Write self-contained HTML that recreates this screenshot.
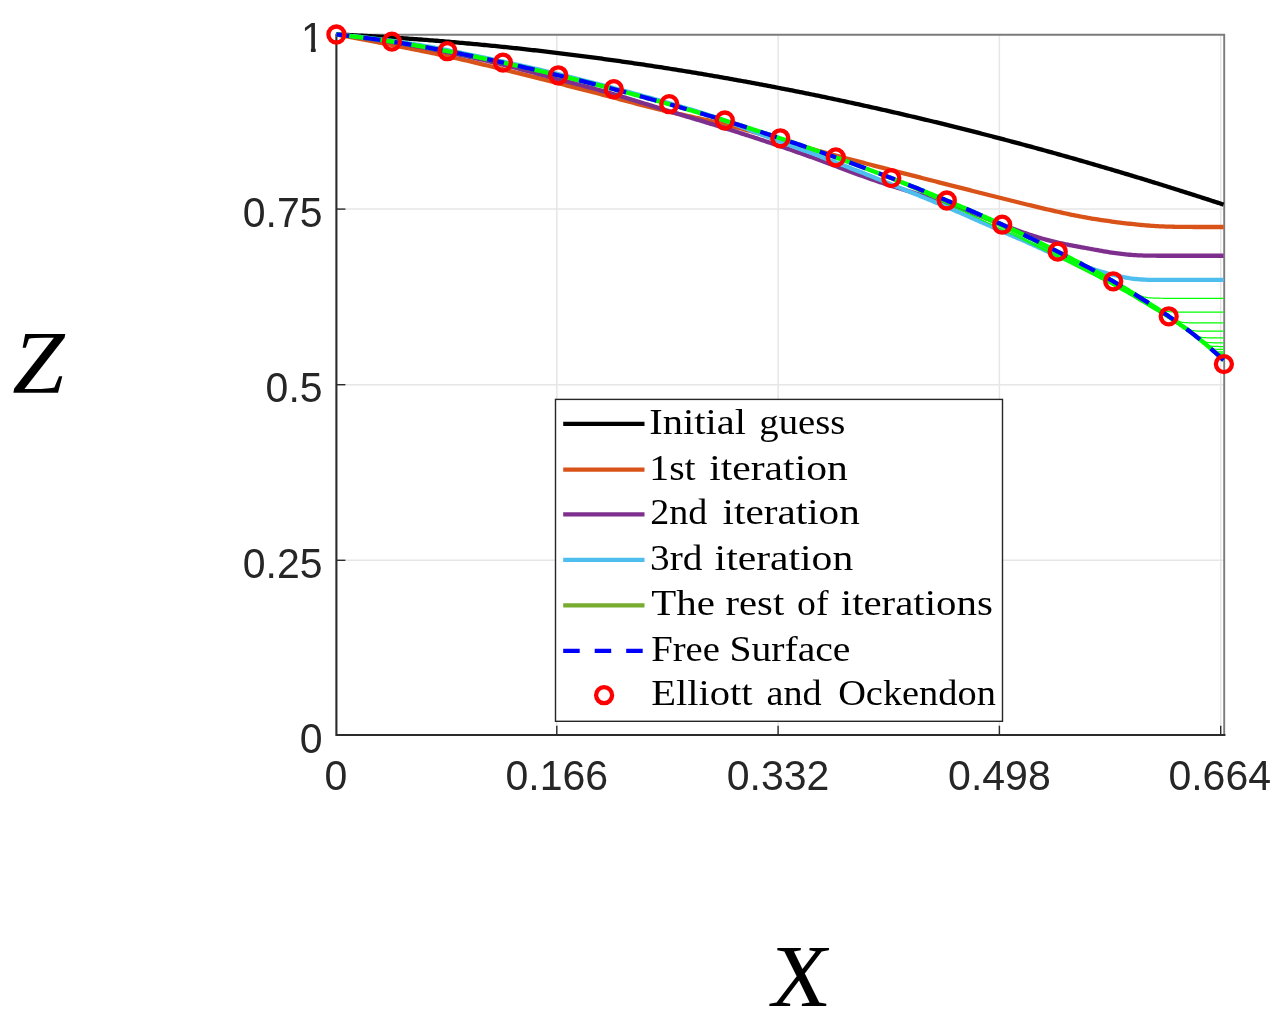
<!DOCTYPE html>
<html lang="en"><head><meta charset="utf-8"><title>Free surface iterations</title>
<style>html,body{margin:0;padding:0;background:#fff;overflow:hidden}svg{display:block}.t{font-family:"Liberation Sans",sans-serif;font-size:41px;fill:#262626}.l{font-family:"Liberation Serif",serif;font-size:36.2px;fill:#000}.a{font-family:"Liberation Serif",serif;font-style:italic;fill:#000}</style></head><body>
<svg width="1288" height="1028" viewBox="0 0 1288 1028">
<rect width="1288" height="1028" fill="#fff"/>
<g stroke="#e6e6e6" stroke-width="1.5" fill="none">
<line x1="556.8" y1="34.7" x2="556.8" y2="735.0"/>
<line x1="778.1" y1="34.7" x2="778.1" y2="735.0"/>
<line x1="999.4" y1="34.7" x2="999.4" y2="735.0"/>
<line x1="1220.7" y1="34.7" x2="1220.7" y2="735.0"/>
<line x1="336.4" y1="560.3" x2="1224.2" y2="560.3"/>
<line x1="336.4" y1="384.7" x2="1224.2" y2="384.7"/>
<line x1="336.4" y1="209.1" x2="1224.2" y2="209.1"/>
</g>
<path d="M336.4,34.7 H1224.2 V735.0" stroke="#7b7b7b" stroke-width="1.9" fill="none"/>
<g stroke="#2b2b2b" fill="none"><path d="M336.4,33.7 V735.0 H1225.4" stroke-width="2.1"/>
<g stroke-width="1.4">
<line x1="556.8" y1="735.0" x2="556.8" y2="725.7"/>
<line x1="778.1" y1="735.0" x2="778.1" y2="725.7"/>
<line x1="999.4" y1="735.0" x2="999.4" y2="725.7"/>
<line x1="1220.7" y1="735.0" x2="1220.7" y2="725.7"/>
<line x1="336.4" y1="560.3" x2="345.4" y2="560.3"/>
<line x1="336.4" y1="384.7" x2="345.4" y2="384.7"/>
<line x1="336.4" y1="209.1" x2="345.4" y2="209.1"/>
</g></g>
<g fill="none" stroke-linejoin="round">
<path d="M336.4,34.44 L338.4,34.53 L340.4,34.62 L342.4,34.72 L344.4,34.81 L346.4,34.91 L348.4,35.01 L350.4,35.11 L352.4,35.21 L354.4,35.32 L356.4,35.42 L358.4,35.53 L360.4,35.63 L362.4,35.74 L364.4,35.85 L366.4,35.97 L368.4,36.08 L370.4,36.19 L372.4,36.31 L374.4,36.43 L376.4,36.54 L378.4,36.66 L380.4,36.79 L382.4,36.91 L384.4,37.03 L386.4,37.16 L388.4,37.29 L390.4,37.41 L392.3,37.54 L394.3,37.67 L396.3,37.81 L398.3,37.94 L400.3,38.08 L402.3,38.21 L404.3,38.35 L406.3,38.49 L408.3,38.63 L410.3,38.77 L412.3,38.92 L414.3,39.06 L416.3,39.21 L418.3,39.35 L420.3,39.50 L422.3,39.65 L424.3,39.81 L426.3,39.96 L428.3,40.11 L430.3,40.27 L432.3,40.43 L434.3,40.58 L436.3,40.74 L438.3,40.91 L440.3,41.07 L442.3,41.23 L444.3,41.40 L446.3,41.56 L448.3,41.73 L450.3,41.90 L452.3,42.07 L454.3,42.25 L456.3,42.42 L458.3,42.59 L460.3,42.77 L462.3,42.95 L464.3,43.13 L466.3,43.31 L468.3,43.49 L470.3,43.67 L472.3,43.86 L474.3,44.04 L476.3,44.23 L478.3,44.42 L480.3,44.61 L482.3,44.80 L484.3,44.99 L486.3,45.19 L488.3,45.38 L490.3,45.58 L492.3,45.78 L494.3,45.97 L496.3,46.18 L498.3,46.38 L500.3,46.58 L502.3,46.79 L504.2,46.99 L506.2,47.20 L508.2,47.41 L510.2,47.62 L512.2,47.83 L514.2,48.04 L516.2,48.26 L518.2,48.47 L520.2,48.69 L522.2,48.91 L524.2,49.13 L526.2,49.35 L528.2,49.57 L530.2,49.79 L532.2,50.02 L534.2,50.24 L536.2,50.47 L538.2,50.70 L540.2,50.93 L542.2,51.16 L544.2,51.40 L546.2,51.63 L548.2,51.87 L550.2,52.10 L552.2,52.34 L554.2,52.58 L556.2,52.82 L558.2,53.06 L560.2,53.31 L562.2,53.55 L564.2,53.80 L566.2,54.05 L568.2,54.30 L570.2,54.55 L572.2,54.80 L574.2,55.05 L576.2,55.31 L578.2,55.56 L580.2,55.82 L582.2,56.08 L584.2,56.34 L586.2,56.60 L588.2,56.86 L590.2,57.12 L592.2,57.39 L594.2,57.65 L596.2,57.92 L598.2,58.19 L600.2,58.46 L602.2,58.73 L604.2,59.01 L606.2,59.28 L608.2,59.56 L610.2,59.83 L612.2,60.11 L614.1,60.39 L616.1,60.67 L618.1,60.95 L620.1,61.24 L622.1,61.52 L624.1,61.81 L626.1,62.09 L628.1,62.38 L630.1,62.67 L632.1,62.96 L634.1,63.26 L636.1,63.55 L638.1,63.85 L640.1,64.14 L642.1,64.44 L644.1,64.74 L646.1,65.04 L648.1,65.34 L650.1,65.65 L652.1,65.95 L654.1,66.26 L656.1,66.56 L658.1,66.87 L660.1,67.18 L662.1,67.49 L664.1,67.80 L666.1,68.12 L668.1,68.43 L670.1,68.75 L672.1,69.07 L674.1,69.39 L676.1,69.71 L678.1,70.03 L680.1,70.35 L682.1,70.67 L684.1,71.00 L686.1,71.33 L688.1,71.65 L690.1,71.98 L692.1,72.31 L694.1,72.65 L696.1,72.98 L698.1,73.31 L700.1,73.65 L702.1,73.99 L704.1,74.32 L706.1,74.66 L708.1,75.00 L710.1,75.35 L712.1,75.69 L714.1,76.04 L716.1,76.38 L718.1,76.73 L720.1,77.08 L722.1,77.43 L724.1,77.78 L726.0,78.13 L728.0,78.48 L730.0,78.84 L732.0,79.20 L734.0,79.55 L736.0,79.91 L738.0,80.27 L740.0,80.63 L742.0,81.00 L744.0,81.36 L746.0,81.73 L748.0,82.09 L750.0,82.46 L752.0,82.83 L754.0,83.20 L756.0,83.57 L758.0,83.95 L760.0,84.32 L762.0,84.70 L764.0,85.07 L766.0,85.45 L768.0,85.83 L770.0,86.21 L772.0,86.59 L774.0,86.98 L776.0,87.36 L778.0,87.75 L780.0,88.13 L782.0,88.52 L784.0,88.91 L786.0,89.30 L788.0,89.70 L790.0,90.09 L792.0,90.48 L794.0,90.88 L796.0,91.28 L798.0,91.68 L800.0,92.08 L802.0,92.48 L804.0,92.88 L806.0,93.28 L808.0,93.69 L810.0,94.09 L812.0,94.50 L814.0,94.91 L816.0,95.32 L818.0,95.73 L820.0,96.14 L822.0,96.56 L824.0,96.97 L826.0,97.39 L828.0,97.81 L830.0,98.23 L832.0,98.65 L834.0,99.07 L835.9,99.49 L837.9,99.91 L839.9,100.34 L841.9,100.77 L843.9,101.19 L845.9,101.62 L847.9,102.05 L849.9,102.48 L851.9,102.92 L853.9,103.35 L855.9,103.79 L857.9,104.22 L859.9,104.66 L861.9,105.10 L863.9,105.54 L865.9,105.98 L867.9,106.42 L869.9,106.87 L871.9,107.31 L873.9,107.76 L875.9,108.21 L877.9,108.66 L879.9,109.11 L881.9,109.56 L883.9,110.01 L885.9,110.46 L887.9,110.92 L889.9,111.38 L891.9,111.83 L893.9,112.29 L895.9,112.75 L897.9,113.21 L899.9,113.68 L901.9,114.14 L903.9,114.60 L905.9,115.07 L907.9,115.54 L909.9,116.01 L911.9,116.48 L913.9,116.95 L915.9,117.42 L917.9,117.90 L919.9,118.37 L921.9,118.85 L923.9,119.32 L925.9,119.80 L927.9,120.28 L929.9,120.76 L931.9,121.25 L933.9,121.73 L935.9,122.21 L937.9,122.70 L939.9,123.19 L941.9,123.68 L943.9,124.17 L945.9,124.66 L947.8,125.15 L949.8,125.64 L951.8,126.14 L953.8,126.63 L955.8,127.13 L957.8,127.63 L959.8,128.13 L961.8,128.63 L963.8,129.13 L965.8,129.64 L967.8,130.14 L969.8,130.65 L971.8,131.15 L973.8,131.66 L975.8,132.17 L977.8,132.68 L979.8,133.19 L981.8,133.71 L983.8,134.22 L985.8,134.74 L987.8,135.25 L989.8,135.77 L991.8,136.29 L993.8,136.81 L995.8,137.33 L997.8,137.86 L999.8,138.38 L1001.8,138.90 L1003.8,139.43 L1005.8,139.96 L1007.8,140.49 L1009.8,141.02 L1011.8,141.55 L1013.8,142.08 L1015.8,142.62 L1017.8,143.15 L1019.8,143.69 L1021.8,144.22 L1023.8,144.76 L1025.8,145.30 L1027.8,145.84 L1029.8,146.39 L1031.8,146.93 L1033.8,147.47 L1035.8,148.02 L1037.8,148.57 L1039.8,149.11 L1041.8,149.66 L1043.8,150.21 L1045.8,150.77 L1047.8,151.32 L1049.8,151.87 L1051.8,152.43 L1053.8,152.99 L1055.8,153.54 L1057.7,154.10 L1059.7,154.66 L1061.7,155.22 L1063.7,155.79 L1065.7,156.35 L1067.7,156.92 L1069.7,157.48 L1071.7,158.05 L1073.7,158.62 L1075.7,159.19 L1077.7,159.76 L1079.7,160.33 L1081.7,160.90 L1083.7,161.48 L1085.7,162.05 L1087.7,162.63 L1089.7,163.21 L1091.7,163.79 L1093.7,164.37 L1095.7,164.95 L1097.7,165.53 L1099.7,166.12 L1101.7,166.70 L1103.7,167.29 L1105.7,167.88 L1107.7,168.47 L1109.7,169.06 L1111.7,169.65 L1113.7,170.24 L1115.7,170.83 L1117.7,171.43 L1119.7,172.03 L1121.7,172.62 L1123.7,173.22 L1125.7,173.82 L1127.7,174.42 L1129.7,175.02 L1131.7,175.63 L1133.7,176.23 L1135.7,176.84 L1137.7,177.44 L1139.7,178.05 L1141.7,178.66 L1143.7,179.27 L1145.7,179.88 L1147.7,180.49 L1149.7,181.11 L1151.7,181.72 L1153.7,182.34 L1155.7,182.95 L1157.7,183.57 L1159.7,184.19 L1161.7,184.81 L1163.7,185.43 L1165.7,186.06 L1167.7,186.68 L1169.6,187.31 L1171.6,187.93 L1173.6,188.56 L1175.6,189.19 L1177.6,189.82 L1179.6,190.45 L1181.6,191.08 L1183.6,191.72 L1185.6,192.35 L1187.6,192.99 L1189.6,193.62 L1191.6,194.26 L1193.6,194.90 L1195.6,195.54 L1197.6,196.18 L1199.6,196.83 L1201.6,197.47 L1203.6,198.12 L1205.6,198.76 L1207.6,199.41 L1209.6,200.06 L1211.6,200.71 L1213.6,201.36 L1215.6,202.01 L1217.6,202.66 L1219.6,203.32 L1221.6,203.97 L1223.6,204.63" stroke="#000" stroke-width="4.3"/>
<path d="M336.4,34.51 L338.4,34.88 L340.4,35.24 L342.4,35.61 L344.4,35.98 L346.4,36.35 L348.4,36.72 L350.4,37.10 L352.4,37.47 L354.4,37.84 L356.4,38.22 L358.4,38.59 L360.4,38.97 L362.4,39.35 L364.4,39.72 L366.4,40.10 L368.4,40.48 L370.4,40.86 L372.4,41.24 L374.4,41.63 L376.4,42.01 L378.4,42.39 L380.4,42.78 L382.4,43.16 L384.4,43.55 L386.4,43.93 L388.4,44.32 L390.4,44.71 L392.3,45.10 L394.3,45.49 L396.3,45.88 L398.3,46.27 L400.3,46.66 L402.3,47.05 L404.3,47.44 L406.3,47.83 L408.3,48.23 L410.3,48.62 L412.3,49.02 L414.3,49.41 L416.3,49.81 L418.3,50.21 L420.3,50.61 L422.3,51.02 L424.3,51.42 L426.3,51.83 L428.3,52.24 L430.3,52.65 L432.3,53.06 L434.3,53.48 L436.3,53.89 L438.3,54.31 L440.3,54.74 L442.3,55.16 L444.3,55.59 L446.3,56.03 L448.3,56.46 L450.3,56.90 L452.3,57.34 L454.3,57.79 L456.3,58.24 L458.3,58.69 L460.3,59.14 L462.3,59.60 L464.3,60.06 L466.3,60.53 L468.3,60.99 L470.3,61.46 L472.3,61.93 L474.3,62.40 L476.3,62.88 L478.3,63.35 L480.3,63.83 L482.3,64.31 L484.3,64.79 L486.3,65.27 L488.3,65.76 L490.3,66.24 L492.3,66.73 L494.3,67.21 L496.3,67.70 L498.3,68.19 L500.3,68.68 L502.3,69.17 L504.2,69.66 L506.2,70.15 L508.2,70.64 L510.2,71.14 L512.2,71.63 L514.2,72.13 L516.2,72.63 L518.2,73.13 L520.2,73.63 L522.2,74.13 L524.2,74.63 L526.2,75.13 L528.2,75.64 L530.2,76.14 L532.2,76.65 L534.2,77.15 L536.2,77.66 L538.2,78.17 L540.2,78.68 L542.2,79.18 L544.2,79.69 L546.2,80.20 L548.2,80.71 L550.2,81.22 L552.2,81.73 L554.2,82.24 L556.2,82.75 L558.2,83.26 L560.2,83.77 L562.2,84.28 L564.2,84.79 L566.2,85.30 L568.2,85.81 L570.2,86.32 L572.2,86.83 L574.2,87.34 L576.2,87.86 L578.2,88.37 L580.2,88.88 L582.2,89.39 L584.2,89.91 L586.2,90.42 L588.2,90.93 L590.2,91.45 L592.2,91.97 L594.2,92.48 L596.2,93.00 L598.2,93.52 L600.2,94.04 L602.2,94.56 L604.2,95.09 L606.2,95.61 L608.2,96.14 L610.2,96.66 L612.2,97.19 L614.1,97.72 L616.1,98.25 L618.1,98.79 L620.1,99.32 L622.1,99.85 L624.1,100.39 L626.1,100.92 L628.1,101.45 L630.1,101.98 L632.1,102.51 L634.1,103.04 L636.1,103.57 L638.1,104.09 L640.1,104.61 L642.1,105.12 L644.1,105.63 L646.1,106.14 L648.1,106.65 L650.1,107.15 L652.1,107.65 L654.1,108.14 L656.1,108.63 L658.1,109.12 L660.1,109.60 L662.1,110.08 L664.1,110.56 L666.1,111.03 L668.1,111.50 L670.1,111.96 L672.1,112.43 L674.1,112.89 L676.1,113.34 L678.1,113.79 L680.1,114.25 L682.1,114.69 L684.1,115.14 L686.1,115.58 L688.1,116.03 L690.1,116.47 L692.1,116.91 L694.1,117.34 L696.1,117.78 L698.1,118.22 L700.1,118.66 L702.1,119.10 L704.1,119.53 L706.1,119.97 L708.1,120.42 L710.1,120.86 L712.1,121.31 L714.1,121.76 L716.1,122.22 L718.1,122.68 L720.1,123.14 L722.1,123.62 L724.1,124.10 L726.0,124.59 L728.0,125.09 L730.0,125.59 L732.0,126.10 L734.0,126.62 L736.0,127.15 L738.0,127.68 L740.0,128.22 L742.0,128.77 L744.0,129.31 L746.0,129.87 L748.0,130.42 L750.0,130.98 L752.0,131.54 L754.0,132.10 L756.0,132.66 L758.0,133.23 L760.0,133.80 L762.0,134.37 L764.0,134.94 L766.0,135.51 L768.0,136.08 L770.0,136.66 L772.0,137.24 L774.0,137.82 L776.0,138.40 L778.0,138.99 L780.0,139.58 L782.0,140.17 L784.0,140.76 L786.0,141.36 L788.0,141.96 L790.0,142.56 L792.0,143.16 L794.0,143.76 L796.0,144.36 L798.0,144.96 L800.0,145.56 L802.0,146.16 L804.0,146.75 L806.0,147.34 L808.0,147.93 L810.0,148.50 L812.0,149.08 L814.0,149.65 L816.0,150.21 L818.0,150.77 L820.0,151.32 L822.0,151.87 L824.0,152.42 L826.0,152.95 L828.0,153.49 L830.0,154.02 L832.0,154.56 L834.0,155.08 L835.9,155.61 L837.9,156.14 L839.9,156.66 L841.9,157.19 L843.9,157.71 L845.9,158.24 L847.9,158.76 L849.9,159.29 L851.9,159.81 L853.9,160.33 L855.9,160.86 L857.9,161.38 L859.9,161.90 L861.9,162.42 L863.9,162.95 L865.9,163.47 L867.9,163.99 L869.9,164.51 L871.9,165.03 L873.9,165.55 L875.9,166.07 L877.9,166.59 L879.9,167.11 L881.9,167.63 L883.9,168.15 L885.9,168.67 L887.9,169.19 L889.9,169.71 L891.9,170.23 L893.9,170.74 L895.9,171.26 L897.9,171.78 L899.9,172.29 L901.9,172.81 L903.9,173.33 L905.9,173.84 L907.9,174.36 L909.9,174.87 L911.9,175.39 L913.9,175.90 L915.9,176.42 L917.9,176.93 L919.9,177.44 L921.9,177.96 L923.9,178.47 L925.9,178.98 L927.9,179.49 L929.9,180.00 L931.9,180.52 L933.9,181.03 L935.9,181.54 L937.9,182.05 L939.9,182.56 L941.9,183.07 L943.9,183.58 L945.9,184.09 L947.8,184.60 L949.8,185.11 L951.8,185.62 L953.8,186.13 L955.8,186.64 L957.8,187.15 L959.8,187.66 L961.8,188.17 L963.8,188.68 L965.8,189.19 L967.8,189.69 L969.8,190.20 L971.8,190.71 L973.8,191.22 L975.8,191.72 L977.8,192.23 L979.8,192.73 L981.8,193.24 L983.8,193.74 L985.8,194.24 L987.8,194.74 L989.8,195.25 L991.8,195.75 L993.8,196.25 L995.8,196.75 L997.8,197.25 L999.8,197.75 L1001.8,198.25 L1003.8,198.75 L1005.8,199.25 L1007.8,199.75 L1009.8,200.25 L1011.8,200.75 L1013.8,201.25 L1015.8,201.75 L1017.8,202.24 L1019.8,202.74 L1021.8,203.24 L1023.8,203.73 L1025.8,204.22 L1027.8,204.72 L1029.8,205.21 L1031.8,205.70 L1033.8,206.18 L1035.8,206.66 L1037.8,207.15 L1039.8,207.62 L1041.8,208.10 L1043.8,208.57 L1045.8,209.04 L1047.8,209.50 L1049.8,209.96 L1051.8,210.42 L1053.8,210.87 L1055.8,211.33 L1057.7,211.77 L1059.7,212.21 L1061.7,212.65 L1063.7,213.09 L1065.7,213.52 L1067.7,213.94 L1069.7,214.36 L1071.7,214.77 L1073.7,215.18 L1075.7,215.58 L1077.7,215.98 L1079.7,216.37 L1081.7,216.74 L1083.7,217.12 L1085.7,217.48 L1087.7,217.83 L1089.7,218.18 L1091.7,218.52 L1093.7,218.85 L1095.7,219.17 L1097.7,219.49 L1099.7,219.79 L1101.7,220.09 L1103.7,220.39 L1105.7,220.67 L1107.7,220.96 L1109.7,221.23 L1111.7,221.51 L1113.7,221.77 L1115.7,222.04 L1117.7,222.29 L1119.7,222.55 L1121.7,222.80 L1123.7,223.04 L1125.7,223.28 L1127.7,223.52 L1129.7,223.75 L1131.7,223.97 L1133.7,224.19 L1135.7,224.40 L1137.7,224.60 L1139.7,224.80 L1141.7,224.99 L1143.7,225.17 L1145.7,225.34 L1147.7,225.50 L1149.7,225.65 L1151.7,225.80 L1153.7,225.93 L1155.7,226.06 L1157.7,226.17 L1159.7,226.28 L1161.7,226.37 L1163.7,226.46 L1165.7,226.54 L1167.7,226.61 L1169.6,226.67 L1171.6,226.72 L1173.6,226.77 L1175.6,226.81 L1177.6,226.84 L1179.6,226.87 L1181.6,226.89 L1183.6,226.92 L1185.6,226.93 L1187.6,226.95 L1189.6,226.96 L1191.6,226.97 L1193.6,226.98 L1195.6,226.98 L1197.6,226.99 L1199.6,226.99 L1201.6,226.99 L1203.6,227.00 L1205.6,227.00 L1207.6,227.00 L1209.6,227.00 L1211.6,227.00 L1213.6,227.00 L1215.6,227.00 L1217.6,227.00 L1219.6,227.00 L1221.6,227.00 L1223.6,227.00" stroke="#d95319" stroke-width="4.3"/>
<path d="M336.4,34.52 L338.4,34.76 L340.4,35.00 L342.4,35.24 L344.4,35.48 L346.4,35.73 L348.4,35.98 L350.4,36.23 L352.4,36.48 L354.4,36.74 L356.4,37.00 L358.4,37.27 L360.4,37.53 L362.4,37.81 L364.4,38.08 L366.4,38.36 L368.4,38.63 L370.4,38.92 L372.4,39.20 L374.4,39.49 L376.4,39.78 L378.4,40.08 L380.4,40.37 L382.4,40.67 L384.4,40.97 L386.4,41.28 L388.4,41.59 L390.4,41.90 L392.3,42.22 L394.3,42.53 L396.3,42.86 L398.3,43.18 L400.3,43.51 L402.3,43.85 L404.3,44.18 L406.3,44.52 L408.3,44.87 L410.3,45.22 L412.3,45.57 L414.3,45.92 L416.3,46.28 L418.3,46.64 L420.3,47.01 L422.3,47.38 L424.3,47.75 L426.3,48.12 L428.3,48.50 L430.3,48.88 L432.3,49.26 L434.3,49.65 L436.3,50.04 L438.3,50.43 L440.3,50.82 L442.3,51.22 L444.3,51.62 L446.3,52.02 L448.3,52.42 L450.3,52.83 L452.3,53.24 L454.3,53.65 L456.3,54.07 L458.3,54.49 L460.3,54.91 L462.3,55.34 L464.3,55.77 L466.3,56.20 L468.3,56.63 L470.3,57.07 L472.3,57.51 L474.3,57.96 L476.3,58.41 L478.3,58.86 L480.3,59.31 L482.3,59.77 L484.3,60.23 L486.3,60.69 L488.3,61.16 L490.3,61.62 L492.3,62.10 L494.3,62.57 L496.3,63.05 L498.3,63.53 L500.3,64.01 L502.3,64.50 L504.2,64.99 L506.2,65.48 L508.2,65.98 L510.2,66.49 L512.2,66.99 L514.2,67.50 L516.2,68.02 L518.2,68.54 L520.2,69.06 L522.2,69.58 L524.2,70.11 L526.2,70.64 L528.2,71.17 L530.2,71.71 L532.2,72.24 L534.2,72.78 L536.2,73.32 L538.2,73.86 L540.2,74.40 L542.2,74.94 L544.2,75.48 L546.2,76.02 L548.2,76.56 L550.2,77.10 L552.2,77.63 L554.2,78.17 L556.2,78.70 L558.2,79.23 L560.2,79.77 L562.2,80.29 L564.2,80.82 L566.2,81.35 L568.2,81.87 L570.2,82.40 L572.2,82.92 L574.2,83.44 L576.2,83.97 L578.2,84.49 L580.2,85.01 L582.2,85.54 L584.2,86.06 L586.2,86.59 L588.2,87.11 L590.2,87.64 L592.2,88.18 L594.2,88.71 L596.2,89.25 L598.2,89.79 L600.2,90.33 L602.2,90.88 L604.2,91.43 L606.2,91.99 L608.2,92.55 L610.2,93.12 L612.2,93.70 L614.1,94.27 L616.1,94.86 L618.1,95.45 L620.1,96.04 L622.1,96.64 L624.1,97.25 L626.1,97.86 L628.1,98.47 L630.1,99.09 L632.1,99.70 L634.1,100.32 L636.1,100.94 L638.1,101.56 L640.1,102.18 L642.1,102.80 L644.1,103.43 L646.1,104.05 L648.1,104.67 L650.1,105.29 L652.1,105.91 L654.1,106.53 L656.1,107.15 L658.1,107.77 L660.1,108.39 L662.1,109.01 L664.1,109.62 L666.1,110.24 L668.1,110.85 L670.1,111.47 L672.1,112.08 L674.1,112.69 L676.1,113.30 L678.1,113.90 L680.1,114.51 L682.1,115.11 L684.1,115.72 L686.1,116.32 L688.1,116.92 L690.1,117.53 L692.1,118.13 L694.1,118.73 L696.1,119.33 L698.1,119.93 L700.1,120.54 L702.1,121.14 L704.1,121.75 L706.1,122.35 L708.1,122.96 L710.1,123.57 L712.1,124.18 L714.1,124.79 L716.1,125.41 L718.1,126.03 L720.1,126.64 L722.1,127.27 L724.1,127.89 L726.0,128.51 L728.0,129.14 L730.0,129.77 L732.0,130.40 L734.0,131.04 L736.0,131.67 L738.0,132.31 L740.0,132.95 L742.0,133.59 L744.0,134.23 L746.0,134.88 L748.0,135.52 L750.0,136.17 L752.0,136.82 L754.0,137.47 L756.0,138.12 L758.0,138.78 L760.0,139.44 L762.0,140.09 L764.0,140.76 L766.0,141.42 L768.0,142.09 L770.0,142.75 L772.0,143.42 L774.0,144.10 L776.0,144.77 L778.0,145.45 L780.0,146.13 L782.0,146.81 L784.0,147.50 L786.0,148.18 L788.0,148.87 L790.0,149.57 L792.0,150.26 L794.0,150.96 L796.0,151.66 L798.0,152.36 L800.0,153.06 L802.0,153.77 L804.0,154.48 L806.0,155.19 L808.0,155.90 L810.0,156.61 L812.0,157.33 L814.0,158.05 L816.0,158.77 L818.0,159.50 L820.0,160.22 L822.0,160.95 L824.0,161.68 L826.0,162.41 L828.0,163.15 L830.0,163.88 L832.0,164.62 L834.0,165.37 L835.9,166.12 L837.9,166.87 L839.9,167.62 L841.9,168.37 L843.9,169.13 L845.9,169.88 L847.9,170.64 L849.9,171.39 L851.9,172.15 L853.9,172.90 L855.9,173.64 L857.9,174.38 L859.9,175.11 L861.9,175.84 L863.9,176.56 L865.9,177.27 L867.9,177.98 L869.9,178.68 L871.9,179.38 L873.9,180.07 L875.9,180.75 L877.9,181.43 L879.9,182.10 L881.9,182.77 L883.9,183.43 L885.9,184.09 L887.9,184.74 L889.9,185.38 L891.9,186.02 L893.9,186.66 L895.9,187.29 L897.9,187.91 L899.9,188.53 L901.9,189.15 L903.9,189.77 L905.9,190.38 L907.9,190.99 L909.9,191.61 L911.9,192.22 L913.9,192.83 L915.9,193.45 L917.9,194.07 L919.9,194.69 L921.9,195.31 L923.9,195.93 L925.9,196.56 L927.9,197.19 L929.9,197.82 L931.9,198.46 L933.9,199.10 L935.9,199.75 L937.9,200.41 L939.9,201.07 L941.9,201.74 L943.9,202.41 L945.9,203.09 L947.8,203.78 L949.8,204.48 L951.8,205.19 L953.8,205.90 L955.8,206.62 L957.8,207.35 L959.8,208.09 L961.8,208.83 L963.8,209.58 L965.8,210.33 L967.8,211.09 L969.8,211.85 L971.8,212.62 L973.8,213.40 L975.8,214.18 L977.8,214.96 L979.8,215.75 L981.8,216.54 L983.8,217.34 L985.8,218.14 L987.8,218.94 L989.8,219.74 L991.8,220.55 L993.8,221.36 L995.8,222.16 L997.8,222.96 L999.8,223.76 L1001.8,224.55 L1003.8,225.33 L1005.8,226.10 L1007.8,226.87 L1009.8,227.63 L1011.8,228.37 L1013.8,229.11 L1015.8,229.84 L1017.8,230.56 L1019.8,231.28 L1021.8,231.98 L1023.8,232.68 L1025.8,233.36 L1027.8,234.04 L1029.8,234.71 L1031.8,235.36 L1033.8,236.01 L1035.8,236.64 L1037.8,237.26 L1039.8,237.86 L1041.8,238.45 L1043.8,239.03 L1045.8,239.59 L1047.8,240.13 L1049.8,240.66 L1051.8,241.16 L1053.8,241.65 L1055.8,242.13 L1057.7,242.58 L1059.7,243.02 L1061.7,243.45 L1063.7,243.86 L1065.7,244.26 L1067.7,244.65 L1069.7,245.04 L1071.7,245.41 L1073.7,245.79 L1075.7,246.16 L1077.7,246.53 L1079.7,246.90 L1081.7,247.27 L1083.7,247.64 L1085.7,248.01 L1087.7,248.38 L1089.7,248.75 L1091.7,249.12 L1093.7,249.49 L1095.7,249.86 L1097.7,250.22 L1099.7,250.58 L1101.7,250.93 L1103.7,251.27 L1105.7,251.61 L1107.7,251.94 L1109.7,252.26 L1111.7,252.57 L1113.7,252.87 L1115.7,253.16 L1117.7,253.43 L1119.7,253.69 L1121.7,253.94 L1123.7,254.17 L1125.7,254.38 L1127.7,254.58 L1129.7,254.76 L1131.7,254.92 L1133.7,255.06 L1135.7,255.18 L1137.7,255.29 L1139.7,255.38 L1141.7,255.46 L1143.7,255.53 L1145.7,255.58 L1147.7,255.62 L1149.7,255.66 L1151.7,255.68 L1153.7,255.70 L1155.7,255.72 L1157.7,255.73 L1159.7,255.74 L1161.7,255.74 L1163.7,255.74 L1165.7,255.75 L1167.7,255.75 L1169.6,255.75 L1171.6,255.75 L1173.6,255.75 L1175.6,255.75 L1177.6,255.75 L1179.6,255.75 L1181.6,255.75 L1183.6,255.75 L1185.6,255.75 L1187.6,255.75 L1189.6,255.75 L1191.6,255.75 L1193.6,255.75 L1195.6,255.75 L1197.6,255.75 L1199.6,255.75 L1201.6,255.75 L1203.6,255.75 L1205.6,255.75 L1207.6,255.75 L1209.6,255.75 L1211.6,255.75 L1213.6,255.75 L1215.6,255.75 L1217.6,255.75 L1219.6,255.75 L1221.6,255.75 L1223.6,255.75" stroke="#7e2f8e" stroke-width="4.3"/>
<path d="M336.4,34.51 L338.4,34.69 L340.4,34.88 L342.4,35.06 L344.4,35.25 L346.4,35.45 L348.4,35.65 L350.4,35.85 L352.4,36.05 L354.4,36.26 L356.4,36.47 L358.4,36.69 L360.4,36.91 L362.4,37.13 L364.4,37.35 L366.4,37.58 L368.4,37.82 L370.4,38.05 L372.4,38.29 L374.4,38.54 L376.4,38.78 L378.4,39.03 L380.4,39.29 L382.4,39.54 L384.4,39.80 L386.4,40.07 L388.4,40.34 L390.4,40.61 L392.3,40.88 L394.3,41.16 L396.3,41.45 L398.3,41.74 L400.3,42.03 L402.3,42.33 L404.3,42.64 L406.3,42.94 L408.3,43.26 L410.3,43.58 L412.3,43.90 L414.3,44.22 L416.3,44.56 L418.3,44.89 L420.3,45.23 L422.3,45.57 L424.3,45.92 L426.3,46.27 L428.3,46.63 L430.3,46.98 L432.3,47.35 L434.3,47.71 L436.3,48.08 L438.3,48.45 L440.3,48.83 L442.3,49.20 L444.3,49.59 L446.3,49.97 L448.3,50.36 L450.3,50.74 L452.3,51.14 L454.3,51.53 L456.3,51.93 L458.3,52.33 L460.3,52.73 L462.3,53.13 L464.3,53.53 L466.3,53.94 L468.3,54.35 L470.3,54.76 L472.3,55.17 L474.3,55.58 L476.3,56.00 L478.3,56.41 L480.3,56.83 L482.3,57.25 L484.3,57.67 L486.3,58.09 L488.3,58.51 L490.3,58.93 L492.3,59.35 L494.3,59.78 L496.3,60.20 L498.3,60.62 L500.3,61.05 L502.3,61.47 L504.2,61.90 L506.2,62.33 L508.2,62.76 L510.2,63.19 L512.2,63.62 L514.2,64.06 L516.2,64.49 L518.2,64.93 L520.2,65.37 L522.2,65.82 L524.2,66.26 L526.2,66.71 L528.2,67.16 L530.2,67.61 L532.2,68.06 L534.2,68.52 L536.2,68.97 L538.2,69.43 L540.2,69.89 L542.2,70.36 L544.2,70.82 L546.2,71.29 L548.2,71.76 L550.2,72.23 L552.2,72.70 L554.2,73.17 L556.2,73.65 L558.2,74.12 L560.2,74.60 L562.2,75.08 L564.2,75.57 L566.2,76.05 L568.2,76.54 L570.2,77.03 L572.2,77.52 L574.2,78.01 L576.2,78.50 L578.2,79.00 L580.2,79.49 L582.2,79.99 L584.2,80.49 L586.2,81.00 L588.2,81.50 L590.2,82.00 L592.2,82.51 L594.2,83.02 L596.2,83.53 L598.2,84.04 L600.2,84.56 L602.2,85.07 L604.2,85.59 L606.2,86.11 L608.2,86.63 L610.2,87.15 L612.2,87.67 L614.1,88.20 L616.1,88.72 L618.1,89.25 L620.1,89.78 L622.1,90.31 L624.1,90.84 L626.1,91.38 L628.1,91.91 L630.1,92.45 L632.1,92.99 L634.1,93.52 L636.1,94.07 L638.1,94.61 L640.1,95.15 L642.1,95.70 L644.1,96.24 L646.1,96.79 L648.1,97.34 L650.1,97.89 L652.1,98.44 L654.1,99.00 L656.1,99.55 L658.1,100.11 L660.1,100.67 L662.1,101.23 L664.1,101.79 L666.1,102.35 L668.1,102.91 L670.1,103.48 L672.1,104.05 L674.1,104.62 L676.1,105.19 L678.1,105.77 L680.1,106.35 L682.1,106.94 L684.1,107.53 L686.1,108.12 L688.1,108.71 L690.1,109.31 L692.1,109.92 L694.1,110.53 L696.1,111.14 L698.1,111.76 L700.1,112.38 L702.1,113.01 L704.1,113.64 L706.1,114.28 L708.1,114.92 L710.1,115.57 L712.1,116.22 L714.1,116.88 L716.1,117.55 L718.1,118.22 L720.1,118.90 L722.1,119.59 L724.1,120.28 L726.0,120.99 L728.0,121.71 L730.0,122.44 L732.0,123.18 L734.0,123.93 L736.0,124.69 L738.0,125.46 L740.0,126.23 L742.0,127.01 L744.0,127.79 L746.0,128.57 L748.0,129.35 L750.0,130.13 L752.0,130.91 L754.0,131.68 L756.0,132.45 L758.0,133.22 L760.0,133.99 L762.0,134.75 L764.0,135.52 L766.0,136.28 L768.0,137.04 L770.0,137.81 L772.0,138.56 L774.0,139.32 L776.0,140.07 L778.0,140.82 L780.0,141.57 L782.0,142.31 L784.0,143.05 L786.0,143.78 L788.0,144.52 L790.0,145.25 L792.0,145.97 L794.0,146.70 L796.0,147.43 L798.0,148.16 L800.0,148.89 L802.0,149.63 L804.0,150.36 L806.0,151.10 L808.0,151.85 L810.0,152.59 L812.0,153.34 L814.0,154.09 L816.0,154.85 L818.0,155.60 L820.0,156.36 L822.0,157.12 L824.0,157.88 L826.0,158.64 L828.0,159.40 L830.0,160.17 L832.0,160.93 L834.0,161.70 L835.9,162.47 L837.9,163.23 L839.9,164.00 L841.9,164.78 L843.9,165.55 L845.9,166.32 L847.9,167.10 L849.9,167.87 L851.9,168.65 L853.9,169.43 L855.9,170.22 L857.9,171.00 L859.9,171.79 L861.9,172.58 L863.9,173.37 L865.9,174.17 L867.9,174.97 L869.9,175.77 L871.9,176.57 L873.9,177.37 L875.9,178.18 L877.9,178.99 L879.9,179.80 L881.9,180.60 L883.9,181.41 L885.9,182.22 L887.9,183.03 L889.9,183.84 L891.9,184.65 L893.9,185.46 L895.9,186.26 L897.9,187.07 L899.9,187.88 L901.9,188.68 L903.9,189.49 L905.9,190.29 L907.9,191.09 L909.9,191.90 L911.9,192.70 L913.9,193.51 L915.9,194.32 L917.9,195.12 L919.9,195.93 L921.9,196.74 L923.9,197.55 L925.9,198.37 L927.9,199.18 L929.9,200.00 L931.9,200.82 L933.9,201.64 L935.9,202.46 L937.9,203.29 L939.9,204.12 L941.9,204.96 L943.9,205.79 L945.9,206.64 L947.8,207.48 L949.8,208.33 L951.8,209.19 L953.8,210.05 L955.8,210.91 L957.8,211.78 L959.8,212.65 L961.8,213.52 L963.8,214.40 L965.8,215.27 L967.8,216.15 L969.8,217.03 L971.8,217.91 L973.8,218.79 L975.8,219.68 L977.8,220.56 L979.8,221.45 L981.8,222.34 L983.8,223.23 L985.8,224.11 L987.8,225.00 L989.8,225.89 L991.8,226.78 L993.8,227.66 L995.8,228.55 L997.8,229.43 L999.8,230.31 L1001.8,231.19 L1003.8,232.07 L1005.8,232.94 L1007.8,233.81 L1009.8,234.68 L1011.8,235.55 L1013.8,236.42 L1015.8,237.29 L1017.8,238.16 L1019.8,239.03 L1021.8,239.90 L1023.8,240.77 L1025.8,241.65 L1027.8,242.54 L1029.8,243.43 L1031.8,244.33 L1033.8,245.23 L1035.8,246.14 L1037.8,247.06 L1039.8,247.97 L1041.8,248.89 L1043.8,249.81 L1045.8,250.72 L1047.8,251.62 L1049.8,252.51 L1051.8,253.38 L1053.8,254.24 L1055.8,255.08 L1057.7,255.90 L1059.7,256.71 L1061.7,257.49 L1063.7,258.27 L1065.7,259.03 L1067.7,259.78 L1069.7,260.53 L1071.7,261.28 L1073.7,262.03 L1075.7,262.78 L1077.7,263.54 L1079.7,264.29 L1081.7,265.05 L1083.7,265.79 L1085.7,266.52 L1087.7,267.24 L1089.7,267.94 L1091.7,268.62 L1093.7,269.28 L1095.7,269.93 L1097.7,270.56 L1099.7,271.18 L1101.7,271.78 L1103.7,272.36 L1105.7,272.92 L1107.7,273.47 L1109.7,274.00 L1111.7,274.51 L1113.7,275.01 L1115.7,275.49 L1117.7,275.95 L1119.7,276.40 L1121.7,276.82 L1123.7,277.22 L1125.7,277.59 L1127.7,277.94 L1129.7,278.25 L1131.7,278.53 L1133.7,278.78 L1135.7,279.00 L1137.7,279.20 L1139.7,279.37 L1141.7,279.51 L1143.7,279.63 L1145.7,279.72 L1147.7,279.79 L1149.7,279.83 L1151.7,279.86 L1153.7,279.88 L1155.7,279.89 L1157.7,279.90 L1159.7,279.90 L1161.7,279.90 L1163.7,279.90 L1165.7,279.90 L1167.7,279.90 L1169.6,279.90 L1171.6,279.90 L1173.6,279.90 L1175.6,279.90 L1177.6,279.90 L1179.6,279.90 L1181.6,279.90 L1183.6,279.90 L1185.6,279.90 L1187.6,279.90 L1189.6,279.90 L1191.6,279.90 L1193.6,279.90 L1195.6,279.90 L1197.6,279.90 L1199.6,279.90 L1201.6,279.90 L1203.6,279.90 L1205.6,279.90 L1207.6,279.90 L1209.6,279.90 L1211.6,279.90 L1213.6,279.90 L1215.6,279.90 L1217.6,279.90 L1219.6,279.90 L1221.6,279.90 L1223.6,279.90" stroke="#4dbeee" stroke-width="4.3"/>
<g stroke="#00ff00" stroke-width="1.25">
<path d="M336.4,34.50 L338.4,34.71 L340.4,34.93 L342.4,35.15 L344.4,35.37 L346.4,35.60 L348.4,35.83 L350.4,36.06 L352.4,36.30 L354.4,36.54 L356.4,36.78 L358.4,37.03 L360.4,37.28 L362.4,37.53 L364.4,37.79 L366.4,38.05 L368.4,38.31 L370.4,38.58 L372.4,38.84 L374.4,39.12 L376.4,39.39 L378.4,39.67 L380.4,39.94 L382.4,40.22 L384.4,40.51 L386.4,40.79 L388.4,41.08 L390.4,41.37 L392.3,41.67 L394.3,41.97 L396.3,42.27 L398.3,42.58 L400.3,42.89 L402.3,43.21 L404.3,43.53 L406.3,43.85 L408.3,44.18 L410.3,44.52 L412.3,44.86 L414.3,45.20 L416.3,45.54 L418.3,45.89 L420.3,46.24 L422.3,46.59 L424.3,46.95 L426.3,47.31 L428.3,47.67 L430.3,48.03 L432.3,48.40 L434.3,48.77 L436.3,49.13 L438.3,49.51 L440.3,49.88 L442.3,50.25 L444.3,50.62 L446.3,51.00 L448.3,51.37 L450.3,51.75 L452.3,52.13 L454.3,52.52 L456.3,52.91 L458.3,53.30 L460.3,53.69 L462.3,54.09 L464.3,54.49 L466.3,54.89 L468.3,55.30 L470.3,55.71 L472.3,56.11 L474.3,56.53 L476.3,56.94 L478.3,57.36 L480.3,57.77 L482.3,58.19 L484.3,58.62 L486.3,59.04 L488.3,59.46 L490.3,59.89 L492.3,60.32 L494.3,60.74 L496.3,61.17 L498.3,61.60 L500.3,62.04 L502.3,62.47 L504.2,62.90 L506.2,63.34 L508.2,63.77 L510.2,64.21 L512.2,64.65 L514.2,65.10 L516.2,65.54 L518.2,65.99 L520.2,66.44 L522.2,66.89 L524.2,67.34 L526.2,67.79 L528.2,68.25 L530.2,68.71 L532.2,69.16 L534.2,69.62 L536.2,70.09 L538.2,70.55 L540.2,71.02 L542.2,71.48 L544.2,71.95 L546.2,72.42 L548.2,72.89 L550.2,73.36 L552.2,73.84 L554.2,74.31 L556.2,74.79 L558.2,75.26 L560.2,75.74 L562.2,76.22 L564.2,76.71 L566.2,77.19 L568.2,77.68 L570.2,78.16 L572.2,78.65 L574.2,79.14 L576.2,79.64 L578.2,80.13 L580.2,80.63 L582.2,81.12 L584.2,81.62 L586.2,82.12 L588.2,82.63 L590.2,83.13 L592.2,83.63 L594.2,84.14 L596.2,84.65 L598.2,85.16 L600.2,85.67 L602.2,86.18 L604.2,86.69 L606.2,87.21 L608.2,87.73 L610.2,88.24 L612.2,88.76 L614.1,89.28 L616.1,89.80 L618.1,90.33 L620.1,90.85 L622.1,91.38 L624.1,91.91 L626.1,92.43 L628.1,92.97 L630.1,93.50 L632.1,94.03 L634.1,94.57 L636.1,95.11 L638.1,95.64 L640.1,96.18 L642.1,96.73 L644.1,97.27 L646.1,97.81 L648.1,98.36 L650.1,98.91 L652.1,99.46 L654.1,100.01 L656.1,100.56 L658.1,101.12 L660.1,101.67 L662.1,102.23 L664.1,102.79 L666.1,103.35 L668.1,103.91 L670.1,104.47 L672.1,105.03 L674.1,105.60 L676.1,106.17 L678.1,106.74 L680.1,107.31 L682.1,107.88 L684.1,108.45 L686.1,109.02 L688.1,109.60 L690.1,110.18 L692.1,110.76 L694.1,111.34 L696.1,111.92 L698.1,112.51 L700.1,113.09 L702.1,113.68 L704.1,114.27 L706.1,114.86 L708.1,115.46 L710.1,116.05 L712.1,116.65 L714.1,117.25 L716.1,117.85 L718.1,118.46 L720.1,119.07 L722.1,119.67 L724.1,120.29 L726.0,120.90 L728.0,121.51 L730.0,122.13 L732.0,122.75 L734.0,123.38 L736.0,124.00 L738.0,124.63 L740.0,125.26 L742.0,125.90 L744.0,126.53 L746.0,127.17 L748.0,127.81 L750.0,128.45 L752.0,129.10 L754.0,129.74 L756.0,130.39 L758.0,131.04 L760.0,131.69 L762.0,132.35 L764.0,133.00 L766.0,133.66 L768.0,134.32 L770.0,134.98 L772.0,135.65 L774.0,136.31 L776.0,136.98 L778.0,137.64 L780.0,138.31 L782.0,138.98 L784.0,139.66 L786.0,140.33 L788.0,141.01 L790.0,141.69 L792.0,142.37 L794.0,143.05 L796.0,143.73 L798.0,144.42 L800.0,145.11 L802.0,145.80 L804.0,146.50 L806.0,147.19 L808.0,147.89 L810.0,148.59 L812.0,149.29 L814.0,150.00 L816.0,150.71 L818.0,151.42 L820.0,152.13 L822.0,152.85 L824.0,153.57 L826.0,154.29 L828.0,155.02 L830.0,155.74 L832.0,156.47 L834.0,157.21 L835.9,157.94 L837.9,158.68 L839.9,159.43 L841.9,160.17 L843.9,160.92 L845.9,161.67 L847.9,162.43 L849.9,163.19 L851.9,163.95 L853.9,164.71 L855.9,165.48 L857.9,166.25 L859.9,167.02 L861.9,167.80 L863.9,168.58 L865.9,169.36 L867.9,170.15 L869.9,170.94 L871.9,171.73 L873.9,172.53 L875.9,173.32 L877.9,174.13 L879.9,174.93 L881.9,175.74 L883.9,176.55 L885.9,177.37 L887.9,178.18 L889.9,179.01 L891.9,179.83 L893.9,180.66 L895.9,181.49 L897.9,182.32 L899.9,183.16 L901.9,184.00 L903.9,184.85 L905.9,185.69 L907.9,186.54 L909.9,187.40 L911.9,188.26 L913.9,189.12 L915.9,189.98 L917.9,190.85 L919.9,191.72 L921.9,192.59 L923.9,193.47 L925.9,194.34 L927.9,195.23 L929.9,196.11 L931.9,197.00 L933.9,197.89 L935.9,198.78 L937.9,199.67 L939.9,200.57 L941.9,201.47 L943.9,202.38 L945.9,203.28 L947.8,204.19 L949.8,205.10 L951.8,206.01 L953.8,206.92 L955.8,207.84 L957.8,208.75 L959.8,209.67 L961.8,210.59 L963.8,211.51 L965.8,212.44 L967.8,213.36 L969.8,214.29 L971.8,215.22 L973.8,216.15 L975.8,217.09 L977.8,218.02 L979.8,218.96 L981.8,219.90 L983.8,220.84 L985.8,221.79 L987.8,222.73 L989.8,223.68 L991.8,224.64 L993.8,225.59 L995.8,226.55 L997.8,227.50 L999.8,228.47 L1001.8,229.43 L1003.8,230.39 L1005.8,231.36 L1007.8,232.33 L1009.8,233.30 L1011.8,234.28 L1013.8,235.25 L1015.8,236.23 L1017.8,237.21 L1019.8,238.19 L1021.8,239.17 L1023.8,240.16 L1025.8,241.14 L1027.8,242.13 L1029.8,243.12 L1031.8,244.11 L1033.8,245.10 L1035.8,246.09 L1037.8,247.08 L1039.8,248.08 L1041.8,249.07 L1043.8,250.07 L1045.8,251.06 L1047.8,252.06 L1049.8,253.06 L1051.8,254.06 L1053.8,255.06 L1055.8,256.06 L1057.7,257.07 L1059.7,258.07 L1061.7,259.07 L1063.7,260.07 L1065.7,261.07 L1067.7,262.07 L1069.7,263.08 L1071.7,264.08 L1073.7,265.08 L1075.7,266.09 L1077.7,267.09 L1079.7,268.10 L1081.7,269.11 L1083.7,270.12 L1085.7,271.14 L1087.7,272.16 L1089.7,273.18 L1091.7,274.21 L1093.7,275.24 L1095.7,276.27 L1097.7,277.31 L1099.7,278.36 L1101.7,279.41 L1103.7,280.39 L1105.7,281.15 L1107.7,281.92 L1109.7,282.71 L1111.7,283.51 L1113.7,284.33 L1115.7,285.15 L1117.7,285.99 L1119.7,286.85 L1121.7,287.71 L1123.7,288.58 L1125.7,289.45 L1127.7,290.32 L1129.7,291.18 L1131.7,292.04 L1133.7,292.91 L1135.7,293.88 L1137.7,294.77 L1139.7,295.55 L1141.7,296.21 L1143.7,296.76 L1145.7,297.19 L1147.7,297.52 L1149.7,297.76 L1151.7,297.93 L1153.7,298.05 L1155.7,298.13 L1157.7,298.19 L1159.7,298.22 L1161.7,298.25 L1163.7,298.27 L1165.7,298.28 L1167.7,298.29 L1169.6,298.29 L1171.6,298.29 L1173.6,298.30 L1175.6,298.30 L1177.6,298.30 L1179.6,298.30 L1181.6,298.30 L1183.6,298.30 L1185.6,298.30 L1187.6,298.30 L1189.6,298.30 L1191.6,298.30 L1193.6,298.30 L1195.6,298.30 L1197.6,298.30 L1199.6,298.30 L1201.6,298.30 L1203.6,298.30 L1205.6,298.30 L1207.6,298.30 L1209.6,298.30 L1211.6,298.30 L1213.6,298.30 L1215.6,298.30 L1217.6,298.30 L1219.6,298.30 L1221.6,298.30 L1223.6,298.30"/>
<path d="M336.4,34.50 L338.4,34.71 L340.4,34.93 L342.4,35.15 L344.4,35.37 L346.4,35.60 L348.4,35.83 L350.4,36.06 L352.4,36.30 L354.4,36.54 L356.4,36.78 L358.4,37.03 L360.4,37.28 L362.4,37.53 L364.4,37.79 L366.4,38.05 L368.4,38.31 L370.4,38.58 L372.4,38.84 L374.4,39.12 L376.4,39.39 L378.4,39.67 L380.4,39.94 L382.4,40.22 L384.4,40.51 L386.4,40.79 L388.4,41.08 L390.4,41.37 L392.3,41.67 L394.3,41.97 L396.3,42.27 L398.3,42.58 L400.3,42.89 L402.3,43.21 L404.3,43.53 L406.3,43.85 L408.3,44.18 L410.3,44.52 L412.3,44.86 L414.3,45.20 L416.3,45.54 L418.3,45.89 L420.3,46.24 L422.3,46.59 L424.3,46.95 L426.3,47.31 L428.3,47.67 L430.3,48.03 L432.3,48.40 L434.3,48.77 L436.3,49.13 L438.3,49.51 L440.3,49.88 L442.3,50.25 L444.3,50.62 L446.3,51.00 L448.3,51.37 L450.3,51.75 L452.3,52.13 L454.3,52.52 L456.3,52.91 L458.3,53.30 L460.3,53.69 L462.3,54.09 L464.3,54.49 L466.3,54.89 L468.3,55.30 L470.3,55.71 L472.3,56.11 L474.3,56.53 L476.3,56.94 L478.3,57.36 L480.3,57.77 L482.3,58.19 L484.3,58.62 L486.3,59.04 L488.3,59.46 L490.3,59.89 L492.3,60.32 L494.3,60.74 L496.3,61.17 L498.3,61.60 L500.3,62.04 L502.3,62.47 L504.2,62.90 L506.2,63.34 L508.2,63.77 L510.2,64.21 L512.2,64.65 L514.2,65.10 L516.2,65.54 L518.2,65.99 L520.2,66.44 L522.2,66.89 L524.2,67.34 L526.2,67.79 L528.2,68.25 L530.2,68.71 L532.2,69.16 L534.2,69.62 L536.2,70.09 L538.2,70.55 L540.2,71.02 L542.2,71.48 L544.2,71.95 L546.2,72.42 L548.2,72.89 L550.2,73.36 L552.2,73.84 L554.2,74.31 L556.2,74.79 L558.2,75.26 L560.2,75.74 L562.2,76.22 L564.2,76.71 L566.2,77.19 L568.2,77.68 L570.2,78.16 L572.2,78.65 L574.2,79.14 L576.2,79.64 L578.2,80.13 L580.2,80.63 L582.2,81.12 L584.2,81.62 L586.2,82.12 L588.2,82.62 L590.2,83.13 L592.2,83.63 L594.2,84.14 L596.2,84.65 L598.2,85.16 L600.2,85.67 L602.2,86.18 L604.2,86.69 L606.2,87.21 L608.2,87.73 L610.2,88.24 L612.2,88.76 L614.1,89.28 L616.1,89.80 L618.1,90.33 L620.1,90.85 L622.1,91.38 L624.1,91.90 L626.1,92.43 L628.1,92.97 L630.1,93.50 L632.1,94.03 L634.1,94.57 L636.1,95.10 L638.1,95.64 L640.1,96.18 L642.1,96.73 L644.1,97.27 L646.1,97.81 L648.1,98.36 L650.1,98.91 L652.1,99.46 L654.1,100.01 L656.1,100.56 L658.1,101.11 L660.1,101.67 L662.1,102.23 L664.1,102.78 L666.1,103.34 L668.1,103.91 L670.1,104.47 L672.1,105.03 L674.1,105.60 L676.1,106.16 L678.1,106.73 L680.1,107.30 L682.1,107.87 L684.1,108.45 L686.1,109.02 L688.1,109.60 L690.1,110.17 L692.1,110.75 L694.1,111.33 L696.1,111.91 L698.1,112.50 L700.1,113.08 L702.1,113.67 L704.1,114.26 L706.1,114.85 L708.1,115.45 L710.1,116.04 L712.1,116.64 L714.1,117.24 L716.1,117.84 L718.1,118.44 L720.1,119.05 L722.1,119.66 L724.1,120.27 L726.0,120.88 L728.0,121.49 L730.0,122.11 L732.0,122.73 L734.0,123.35 L736.0,123.98 L738.0,124.60 L740.0,125.23 L742.0,125.86 L744.0,126.50 L746.0,127.13 L748.0,127.77 L750.0,128.41 L752.0,129.05 L754.0,129.69 L756.0,130.34 L758.0,130.99 L760.0,131.63 L762.0,132.28 L764.0,132.94 L766.0,133.59 L768.0,134.24 L770.0,134.90 L772.0,135.56 L774.0,136.22 L776.0,136.88 L778.0,137.54 L780.0,138.20 L782.0,138.87 L784.0,139.53 L786.0,140.20 L788.0,140.87 L790.0,141.54 L792.0,142.22 L794.0,142.89 L796.0,143.57 L798.0,144.24 L800.0,144.92 L802.0,145.60 L804.0,146.29 L806.0,146.97 L808.0,147.66 L810.0,148.35 L812.0,149.04 L814.0,149.73 L816.0,150.43 L818.0,151.12 L820.0,151.82 L822.0,152.53 L824.0,153.23 L826.0,153.94 L828.0,154.64 L830.0,155.35 L832.0,156.07 L834.0,156.78 L835.9,157.50 L837.9,158.22 L839.9,158.94 L841.9,159.67 L843.9,160.39 L845.9,161.12 L847.9,161.86 L849.9,162.59 L851.9,163.33 L853.9,164.07 L855.9,164.81 L857.9,165.56 L859.9,166.30 L861.9,167.05 L863.9,167.80 L865.9,168.56 L867.9,169.32 L869.9,170.08 L871.9,170.84 L873.9,171.61 L875.9,172.38 L877.9,173.15 L879.9,173.92 L881.9,174.70 L883.9,175.48 L885.9,176.26 L887.9,177.04 L889.9,177.83 L891.9,178.62 L893.9,179.41 L895.9,180.21 L897.9,181.01 L899.9,181.82 L901.9,182.62 L903.9,183.43 L905.9,184.24 L907.9,185.06 L909.9,185.88 L911.9,186.70 L913.9,187.53 L915.9,188.36 L917.9,189.19 L919.9,190.03 L921.9,190.87 L923.9,191.71 L925.9,192.56 L927.9,193.41 L929.9,194.26 L931.9,195.12 L933.9,195.98 L935.9,196.85 L937.9,197.71 L939.9,198.59 L941.9,199.46 L943.9,200.34 L945.9,201.22 L947.8,202.11 L949.8,203.00 L951.8,203.89 L953.8,204.78 L955.8,205.68 L957.8,206.58 L959.8,207.48 L961.8,208.39 L963.8,209.30 L965.8,210.22 L967.8,211.13 L969.8,212.06 L971.8,212.98 L973.8,213.91 L975.8,214.84 L977.8,215.78 L979.8,216.72 L981.8,217.66 L983.8,218.61 L985.8,219.57 L987.8,220.52 L989.8,221.48 L991.8,222.45 L993.8,223.42 L995.8,224.39 L997.8,225.37 L999.8,226.35 L1001.8,227.33 L1003.8,228.32 L1005.8,229.32 L1007.8,230.31 L1009.8,231.31 L1011.8,232.32 L1013.8,233.32 L1015.8,234.33 L1017.8,235.35 L1019.8,236.36 L1021.8,237.38 L1023.8,238.41 L1025.8,239.43 L1027.8,240.46 L1029.8,241.49 L1031.8,242.52 L1033.8,243.55 L1035.8,244.59 L1037.8,245.63 L1039.8,246.67 L1041.8,247.71 L1043.8,248.75 L1045.8,249.79 L1047.8,250.84 L1049.8,251.88 L1051.8,252.93 L1053.8,253.98 L1055.8,255.03 L1057.7,256.08 L1059.7,257.13 L1061.7,258.18 L1063.7,259.22 L1065.7,260.27 L1067.7,261.32 L1069.7,262.36 L1071.7,263.41 L1073.7,264.46 L1075.7,265.50 L1077.7,266.55 L1079.7,267.60 L1081.7,268.65 L1083.7,269.71 L1085.7,270.76 L1087.7,271.82 L1089.7,272.88 L1091.7,273.94 L1093.7,275.00 L1095.7,276.07 L1097.7,277.14 L1099.7,278.22 L1101.7,279.30 L1103.7,280.38 L1105.7,281.47 L1107.7,282.57 L1109.7,283.67 L1111.7,284.77 L1113.7,285.89 L1115.7,287.01 L1117.7,288.13 L1119.7,289.26 L1121.7,290.40 L1123.7,291.54 L1125.7,292.54 L1127.7,293.43 L1129.7,294.34 L1131.7,295.26 L1133.7,296.19 L1135.7,297.14 L1137.7,298.09 L1139.7,299.07 L1141.7,300.05 L1143.7,301.04 L1145.7,302.04 L1147.7,303.05 L1149.7,304.05 L1151.7,305.05 L1153.7,306.03 L1155.7,307.07 L1157.7,308.11 L1159.7,309.06 L1161.7,309.87 L1163.7,310.53 L1165.7,311.05 L1167.7,311.42 L1169.6,311.69 L1171.6,311.87 L1173.6,311.99 L1175.6,312.07 L1177.6,312.12 L1179.6,312.15 L1181.6,312.17 L1183.6,312.18 L1185.6,312.19 L1187.6,312.19 L1189.6,312.20 L1191.6,312.20 L1193.6,312.20 L1195.6,312.20 L1197.6,312.20 L1199.6,312.20 L1201.6,312.20 L1203.6,312.20 L1205.6,312.20 L1207.6,312.20 L1209.6,312.20 L1211.6,312.20 L1213.6,312.20 L1215.6,312.20 L1217.6,312.20 L1219.6,312.20 L1221.6,312.20 L1223.6,312.20"/>
<path d="M336.4,34.50 L338.4,34.71 L340.4,34.93 L342.4,35.15 L344.4,35.37 L346.4,35.60 L348.4,35.83 L350.4,36.06 L352.4,36.30 L354.4,36.54 L356.4,36.78 L358.4,37.03 L360.4,37.28 L362.4,37.53 L364.4,37.79 L366.4,38.05 L368.4,38.31 L370.4,38.58 L372.4,38.84 L374.4,39.12 L376.4,39.39 L378.4,39.67 L380.4,39.94 L382.4,40.22 L384.4,40.51 L386.4,40.79 L388.4,41.08 L390.4,41.37 L392.3,41.67 L394.3,41.97 L396.3,42.27 L398.3,42.58 L400.3,42.89 L402.3,43.21 L404.3,43.53 L406.3,43.85 L408.3,44.18 L410.3,44.52 L412.3,44.86 L414.3,45.20 L416.3,45.54 L418.3,45.89 L420.3,46.24 L422.3,46.59 L424.3,46.95 L426.3,47.31 L428.3,47.67 L430.3,48.03 L432.3,48.40 L434.3,48.77 L436.3,49.13 L438.3,49.51 L440.3,49.88 L442.3,50.25 L444.3,50.62 L446.3,51.00 L448.3,51.37 L450.3,51.75 L452.3,52.13 L454.3,52.52 L456.3,52.91 L458.3,53.30 L460.3,53.69 L462.3,54.09 L464.3,54.49 L466.3,54.89 L468.3,55.30 L470.3,55.71 L472.3,56.11 L474.3,56.53 L476.3,56.94 L478.3,57.36 L480.3,57.77 L482.3,58.19 L484.3,58.62 L486.3,59.04 L488.3,59.46 L490.3,59.89 L492.3,60.32 L494.3,60.74 L496.3,61.17 L498.3,61.60 L500.3,62.04 L502.3,62.47 L504.2,62.90 L506.2,63.34 L508.2,63.77 L510.2,64.21 L512.2,64.65 L514.2,65.10 L516.2,65.54 L518.2,65.99 L520.2,66.44 L522.2,66.89 L524.2,67.34 L526.2,67.79 L528.2,68.25 L530.2,68.71 L532.2,69.16 L534.2,69.62 L536.2,70.09 L538.2,70.55 L540.2,71.02 L542.2,71.48 L544.2,71.95 L546.2,72.42 L548.2,72.89 L550.2,73.36 L552.2,73.84 L554.2,74.31 L556.2,74.79 L558.2,75.26 L560.2,75.74 L562.2,76.22 L564.2,76.71 L566.2,77.19 L568.2,77.68 L570.2,78.16 L572.2,78.65 L574.2,79.14 L576.2,79.64 L578.2,80.13 L580.2,80.63 L582.2,81.12 L584.2,81.62 L586.2,82.12 L588.2,82.62 L590.2,83.13 L592.2,83.63 L594.2,84.14 L596.2,84.65 L598.2,85.16 L600.2,85.67 L602.2,86.18 L604.2,86.69 L606.2,87.21 L608.2,87.73 L610.2,88.24 L612.2,88.76 L614.1,89.28 L616.1,89.80 L618.1,90.33 L620.1,90.85 L622.1,91.38 L624.1,91.90 L626.1,92.43 L628.1,92.97 L630.1,93.50 L632.1,94.03 L634.1,94.57 L636.1,95.10 L638.1,95.64 L640.1,96.18 L642.1,96.73 L644.1,97.27 L646.1,97.81 L648.1,98.36 L650.1,98.91 L652.1,99.46 L654.1,100.01 L656.1,100.56 L658.1,101.11 L660.1,101.67 L662.1,102.23 L664.1,102.78 L666.1,103.34 L668.1,103.91 L670.1,104.47 L672.1,105.03 L674.1,105.60 L676.1,106.16 L678.1,106.73 L680.1,107.30 L682.1,107.87 L684.1,108.45 L686.1,109.02 L688.1,109.60 L690.1,110.17 L692.1,110.75 L694.1,111.33 L696.1,111.91 L698.1,112.50 L700.1,113.08 L702.1,113.67 L704.1,114.26 L706.1,114.85 L708.1,115.45 L710.1,116.04 L712.1,116.64 L714.1,117.24 L716.1,117.84 L718.1,118.44 L720.1,119.05 L722.1,119.66 L724.1,120.27 L726.0,120.88 L728.0,121.49 L730.0,122.11 L732.0,122.73 L734.0,123.35 L736.0,123.98 L738.0,124.60 L740.0,125.23 L742.0,125.86 L744.0,126.50 L746.0,127.13 L748.0,127.77 L750.0,128.41 L752.0,129.05 L754.0,129.69 L756.0,130.34 L758.0,130.98 L760.0,131.63 L762.0,132.28 L764.0,132.93 L766.0,133.59 L768.0,134.24 L770.0,134.90 L772.0,135.56 L774.0,136.22 L776.0,136.88 L778.0,137.54 L780.0,138.20 L782.0,138.86 L784.0,139.53 L786.0,140.20 L788.0,140.87 L790.0,141.54 L792.0,142.21 L794.0,142.88 L796.0,143.56 L798.0,144.23 L800.0,144.91 L802.0,145.59 L804.0,146.28 L806.0,146.96 L808.0,147.65 L810.0,148.33 L812.0,149.02 L814.0,149.72 L816.0,150.41 L818.0,151.10 L820.0,151.80 L822.0,152.50 L824.0,153.20 L826.0,153.91 L828.0,154.61 L830.0,155.32 L832.0,156.03 L834.0,156.74 L835.9,157.46 L837.9,158.18 L839.9,158.90 L841.9,159.62 L843.9,160.34 L845.9,161.07 L847.9,161.79 L849.9,162.52 L851.9,163.26 L853.9,163.99 L855.9,164.73 L857.9,165.47 L859.9,166.21 L861.9,166.95 L863.9,167.70 L865.9,168.44 L867.9,169.19 L869.9,169.95 L871.9,170.70 L873.9,171.46 L875.9,172.22 L877.9,172.98 L879.9,173.74 L881.9,174.50 L883.9,175.27 L885.9,176.04 L887.9,176.81 L889.9,177.59 L891.9,178.37 L893.9,179.14 L895.9,179.93 L897.9,180.71 L899.9,181.50 L901.9,182.29 L903.9,183.08 L905.9,183.87 L907.9,184.67 L909.9,185.47 L911.9,186.27 L913.9,187.08 L915.9,187.88 L917.9,188.69 L919.9,189.51 L921.9,190.32 L923.9,191.14 L925.9,191.96 L927.9,192.79 L929.9,193.61 L931.9,194.44 L933.9,195.28 L935.9,196.11 L937.9,196.95 L939.9,197.79 L941.9,198.64 L943.9,199.49 L945.9,200.34 L947.8,201.19 L949.8,202.05 L951.8,202.91 L953.8,203.77 L955.8,204.63 L957.8,205.50 L959.8,206.37 L961.8,207.25 L963.8,208.12 L965.8,209.01 L967.8,209.89 L969.8,210.78 L971.8,211.67 L973.8,212.57 L975.8,213.47 L977.8,214.38 L979.8,215.29 L981.8,216.20 L983.8,217.12 L985.8,218.05 L987.8,218.98 L989.8,219.91 L991.8,220.85 L993.8,221.80 L995.8,222.75 L997.8,223.71 L999.8,224.67 L1001.8,225.63 L1003.8,226.61 L1005.8,227.58 L1007.8,228.57 L1009.8,229.56 L1011.8,230.55 L1013.8,231.55 L1015.8,232.55 L1017.8,233.56 L1019.8,234.58 L1021.8,235.59 L1023.8,236.62 L1025.8,237.65 L1027.8,238.68 L1029.8,239.71 L1031.8,240.76 L1033.8,241.80 L1035.8,242.85 L1037.8,243.90 L1039.8,244.96 L1041.8,246.02 L1043.8,247.08 L1045.8,248.15 L1047.8,249.22 L1049.8,250.29 L1051.8,251.36 L1053.8,252.44 L1055.8,253.52 L1057.7,254.60 L1059.7,255.69 L1061.7,256.77 L1063.7,257.86 L1065.7,258.94 L1067.7,260.03 L1069.7,261.11 L1071.7,262.20 L1073.7,263.29 L1075.7,264.38 L1077.7,265.47 L1079.7,266.56 L1081.7,267.65 L1083.7,268.75 L1085.7,269.85 L1087.7,270.95 L1089.7,272.05 L1091.7,273.15 L1093.7,274.26 L1095.7,275.37 L1097.7,276.49 L1099.7,277.60 L1101.7,278.72 L1103.7,279.85 L1105.7,280.98 L1107.7,282.11 L1109.7,283.25 L1111.7,284.39 L1113.7,285.54 L1115.7,286.69 L1117.7,287.85 L1119.7,289.01 L1121.7,290.17 L1123.7,291.34 L1125.7,292.52 L1127.7,293.70 L1129.7,294.89 L1131.7,296.07 L1133.7,297.27 L1135.7,298.47 L1137.7,299.67 L1139.7,300.88 L1141.7,301.91 L1143.7,302.90 L1145.7,303.90 L1147.7,304.91 L1149.7,305.94 L1151.7,306.98 L1153.7,308.03 L1155.7,309.09 L1157.7,310.16 L1159.7,311.25 L1161.7,312.35 L1163.7,313.45 L1165.7,314.55 L1167.7,315.65 L1169.6,316.73 L1171.6,317.90 L1173.6,319.03 L1175.6,320.04 L1177.6,320.90 L1179.6,321.57 L1181.6,322.06 L1183.6,322.39 L1185.6,322.60 L1187.6,322.73 L1189.6,322.80 L1191.6,322.85 L1193.6,322.87 L1195.6,322.88 L1197.6,322.89 L1199.6,322.90 L1201.6,322.90 L1203.6,322.90 L1205.6,322.90 L1207.6,322.90 L1209.6,322.90 L1211.6,322.90 L1213.6,322.90 L1215.6,322.90 L1217.6,322.90 L1219.6,322.90 L1221.6,322.90 L1223.6,322.90"/>
<path d="M336.4,34.50 L338.4,34.71 L340.4,34.93 L342.4,35.15 L344.4,35.37 L346.4,35.60 L348.4,35.83 L350.4,36.06 L352.4,36.30 L354.4,36.54 L356.4,36.78 L358.4,37.03 L360.4,37.28 L362.4,37.53 L364.4,37.79 L366.4,38.05 L368.4,38.31 L370.4,38.58 L372.4,38.84 L374.4,39.12 L376.4,39.39 L378.4,39.67 L380.4,39.94 L382.4,40.22 L384.4,40.51 L386.4,40.79 L388.4,41.08 L390.4,41.37 L392.3,41.67 L394.3,41.97 L396.3,42.27 L398.3,42.58 L400.3,42.89 L402.3,43.21 L404.3,43.53 L406.3,43.85 L408.3,44.18 L410.3,44.52 L412.3,44.86 L414.3,45.20 L416.3,45.54 L418.3,45.89 L420.3,46.24 L422.3,46.59 L424.3,46.95 L426.3,47.31 L428.3,47.67 L430.3,48.03 L432.3,48.40 L434.3,48.77 L436.3,49.13 L438.3,49.51 L440.3,49.88 L442.3,50.25 L444.3,50.62 L446.3,51.00 L448.3,51.37 L450.3,51.75 L452.3,52.13 L454.3,52.52 L456.3,52.91 L458.3,53.30 L460.3,53.69 L462.3,54.09 L464.3,54.49 L466.3,54.89 L468.3,55.30 L470.3,55.71 L472.3,56.11 L474.3,56.53 L476.3,56.94 L478.3,57.36 L480.3,57.77 L482.3,58.19 L484.3,58.62 L486.3,59.04 L488.3,59.46 L490.3,59.89 L492.3,60.32 L494.3,60.74 L496.3,61.17 L498.3,61.60 L500.3,62.04 L502.3,62.47 L504.2,62.90 L506.2,63.34 L508.2,63.77 L510.2,64.21 L512.2,64.65 L514.2,65.10 L516.2,65.54 L518.2,65.99 L520.2,66.44 L522.2,66.89 L524.2,67.34 L526.2,67.79 L528.2,68.25 L530.2,68.71 L532.2,69.16 L534.2,69.62 L536.2,70.09 L538.2,70.55 L540.2,71.02 L542.2,71.48 L544.2,71.95 L546.2,72.42 L548.2,72.89 L550.2,73.36 L552.2,73.84 L554.2,74.31 L556.2,74.79 L558.2,75.26 L560.2,75.74 L562.2,76.22 L564.2,76.71 L566.2,77.19 L568.2,77.68 L570.2,78.16 L572.2,78.65 L574.2,79.14 L576.2,79.64 L578.2,80.13 L580.2,80.63 L582.2,81.12 L584.2,81.62 L586.2,82.12 L588.2,82.62 L590.2,83.13 L592.2,83.63 L594.2,84.14 L596.2,84.65 L598.2,85.16 L600.2,85.67 L602.2,86.18 L604.2,86.69 L606.2,87.21 L608.2,87.73 L610.2,88.24 L612.2,88.76 L614.1,89.28 L616.1,89.80 L618.1,90.33 L620.1,90.85 L622.1,91.38 L624.1,91.90 L626.1,92.43 L628.1,92.97 L630.1,93.50 L632.1,94.03 L634.1,94.57 L636.1,95.10 L638.1,95.64 L640.1,96.18 L642.1,96.73 L644.1,97.27 L646.1,97.81 L648.1,98.36 L650.1,98.91 L652.1,99.46 L654.1,100.01 L656.1,100.56 L658.1,101.11 L660.1,101.67 L662.1,102.23 L664.1,102.78 L666.1,103.34 L668.1,103.91 L670.1,104.47 L672.1,105.03 L674.1,105.60 L676.1,106.16 L678.1,106.73 L680.1,107.30 L682.1,107.87 L684.1,108.45 L686.1,109.02 L688.1,109.60 L690.1,110.17 L692.1,110.75 L694.1,111.33 L696.1,111.91 L698.1,112.50 L700.1,113.08 L702.1,113.67 L704.1,114.26 L706.1,114.85 L708.1,115.45 L710.1,116.04 L712.1,116.64 L714.1,117.24 L716.1,117.84 L718.1,118.44 L720.1,119.05 L722.1,119.66 L724.1,120.27 L726.0,120.88 L728.0,121.49 L730.0,122.11 L732.0,122.73 L734.0,123.35 L736.0,123.98 L738.0,124.60 L740.0,125.23 L742.0,125.86 L744.0,126.50 L746.0,127.13 L748.0,127.77 L750.0,128.41 L752.0,129.05 L754.0,129.69 L756.0,130.34 L758.0,130.98 L760.0,131.63 L762.0,132.28 L764.0,132.93 L766.0,133.59 L768.0,134.24 L770.0,134.90 L772.0,135.56 L774.0,136.22 L776.0,136.88 L778.0,137.54 L780.0,138.20 L782.0,138.86 L784.0,139.53 L786.0,140.20 L788.0,140.87 L790.0,141.54 L792.0,142.21 L794.0,142.88 L796.0,143.56 L798.0,144.23 L800.0,144.91 L802.0,145.59 L804.0,146.28 L806.0,146.96 L808.0,147.65 L810.0,148.33 L812.0,149.02 L814.0,149.72 L816.0,150.41 L818.0,151.10 L820.0,151.80 L822.0,152.50 L824.0,153.20 L826.0,153.91 L828.0,154.61 L830.0,155.32 L832.0,156.03 L834.0,156.74 L835.9,157.46 L837.9,158.17 L839.9,158.89 L841.9,159.61 L843.9,160.34 L845.9,161.06 L847.9,161.79 L849.9,162.52 L851.9,163.25 L853.9,163.99 L855.9,164.72 L857.9,165.46 L859.9,166.20 L861.9,166.95 L863.9,167.69 L865.9,168.44 L867.9,169.19 L869.9,169.94 L871.9,170.69 L873.9,171.45 L875.9,172.21 L877.9,172.97 L879.9,173.73 L881.9,174.49 L883.9,175.26 L885.9,176.03 L887.9,176.80 L889.9,177.57 L891.9,178.34 L893.9,179.12 L895.9,179.90 L897.9,180.68 L899.9,181.46 L901.9,182.25 L903.9,183.04 L905.9,183.83 L907.9,184.62 L909.9,185.42 L911.9,186.22 L913.9,187.02 L915.9,187.82 L917.9,188.62 L919.9,189.43 L921.9,190.24 L923.9,191.05 L925.9,191.87 L927.9,192.68 L929.9,193.50 L931.9,194.32 L933.9,195.15 L935.9,195.97 L937.9,196.80 L939.9,197.63 L941.9,198.47 L943.9,199.30 L945.9,200.14 L947.8,200.98 L949.8,201.82 L951.8,202.67 L953.8,203.51 L955.8,204.36 L957.8,205.21 L959.8,206.07 L961.8,206.92 L963.8,207.78 L965.8,208.64 L967.8,209.51 L969.8,210.37 L971.8,211.24 L973.8,212.12 L975.8,213.00 L977.8,213.88 L979.8,214.76 L981.8,215.65 L983.8,216.54 L985.8,217.44 L987.8,218.34 L989.8,219.25 L991.8,220.16 L993.8,221.08 L995.8,222.00 L997.8,222.92 L999.8,223.85 L1001.8,224.79 L1003.8,225.73 L1005.8,226.68 L1007.8,227.63 L1009.8,228.59 L1011.8,229.55 L1013.8,230.52 L1015.8,231.50 L1017.8,232.48 L1019.8,233.46 L1021.8,234.45 L1023.8,235.45 L1025.8,236.45 L1027.8,237.46 L1029.8,238.47 L1031.8,239.49 L1033.8,240.51 L1035.8,241.54 L1037.8,242.57 L1039.8,243.61 L1041.8,244.66 L1043.8,245.71 L1045.8,246.76 L1047.8,247.82 L1049.8,248.88 L1051.8,249.95 L1053.8,251.03 L1055.8,252.10 L1057.7,253.19 L1059.7,254.27 L1061.7,255.36 L1063.7,256.45 L1065.7,257.54 L1067.7,258.64 L1069.7,259.74 L1071.7,260.84 L1073.7,261.95 L1075.7,263.05 L1077.7,264.17 L1079.7,265.28 L1081.7,266.40 L1083.7,267.52 L1085.7,268.65 L1087.7,269.78 L1089.7,270.91 L1091.7,272.05 L1093.7,273.19 L1095.7,274.34 L1097.7,275.49 L1099.7,276.64 L1101.7,277.80 L1103.7,278.96 L1105.7,280.13 L1107.7,281.30 L1109.7,282.47 L1111.7,283.65 L1113.7,284.84 L1115.7,286.03 L1117.7,287.23 L1119.7,288.43 L1121.7,289.63 L1123.7,290.84 L1125.7,292.05 L1127.7,293.26 L1129.7,294.48 L1131.7,295.70 L1133.7,296.93 L1135.7,298.16 L1137.7,299.39 L1139.7,300.62 L1141.7,301.86 L1143.7,303.10 L1145.7,304.35 L1147.7,305.60 L1149.7,306.85 L1151.7,308.08 L1153.7,309.13 L1155.7,310.20 L1157.7,311.27 L1159.7,312.36 L1161.7,313.45 L1163.7,314.56 L1165.7,315.68 L1167.7,316.81 L1169.6,317.96 L1171.6,319.12 L1173.6,320.31 L1175.6,321.52 L1177.6,322.74 L1179.6,323.97 L1181.6,325.20 L1183.6,326.52 L1185.6,327.73 L1187.6,328.79 L1189.6,329.65 L1191.6,330.27 L1193.6,330.68 L1195.6,330.92 L1197.6,331.05 L1199.6,331.13 L1201.6,331.16 L1203.6,331.18 L1205.6,331.19 L1207.6,331.20 L1209.6,331.20 L1211.6,331.20 L1213.6,331.20 L1215.6,331.20 L1217.6,331.20 L1219.6,331.20 L1221.6,331.20 L1223.6,331.20"/>
<path d="M336.4,34.50 L338.4,34.71 L340.4,34.93 L342.4,35.15 L344.4,35.37 L346.4,35.60 L348.4,35.83 L350.4,36.06 L352.4,36.30 L354.4,36.54 L356.4,36.78 L358.4,37.03 L360.4,37.28 L362.4,37.53 L364.4,37.79 L366.4,38.05 L368.4,38.31 L370.4,38.58 L372.4,38.84 L374.4,39.12 L376.4,39.39 L378.4,39.67 L380.4,39.94 L382.4,40.22 L384.4,40.51 L386.4,40.79 L388.4,41.08 L390.4,41.37 L392.3,41.67 L394.3,41.97 L396.3,42.27 L398.3,42.58 L400.3,42.89 L402.3,43.21 L404.3,43.53 L406.3,43.85 L408.3,44.18 L410.3,44.52 L412.3,44.86 L414.3,45.20 L416.3,45.54 L418.3,45.89 L420.3,46.24 L422.3,46.59 L424.3,46.95 L426.3,47.31 L428.3,47.67 L430.3,48.03 L432.3,48.40 L434.3,48.77 L436.3,49.13 L438.3,49.51 L440.3,49.88 L442.3,50.25 L444.3,50.62 L446.3,51.00 L448.3,51.37 L450.3,51.75 L452.3,52.13 L454.3,52.52 L456.3,52.91 L458.3,53.30 L460.3,53.69 L462.3,54.09 L464.3,54.49 L466.3,54.89 L468.3,55.30 L470.3,55.71 L472.3,56.11 L474.3,56.53 L476.3,56.94 L478.3,57.36 L480.3,57.77 L482.3,58.19 L484.3,58.62 L486.3,59.04 L488.3,59.46 L490.3,59.89 L492.3,60.32 L494.3,60.74 L496.3,61.17 L498.3,61.60 L500.3,62.04 L502.3,62.47 L504.2,62.90 L506.2,63.34 L508.2,63.77 L510.2,64.21 L512.2,64.65 L514.2,65.10 L516.2,65.54 L518.2,65.99 L520.2,66.44 L522.2,66.89 L524.2,67.34 L526.2,67.79 L528.2,68.25 L530.2,68.71 L532.2,69.16 L534.2,69.62 L536.2,70.09 L538.2,70.55 L540.2,71.02 L542.2,71.48 L544.2,71.95 L546.2,72.42 L548.2,72.89 L550.2,73.36 L552.2,73.84 L554.2,74.31 L556.2,74.79 L558.2,75.26 L560.2,75.74 L562.2,76.22 L564.2,76.71 L566.2,77.19 L568.2,77.68 L570.2,78.16 L572.2,78.65 L574.2,79.14 L576.2,79.64 L578.2,80.13 L580.2,80.63 L582.2,81.12 L584.2,81.62 L586.2,82.12 L588.2,82.62 L590.2,83.13 L592.2,83.63 L594.2,84.14 L596.2,84.65 L598.2,85.16 L600.2,85.67 L602.2,86.18 L604.2,86.69 L606.2,87.21 L608.2,87.73 L610.2,88.24 L612.2,88.76 L614.1,89.28 L616.1,89.80 L618.1,90.33 L620.1,90.85 L622.1,91.38 L624.1,91.90 L626.1,92.43 L628.1,92.97 L630.1,93.50 L632.1,94.03 L634.1,94.57 L636.1,95.10 L638.1,95.64 L640.1,96.18 L642.1,96.73 L644.1,97.27 L646.1,97.81 L648.1,98.36 L650.1,98.91 L652.1,99.46 L654.1,100.01 L656.1,100.56 L658.1,101.11 L660.1,101.67 L662.1,102.23 L664.1,102.78 L666.1,103.34 L668.1,103.91 L670.1,104.47 L672.1,105.03 L674.1,105.60 L676.1,106.16 L678.1,106.73 L680.1,107.30 L682.1,107.87 L684.1,108.45 L686.1,109.02 L688.1,109.60 L690.1,110.17 L692.1,110.75 L694.1,111.33 L696.1,111.91 L698.1,112.50 L700.1,113.08 L702.1,113.67 L704.1,114.26 L706.1,114.85 L708.1,115.45 L710.1,116.04 L712.1,116.64 L714.1,117.24 L716.1,117.84 L718.1,118.44 L720.1,119.05 L722.1,119.66 L724.1,120.27 L726.0,120.88 L728.0,121.49 L730.0,122.11 L732.0,122.73 L734.0,123.35 L736.0,123.98 L738.0,124.60 L740.0,125.23 L742.0,125.86 L744.0,126.50 L746.0,127.13 L748.0,127.77 L750.0,128.41 L752.0,129.05 L754.0,129.69 L756.0,130.34 L758.0,130.98 L760.0,131.63 L762.0,132.28 L764.0,132.93 L766.0,133.59 L768.0,134.24 L770.0,134.90 L772.0,135.56 L774.0,136.22 L776.0,136.88 L778.0,137.54 L780.0,138.20 L782.0,138.86 L784.0,139.53 L786.0,140.20 L788.0,140.87 L790.0,141.54 L792.0,142.21 L794.0,142.88 L796.0,143.56 L798.0,144.23 L800.0,144.91 L802.0,145.59 L804.0,146.28 L806.0,146.96 L808.0,147.65 L810.0,148.33 L812.0,149.02 L814.0,149.72 L816.0,150.41 L818.0,151.10 L820.0,151.80 L822.0,152.50 L824.0,153.20 L826.0,153.91 L828.0,154.61 L830.0,155.32 L832.0,156.03 L834.0,156.74 L835.9,157.46 L837.9,158.17 L839.9,158.89 L841.9,159.61 L843.9,160.34 L845.9,161.06 L847.9,161.79 L849.9,162.52 L851.9,163.25 L853.9,163.99 L855.9,164.72 L857.9,165.46 L859.9,166.20 L861.9,166.95 L863.9,167.69 L865.9,168.44 L867.9,169.19 L869.9,169.94 L871.9,170.69 L873.9,171.45 L875.9,172.20 L877.9,172.96 L879.9,173.73 L881.9,174.49 L883.9,175.26 L885.9,176.02 L887.9,176.80 L889.9,177.57 L891.9,178.34 L893.9,179.12 L895.9,179.90 L897.9,180.68 L899.9,181.46 L901.9,182.25 L903.9,183.04 L905.9,183.83 L907.9,184.62 L909.9,185.42 L911.9,186.21 L913.9,187.01 L915.9,187.82 L917.9,188.62 L919.9,189.43 L921.9,190.24 L923.9,191.05 L925.9,191.86 L927.9,192.68 L929.9,193.49 L931.9,194.31 L933.9,195.14 L935.9,195.96 L937.9,196.79 L939.9,197.62 L941.9,198.45 L943.9,199.28 L945.9,200.12 L947.8,200.96 L949.8,201.80 L951.8,202.64 L953.8,203.48 L955.8,204.33 L957.8,205.17 L959.8,206.02 L961.8,206.87 L963.8,207.73 L965.8,208.58 L967.8,209.44 L969.8,210.30 L971.8,211.17 L973.8,212.04 L975.8,212.91 L977.8,213.78 L979.8,214.65 L981.8,215.53 L983.8,216.42 L985.8,217.30 L987.8,218.19 L989.8,219.09 L991.8,219.99 L993.8,220.89 L995.8,221.79 L997.8,222.70 L999.8,223.62 L1001.8,224.54 L1003.8,225.46 L1005.8,226.39 L1007.8,227.33 L1009.8,228.26 L1011.8,229.21 L1013.8,230.15 L1015.8,231.10 L1017.8,232.06 L1019.8,233.02 L1021.8,233.99 L1023.8,234.96 L1025.8,235.93 L1027.8,236.91 L1029.8,237.90 L1031.8,238.89 L1033.8,239.88 L1035.8,240.88 L1037.8,241.89 L1039.8,242.90 L1041.8,243.92 L1043.8,244.94 L1045.8,245.96 L1047.8,246.99 L1049.8,248.03 L1051.8,249.07 L1053.8,250.12 L1055.8,251.17 L1057.7,252.23 L1059.7,253.29 L1061.7,254.36 L1063.7,255.43 L1065.7,256.50 L1067.7,257.58 L1069.7,258.67 L1071.7,259.75 L1073.7,260.85 L1075.7,261.95 L1077.7,263.05 L1079.7,264.16 L1081.7,265.27 L1083.7,266.39 L1085.7,267.52 L1087.7,268.65 L1089.7,269.79 L1091.7,270.94 L1093.7,272.09 L1095.7,273.25 L1097.7,274.41 L1099.7,275.58 L1101.7,276.76 L1103.7,277.94 L1105.7,279.13 L1107.7,280.32 L1109.7,281.53 L1111.7,282.73 L1113.7,283.95 L1115.7,285.17 L1117.7,286.40 L1119.7,287.63 L1121.7,288.87 L1123.7,290.11 L1125.7,291.35 L1127.7,292.60 L1129.7,293.85 L1131.7,295.11 L1133.7,296.37 L1135.7,297.63 L1137.7,298.90 L1139.7,300.17 L1141.7,301.44 L1143.7,302.71 L1145.7,303.99 L1147.7,305.26 L1149.7,306.54 L1151.7,307.82 L1153.7,309.11 L1155.7,310.39 L1157.7,311.68 L1159.7,312.97 L1161.7,314.10 L1163.7,315.22 L1165.7,316.35 L1167.7,317.49 L1169.6,318.63 L1171.6,319.80 L1173.6,320.99 L1175.6,322.21 L1177.6,323.44 L1179.6,324.70 L1181.6,325.98 L1183.6,327.28 L1185.6,328.59 L1187.6,329.92 L1189.6,331.26 L1191.6,332.67 L1193.6,334.03 L1195.6,335.25 L1197.6,336.23 L1199.6,336.93 L1201.6,337.35 L1203.6,337.59 L1205.6,337.70 L1207.6,337.76 L1209.6,337.78 L1211.6,337.79 L1213.6,337.80 L1215.6,337.80 L1217.6,337.80 L1219.6,337.80 L1221.6,337.80 L1223.6,337.80"/>
<path d="M336.4,34.50 L338.4,34.71 L340.4,34.93 L342.4,35.15 L344.4,35.37 L346.4,35.60 L348.4,35.83 L350.4,36.06 L352.4,36.30 L354.4,36.54 L356.4,36.78 L358.4,37.03 L360.4,37.28 L362.4,37.53 L364.4,37.79 L366.4,38.05 L368.4,38.31 L370.4,38.58 L372.4,38.84 L374.4,39.12 L376.4,39.39 L378.4,39.67 L380.4,39.94 L382.4,40.22 L384.4,40.51 L386.4,40.79 L388.4,41.08 L390.4,41.37 L392.3,41.67 L394.3,41.97 L396.3,42.27 L398.3,42.58 L400.3,42.89 L402.3,43.21 L404.3,43.53 L406.3,43.85 L408.3,44.18 L410.3,44.52 L412.3,44.86 L414.3,45.20 L416.3,45.54 L418.3,45.89 L420.3,46.24 L422.3,46.59 L424.3,46.95 L426.3,47.31 L428.3,47.67 L430.3,48.03 L432.3,48.40 L434.3,48.77 L436.3,49.13 L438.3,49.51 L440.3,49.88 L442.3,50.25 L444.3,50.62 L446.3,51.00 L448.3,51.37 L450.3,51.75 L452.3,52.13 L454.3,52.52 L456.3,52.91 L458.3,53.30 L460.3,53.69 L462.3,54.09 L464.3,54.49 L466.3,54.89 L468.3,55.30 L470.3,55.71 L472.3,56.11 L474.3,56.53 L476.3,56.94 L478.3,57.36 L480.3,57.77 L482.3,58.19 L484.3,58.62 L486.3,59.04 L488.3,59.46 L490.3,59.89 L492.3,60.32 L494.3,60.74 L496.3,61.17 L498.3,61.60 L500.3,62.04 L502.3,62.47 L504.2,62.90 L506.2,63.34 L508.2,63.77 L510.2,64.21 L512.2,64.65 L514.2,65.10 L516.2,65.54 L518.2,65.99 L520.2,66.44 L522.2,66.89 L524.2,67.34 L526.2,67.79 L528.2,68.25 L530.2,68.71 L532.2,69.16 L534.2,69.62 L536.2,70.09 L538.2,70.55 L540.2,71.02 L542.2,71.48 L544.2,71.95 L546.2,72.42 L548.2,72.89 L550.2,73.36 L552.2,73.84 L554.2,74.31 L556.2,74.79 L558.2,75.26 L560.2,75.74 L562.2,76.22 L564.2,76.71 L566.2,77.19 L568.2,77.68 L570.2,78.16 L572.2,78.65 L574.2,79.14 L576.2,79.64 L578.2,80.13 L580.2,80.63 L582.2,81.12 L584.2,81.62 L586.2,82.12 L588.2,82.62 L590.2,83.13 L592.2,83.63 L594.2,84.14 L596.2,84.65 L598.2,85.16 L600.2,85.67 L602.2,86.18 L604.2,86.69 L606.2,87.21 L608.2,87.73 L610.2,88.24 L612.2,88.76 L614.1,89.28 L616.1,89.80 L618.1,90.33 L620.1,90.85 L622.1,91.38 L624.1,91.90 L626.1,92.43 L628.1,92.97 L630.1,93.50 L632.1,94.03 L634.1,94.57 L636.1,95.10 L638.1,95.64 L640.1,96.18 L642.1,96.73 L644.1,97.27 L646.1,97.81 L648.1,98.36 L650.1,98.91 L652.1,99.46 L654.1,100.01 L656.1,100.56 L658.1,101.11 L660.1,101.67 L662.1,102.23 L664.1,102.78 L666.1,103.34 L668.1,103.91 L670.1,104.47 L672.1,105.03 L674.1,105.60 L676.1,106.16 L678.1,106.73 L680.1,107.30 L682.1,107.87 L684.1,108.45 L686.1,109.02 L688.1,109.60 L690.1,110.17 L692.1,110.75 L694.1,111.33 L696.1,111.91 L698.1,112.50 L700.1,113.08 L702.1,113.67 L704.1,114.26 L706.1,114.85 L708.1,115.45 L710.1,116.04 L712.1,116.64 L714.1,117.24 L716.1,117.84 L718.1,118.44 L720.1,119.05 L722.1,119.66 L724.1,120.27 L726.0,120.88 L728.0,121.49 L730.0,122.11 L732.0,122.73 L734.0,123.35 L736.0,123.98 L738.0,124.60 L740.0,125.23 L742.0,125.86 L744.0,126.50 L746.0,127.13 L748.0,127.77 L750.0,128.41 L752.0,129.05 L754.0,129.69 L756.0,130.34 L758.0,130.98 L760.0,131.63 L762.0,132.28 L764.0,132.93 L766.0,133.59 L768.0,134.24 L770.0,134.90 L772.0,135.56 L774.0,136.22 L776.0,136.88 L778.0,137.54 L780.0,138.20 L782.0,138.86 L784.0,139.53 L786.0,140.20 L788.0,140.87 L790.0,141.54 L792.0,142.21 L794.0,142.88 L796.0,143.56 L798.0,144.23 L800.0,144.91 L802.0,145.59 L804.0,146.28 L806.0,146.96 L808.0,147.65 L810.0,148.33 L812.0,149.02 L814.0,149.72 L816.0,150.41 L818.0,151.10 L820.0,151.80 L822.0,152.50 L824.0,153.20 L826.0,153.91 L828.0,154.61 L830.0,155.32 L832.0,156.03 L834.0,156.74 L835.9,157.46 L837.9,158.17 L839.9,158.89 L841.9,159.61 L843.9,160.34 L845.9,161.06 L847.9,161.79 L849.9,162.52 L851.9,163.25 L853.9,163.99 L855.9,164.72 L857.9,165.46 L859.9,166.20 L861.9,166.95 L863.9,167.69 L865.9,168.44 L867.9,169.19 L869.9,169.94 L871.9,170.69 L873.9,171.45 L875.9,172.20 L877.9,172.96 L879.9,173.73 L881.9,174.49 L883.9,175.26 L885.9,176.02 L887.9,176.80 L889.9,177.57 L891.9,178.34 L893.9,179.12 L895.9,179.90 L897.9,180.68 L899.9,181.46 L901.9,182.25 L903.9,183.04 L905.9,183.83 L907.9,184.62 L909.9,185.42 L911.9,186.21 L913.9,187.01 L915.9,187.82 L917.9,188.62 L919.9,189.43 L921.9,190.24 L923.9,191.05 L925.9,191.86 L927.9,192.68 L929.9,193.49 L931.9,194.31 L933.9,195.14 L935.9,195.96 L937.9,196.79 L939.9,197.62 L941.9,198.45 L943.9,199.28 L945.9,200.12 L947.8,200.96 L949.8,201.80 L951.8,202.64 L953.8,203.48 L955.8,204.32 L957.8,205.17 L959.8,206.02 L961.8,206.87 L963.8,207.72 L965.8,208.58 L967.8,209.44 L969.8,210.30 L971.8,211.16 L973.8,212.03 L975.8,212.90 L977.8,213.77 L979.8,214.64 L981.8,215.52 L983.8,216.40 L985.8,217.29 L987.8,218.18 L989.8,219.07 L991.8,219.96 L993.8,220.86 L995.8,221.77 L997.8,222.67 L999.8,223.59 L1001.8,224.50 L1003.8,225.42 L1005.8,226.34 L1007.8,227.27 L1009.8,228.20 L1011.8,229.14 L1013.8,230.08 L1015.8,231.03 L1017.8,231.97 L1019.8,232.93 L1021.8,233.88 L1023.8,234.84 L1025.8,235.81 L1027.8,236.78 L1029.8,237.75 L1031.8,238.73 L1033.8,239.71 L1035.8,240.70 L1037.8,241.69 L1039.8,242.68 L1041.8,243.68 L1043.8,244.69 L1045.8,245.70 L1047.8,246.71 L1049.8,247.73 L1051.8,248.75 L1053.8,249.78 L1055.8,250.81 L1057.7,251.85 L1059.7,252.89 L1061.7,253.93 L1063.7,254.98 L1065.7,256.03 L1067.7,257.09 L1069.7,258.15 L1071.7,259.22 L1073.7,260.29 L1075.7,261.37 L1077.7,262.45 L1079.7,263.54 L1081.7,264.63 L1083.7,265.74 L1085.7,266.85 L1087.7,267.96 L1089.7,269.09 L1091.7,270.22 L1093.7,271.36 L1095.7,272.50 L1097.7,273.66 L1099.7,274.82 L1101.7,275.99 L1103.7,277.17 L1105.7,278.36 L1107.7,279.55 L1109.7,280.76 L1111.7,281.97 L1113.7,283.19 L1115.7,284.42 L1117.7,285.65 L1119.7,286.90 L1121.7,288.15 L1123.7,289.40 L1125.7,290.66 L1127.7,291.93 L1129.7,293.20 L1131.7,294.48 L1133.7,295.76 L1135.7,297.04 L1137.7,298.33 L1139.7,299.62 L1141.7,300.91 L1143.7,302.21 L1145.7,303.51 L1147.7,304.81 L1149.7,306.12 L1151.7,307.42 L1153.7,308.73 L1155.7,310.04 L1157.7,311.35 L1159.7,312.66 L1161.7,313.97 L1163.7,315.29 L1165.7,316.60 L1167.7,317.79 L1169.6,318.96 L1171.6,320.14 L1173.6,321.35 L1175.6,322.57 L1177.6,323.82 L1179.6,325.08 L1181.6,326.36 L1183.6,327.67 L1185.6,328.99 L1187.6,330.34 L1189.6,331.71 L1191.6,333.11 L1193.6,334.52 L1195.6,335.95 L1197.6,337.46 L1199.6,338.93 L1201.6,340.25 L1203.6,341.33 L1205.6,342.06 L1207.6,342.46 L1209.6,342.66 L1211.6,342.74 L1213.6,342.78 L1215.6,342.79 L1217.6,342.80 L1219.6,342.80 L1221.6,342.80 L1223.6,342.80"/>
<path d="M336.4,34.50 L338.4,34.71 L340.4,34.93 L342.4,35.15 L344.4,35.37 L346.4,35.60 L348.4,35.83 L350.4,36.06 L352.4,36.30 L354.4,36.54 L356.4,36.78 L358.4,37.03 L360.4,37.28 L362.4,37.53 L364.4,37.79 L366.4,38.05 L368.4,38.31 L370.4,38.58 L372.4,38.84 L374.4,39.12 L376.4,39.39 L378.4,39.67 L380.4,39.94 L382.4,40.22 L384.4,40.51 L386.4,40.79 L388.4,41.08 L390.4,41.37 L392.3,41.67 L394.3,41.97 L396.3,42.27 L398.3,42.58 L400.3,42.89 L402.3,43.21 L404.3,43.53 L406.3,43.85 L408.3,44.18 L410.3,44.52 L412.3,44.86 L414.3,45.20 L416.3,45.54 L418.3,45.89 L420.3,46.24 L422.3,46.59 L424.3,46.95 L426.3,47.31 L428.3,47.67 L430.3,48.03 L432.3,48.40 L434.3,48.77 L436.3,49.13 L438.3,49.51 L440.3,49.88 L442.3,50.25 L444.3,50.62 L446.3,51.00 L448.3,51.37 L450.3,51.75 L452.3,52.13 L454.3,52.52 L456.3,52.91 L458.3,53.30 L460.3,53.69 L462.3,54.09 L464.3,54.49 L466.3,54.89 L468.3,55.30 L470.3,55.71 L472.3,56.11 L474.3,56.53 L476.3,56.94 L478.3,57.36 L480.3,57.77 L482.3,58.19 L484.3,58.62 L486.3,59.04 L488.3,59.46 L490.3,59.89 L492.3,60.32 L494.3,60.74 L496.3,61.17 L498.3,61.60 L500.3,62.04 L502.3,62.47 L504.2,62.90 L506.2,63.34 L508.2,63.77 L510.2,64.21 L512.2,64.65 L514.2,65.10 L516.2,65.54 L518.2,65.99 L520.2,66.44 L522.2,66.89 L524.2,67.34 L526.2,67.79 L528.2,68.25 L530.2,68.71 L532.2,69.16 L534.2,69.62 L536.2,70.09 L538.2,70.55 L540.2,71.02 L542.2,71.48 L544.2,71.95 L546.2,72.42 L548.2,72.89 L550.2,73.36 L552.2,73.84 L554.2,74.31 L556.2,74.79 L558.2,75.26 L560.2,75.74 L562.2,76.22 L564.2,76.71 L566.2,77.19 L568.2,77.68 L570.2,78.16 L572.2,78.65 L574.2,79.14 L576.2,79.64 L578.2,80.13 L580.2,80.63 L582.2,81.12 L584.2,81.62 L586.2,82.12 L588.2,82.62 L590.2,83.13 L592.2,83.63 L594.2,84.14 L596.2,84.65 L598.2,85.16 L600.2,85.67 L602.2,86.18 L604.2,86.69 L606.2,87.21 L608.2,87.73 L610.2,88.24 L612.2,88.76 L614.1,89.28 L616.1,89.80 L618.1,90.33 L620.1,90.85 L622.1,91.38 L624.1,91.90 L626.1,92.43 L628.1,92.97 L630.1,93.50 L632.1,94.03 L634.1,94.57 L636.1,95.10 L638.1,95.64 L640.1,96.18 L642.1,96.73 L644.1,97.27 L646.1,97.81 L648.1,98.36 L650.1,98.91 L652.1,99.46 L654.1,100.01 L656.1,100.56 L658.1,101.11 L660.1,101.67 L662.1,102.23 L664.1,102.78 L666.1,103.34 L668.1,103.91 L670.1,104.47 L672.1,105.03 L674.1,105.60 L676.1,106.16 L678.1,106.73 L680.1,107.30 L682.1,107.87 L684.1,108.45 L686.1,109.02 L688.1,109.60 L690.1,110.17 L692.1,110.75 L694.1,111.33 L696.1,111.91 L698.1,112.50 L700.1,113.08 L702.1,113.67 L704.1,114.26 L706.1,114.85 L708.1,115.45 L710.1,116.04 L712.1,116.64 L714.1,117.24 L716.1,117.84 L718.1,118.44 L720.1,119.05 L722.1,119.66 L724.1,120.27 L726.0,120.88 L728.0,121.49 L730.0,122.11 L732.0,122.73 L734.0,123.35 L736.0,123.98 L738.0,124.60 L740.0,125.23 L742.0,125.86 L744.0,126.50 L746.0,127.13 L748.0,127.77 L750.0,128.41 L752.0,129.05 L754.0,129.69 L756.0,130.34 L758.0,130.98 L760.0,131.63 L762.0,132.28 L764.0,132.93 L766.0,133.59 L768.0,134.24 L770.0,134.90 L772.0,135.56 L774.0,136.22 L776.0,136.88 L778.0,137.54 L780.0,138.20 L782.0,138.86 L784.0,139.53 L786.0,140.20 L788.0,140.87 L790.0,141.54 L792.0,142.21 L794.0,142.88 L796.0,143.56 L798.0,144.23 L800.0,144.91 L802.0,145.59 L804.0,146.28 L806.0,146.96 L808.0,147.65 L810.0,148.33 L812.0,149.02 L814.0,149.72 L816.0,150.41 L818.0,151.10 L820.0,151.80 L822.0,152.50 L824.0,153.20 L826.0,153.91 L828.0,154.61 L830.0,155.32 L832.0,156.03 L834.0,156.74 L835.9,157.46 L837.9,158.17 L839.9,158.89 L841.9,159.61 L843.9,160.34 L845.9,161.06 L847.9,161.79 L849.9,162.52 L851.9,163.25 L853.9,163.99 L855.9,164.72 L857.9,165.46 L859.9,166.20 L861.9,166.95 L863.9,167.69 L865.9,168.44 L867.9,169.19 L869.9,169.94 L871.9,170.69 L873.9,171.45 L875.9,172.20 L877.9,172.96 L879.9,173.73 L881.9,174.49 L883.9,175.26 L885.9,176.02 L887.9,176.80 L889.9,177.57 L891.9,178.34 L893.9,179.12 L895.9,179.90 L897.9,180.68 L899.9,181.46 L901.9,182.25 L903.9,183.04 L905.9,183.83 L907.9,184.62 L909.9,185.42 L911.9,186.21 L913.9,187.01 L915.9,187.82 L917.9,188.62 L919.9,189.43 L921.9,190.24 L923.9,191.05 L925.9,191.86 L927.9,192.68 L929.9,193.49 L931.9,194.31 L933.9,195.14 L935.9,195.96 L937.9,196.79 L939.9,197.62 L941.9,198.45 L943.9,199.28 L945.9,200.12 L947.8,200.96 L949.8,201.80 L951.8,202.64 L953.8,203.48 L955.8,204.32 L957.8,205.17 L959.8,206.02 L961.8,206.87 L963.8,207.72 L965.8,208.58 L967.8,209.44 L969.8,210.30 L971.8,211.16 L973.8,212.03 L975.8,212.90 L977.8,213.77 L979.8,214.64 L981.8,215.52 L983.8,216.40 L985.8,217.29 L987.8,218.18 L989.8,219.07 L991.8,219.96 L993.8,220.86 L995.8,221.76 L997.8,222.67 L999.8,223.58 L1001.8,224.50 L1003.8,225.42 L1005.8,226.34 L1007.8,227.27 L1009.8,228.20 L1011.8,229.14 L1013.8,230.07 L1015.8,231.02 L1017.8,231.97 L1019.8,232.92 L1021.8,233.87 L1023.8,234.83 L1025.8,235.79 L1027.8,236.76 L1029.8,237.73 L1031.8,238.71 L1033.8,239.69 L1035.8,240.67 L1037.8,241.66 L1039.8,242.65 L1041.8,243.65 L1043.8,244.65 L1045.8,245.65 L1047.8,246.66 L1049.8,247.67 L1051.8,248.69 L1053.8,249.71 L1055.8,250.74 L1057.7,251.77 L1059.7,252.81 L1061.7,253.84 L1063.7,254.88 L1065.7,255.93 L1067.7,256.98 L1069.7,258.03 L1071.7,259.09 L1073.7,260.15 L1075.7,261.22 L1077.7,262.29 L1079.7,263.37 L1081.7,264.45 L1083.7,265.54 L1085.7,266.64 L1087.7,267.75 L1089.7,268.86 L1091.7,269.98 L1093.7,271.11 L1095.7,272.24 L1097.7,273.38 L1099.7,274.53 L1101.7,275.69 L1103.7,276.86 L1105.7,278.04 L1107.7,279.22 L1109.7,280.41 L1111.7,281.62 L1113.7,282.83 L1115.7,284.05 L1117.7,285.27 L1119.7,286.51 L1121.7,287.75 L1123.7,289.00 L1125.7,290.26 L1127.7,291.52 L1129.7,292.79 L1131.7,294.06 L1133.7,295.34 L1135.7,296.62 L1137.7,297.91 L1139.7,299.20 L1141.7,300.50 L1143.7,301.80 L1145.7,303.10 L1147.7,304.41 L1149.7,305.72 L1151.7,307.03 L1153.7,308.35 L1155.7,309.67 L1157.7,310.99 L1159.7,312.31 L1161.7,313.63 L1163.7,314.96 L1165.7,316.29 L1167.7,317.62 L1169.6,318.95 L1171.6,320.21 L1173.6,321.44 L1175.6,322.68 L1177.6,323.94 L1179.6,325.23 L1181.6,326.53 L1183.6,327.84 L1185.6,329.18 L1187.6,330.54 L1189.6,331.92 L1191.6,333.32 L1193.6,334.76 L1195.6,336.21 L1197.6,337.69 L1199.6,339.19 L1201.6,340.76 L1203.6,342.33 L1205.6,343.79 L1207.6,344.99 L1209.6,345.79 L1211.6,346.21 L1213.6,346.39 L1215.6,346.46 L1217.6,346.49 L1219.6,346.50 L1221.6,346.50 L1223.6,346.50"/>
<path d="M336.4,34.50 L338.4,34.71 L340.4,34.93 L342.4,35.15 L344.4,35.37 L346.4,35.60 L348.4,35.83 L350.4,36.06 L352.4,36.30 L354.4,36.54 L356.4,36.78 L358.4,37.03 L360.4,37.28 L362.4,37.53 L364.4,37.79 L366.4,38.05 L368.4,38.31 L370.4,38.58 L372.4,38.84 L374.4,39.12 L376.4,39.39 L378.4,39.67 L380.4,39.94 L382.4,40.22 L384.4,40.51 L386.4,40.79 L388.4,41.08 L390.4,41.37 L392.3,41.67 L394.3,41.97 L396.3,42.27 L398.3,42.58 L400.3,42.89 L402.3,43.21 L404.3,43.53 L406.3,43.85 L408.3,44.18 L410.3,44.52 L412.3,44.86 L414.3,45.20 L416.3,45.54 L418.3,45.89 L420.3,46.24 L422.3,46.59 L424.3,46.95 L426.3,47.31 L428.3,47.67 L430.3,48.03 L432.3,48.40 L434.3,48.77 L436.3,49.13 L438.3,49.51 L440.3,49.88 L442.3,50.25 L444.3,50.62 L446.3,51.00 L448.3,51.37 L450.3,51.75 L452.3,52.13 L454.3,52.52 L456.3,52.91 L458.3,53.30 L460.3,53.69 L462.3,54.09 L464.3,54.49 L466.3,54.89 L468.3,55.30 L470.3,55.71 L472.3,56.11 L474.3,56.53 L476.3,56.94 L478.3,57.36 L480.3,57.77 L482.3,58.19 L484.3,58.62 L486.3,59.04 L488.3,59.46 L490.3,59.89 L492.3,60.32 L494.3,60.74 L496.3,61.17 L498.3,61.60 L500.3,62.04 L502.3,62.47 L504.2,62.90 L506.2,63.34 L508.2,63.77 L510.2,64.21 L512.2,64.65 L514.2,65.10 L516.2,65.54 L518.2,65.99 L520.2,66.44 L522.2,66.89 L524.2,67.34 L526.2,67.79 L528.2,68.25 L530.2,68.71 L532.2,69.16 L534.2,69.62 L536.2,70.09 L538.2,70.55 L540.2,71.02 L542.2,71.48 L544.2,71.95 L546.2,72.42 L548.2,72.89 L550.2,73.36 L552.2,73.84 L554.2,74.31 L556.2,74.79 L558.2,75.26 L560.2,75.74 L562.2,76.22 L564.2,76.71 L566.2,77.19 L568.2,77.68 L570.2,78.16 L572.2,78.65 L574.2,79.14 L576.2,79.64 L578.2,80.13 L580.2,80.63 L582.2,81.12 L584.2,81.62 L586.2,82.12 L588.2,82.62 L590.2,83.13 L592.2,83.63 L594.2,84.14 L596.2,84.65 L598.2,85.16 L600.2,85.67 L602.2,86.18 L604.2,86.69 L606.2,87.21 L608.2,87.73 L610.2,88.24 L612.2,88.76 L614.1,89.28 L616.1,89.80 L618.1,90.33 L620.1,90.85 L622.1,91.38 L624.1,91.90 L626.1,92.43 L628.1,92.97 L630.1,93.50 L632.1,94.03 L634.1,94.57 L636.1,95.10 L638.1,95.64 L640.1,96.18 L642.1,96.73 L644.1,97.27 L646.1,97.81 L648.1,98.36 L650.1,98.91 L652.1,99.46 L654.1,100.01 L656.1,100.56 L658.1,101.11 L660.1,101.67 L662.1,102.23 L664.1,102.78 L666.1,103.34 L668.1,103.91 L670.1,104.47 L672.1,105.03 L674.1,105.60 L676.1,106.16 L678.1,106.73 L680.1,107.30 L682.1,107.87 L684.1,108.45 L686.1,109.02 L688.1,109.60 L690.1,110.17 L692.1,110.75 L694.1,111.33 L696.1,111.91 L698.1,112.50 L700.1,113.08 L702.1,113.67 L704.1,114.26 L706.1,114.85 L708.1,115.45 L710.1,116.04 L712.1,116.64 L714.1,117.24 L716.1,117.84 L718.1,118.44 L720.1,119.05 L722.1,119.66 L724.1,120.27 L726.0,120.88 L728.0,121.49 L730.0,122.11 L732.0,122.73 L734.0,123.35 L736.0,123.98 L738.0,124.60 L740.0,125.23 L742.0,125.86 L744.0,126.50 L746.0,127.13 L748.0,127.77 L750.0,128.41 L752.0,129.05 L754.0,129.69 L756.0,130.34 L758.0,130.98 L760.0,131.63 L762.0,132.28 L764.0,132.93 L766.0,133.59 L768.0,134.24 L770.0,134.90 L772.0,135.56 L774.0,136.22 L776.0,136.88 L778.0,137.54 L780.0,138.20 L782.0,138.86 L784.0,139.53 L786.0,140.20 L788.0,140.87 L790.0,141.54 L792.0,142.21 L794.0,142.88 L796.0,143.56 L798.0,144.23 L800.0,144.91 L802.0,145.59 L804.0,146.28 L806.0,146.96 L808.0,147.65 L810.0,148.33 L812.0,149.02 L814.0,149.72 L816.0,150.41 L818.0,151.10 L820.0,151.80 L822.0,152.50 L824.0,153.20 L826.0,153.91 L828.0,154.61 L830.0,155.32 L832.0,156.03 L834.0,156.74 L835.9,157.46 L837.9,158.17 L839.9,158.89 L841.9,159.61 L843.9,160.34 L845.9,161.06 L847.9,161.79 L849.9,162.52 L851.9,163.25 L853.9,163.99 L855.9,164.72 L857.9,165.46 L859.9,166.20 L861.9,166.95 L863.9,167.69 L865.9,168.44 L867.9,169.19 L869.9,169.94 L871.9,170.69 L873.9,171.45 L875.9,172.20 L877.9,172.96 L879.9,173.73 L881.9,174.49 L883.9,175.26 L885.9,176.02 L887.9,176.80 L889.9,177.57 L891.9,178.34 L893.9,179.12 L895.9,179.90 L897.9,180.68 L899.9,181.46 L901.9,182.25 L903.9,183.04 L905.9,183.83 L907.9,184.62 L909.9,185.42 L911.9,186.21 L913.9,187.01 L915.9,187.82 L917.9,188.62 L919.9,189.43 L921.9,190.24 L923.9,191.05 L925.9,191.86 L927.9,192.68 L929.9,193.49 L931.9,194.31 L933.9,195.14 L935.9,195.96 L937.9,196.79 L939.9,197.62 L941.9,198.45 L943.9,199.28 L945.9,200.12 L947.8,200.96 L949.8,201.80 L951.8,202.64 L953.8,203.48 L955.8,204.32 L957.8,205.17 L959.8,206.02 L961.8,206.87 L963.8,207.72 L965.8,208.58 L967.8,209.44 L969.8,210.30 L971.8,211.16 L973.8,212.03 L975.8,212.90 L977.8,213.77 L979.8,214.64 L981.8,215.52 L983.8,216.40 L985.8,217.29 L987.8,218.18 L989.8,219.07 L991.8,219.96 L993.8,220.86 L995.8,221.76 L997.8,222.67 L999.8,223.58 L1001.8,224.50 L1003.8,225.42 L1005.8,226.34 L1007.8,227.27 L1009.8,228.20 L1011.8,229.13 L1013.8,230.07 L1015.8,231.01 L1017.8,231.96 L1019.8,232.91 L1021.8,233.87 L1023.8,234.82 L1025.8,235.79 L1027.8,236.75 L1029.8,237.72 L1031.8,238.70 L1033.8,239.67 L1035.8,240.66 L1037.8,241.64 L1039.8,242.63 L1041.8,243.63 L1043.8,244.62 L1045.8,245.63 L1047.8,246.63 L1049.8,247.64 L1051.8,248.66 L1053.8,249.67 L1055.8,250.70 L1057.7,251.72 L1059.7,252.75 L1061.7,253.79 L1063.7,254.82 L1065.7,255.86 L1067.7,256.90 L1069.7,257.95 L1071.7,259.00 L1073.7,260.06 L1075.7,261.12 L1077.7,262.18 L1079.7,263.26 L1081.7,264.33 L1083.7,265.42 L1085.7,266.51 L1087.7,267.60 L1089.7,268.71 L1091.7,269.82 L1093.7,270.93 L1095.7,272.06 L1097.7,273.19 L1099.7,274.33 L1101.7,275.48 L1103.7,276.64 L1105.7,277.81 L1107.7,278.98 L1109.7,280.17 L1111.7,281.36 L1113.7,282.56 L1115.7,283.77 L1117.7,284.99 L1119.7,286.22 L1121.7,287.45 L1123.7,288.69 L1125.7,289.94 L1127.7,291.20 L1129.7,292.46 L1131.7,293.73 L1133.7,295.01 L1135.7,296.29 L1137.7,297.57 L1139.7,298.86 L1141.7,300.16 L1143.7,301.46 L1145.7,302.76 L1147.7,304.07 L1149.7,305.39 L1151.7,306.70 L1153.7,308.02 L1155.7,309.34 L1157.7,310.67 L1159.7,312.00 L1161.7,313.33 L1163.7,314.66 L1165.7,315.99 L1167.7,317.33 L1169.6,318.67 L1171.6,320.03 L1173.6,321.39 L1175.6,322.66 L1177.6,323.95 L1179.6,325.25 L1181.6,326.57 L1183.6,327.90 L1185.6,329.25 L1187.6,330.62 L1189.6,332.02 L1191.6,333.43 L1193.6,334.87 L1195.6,336.34 L1197.6,337.83 L1199.6,339.35 L1201.6,340.89 L1203.6,342.46 L1205.6,344.12 L1207.6,345.72 L1209.6,347.17 L1211.6,348.28 L1213.6,348.93 L1215.6,349.23 L1217.6,349.34 L1219.6,349.38 L1221.6,349.39 L1223.6,349.40"/>
<path d="M336.4,34.50 L338.4,34.71 L340.4,34.93 L342.4,35.15 L344.4,35.37 L346.4,35.60 L348.4,35.83 L350.4,36.06 L352.4,36.30 L354.4,36.54 L356.4,36.78 L358.4,37.03 L360.4,37.28 L362.4,37.53 L364.4,37.79 L366.4,38.05 L368.4,38.31 L370.4,38.58 L372.4,38.84 L374.4,39.12 L376.4,39.39 L378.4,39.67 L380.4,39.94 L382.4,40.22 L384.4,40.51 L386.4,40.79 L388.4,41.08 L390.4,41.37 L392.3,41.67 L394.3,41.97 L396.3,42.27 L398.3,42.58 L400.3,42.89 L402.3,43.21 L404.3,43.53 L406.3,43.85 L408.3,44.18 L410.3,44.52 L412.3,44.86 L414.3,45.20 L416.3,45.54 L418.3,45.89 L420.3,46.24 L422.3,46.59 L424.3,46.95 L426.3,47.31 L428.3,47.67 L430.3,48.03 L432.3,48.40 L434.3,48.77 L436.3,49.13 L438.3,49.51 L440.3,49.88 L442.3,50.25 L444.3,50.62 L446.3,51.00 L448.3,51.37 L450.3,51.75 L452.3,52.13 L454.3,52.52 L456.3,52.91 L458.3,53.30 L460.3,53.69 L462.3,54.09 L464.3,54.49 L466.3,54.89 L468.3,55.30 L470.3,55.71 L472.3,56.11 L474.3,56.53 L476.3,56.94 L478.3,57.36 L480.3,57.77 L482.3,58.19 L484.3,58.62 L486.3,59.04 L488.3,59.46 L490.3,59.89 L492.3,60.32 L494.3,60.74 L496.3,61.17 L498.3,61.60 L500.3,62.04 L502.3,62.47 L504.2,62.90 L506.2,63.34 L508.2,63.77 L510.2,64.21 L512.2,64.65 L514.2,65.10 L516.2,65.54 L518.2,65.99 L520.2,66.44 L522.2,66.89 L524.2,67.34 L526.2,67.79 L528.2,68.25 L530.2,68.71 L532.2,69.16 L534.2,69.62 L536.2,70.09 L538.2,70.55 L540.2,71.02 L542.2,71.48 L544.2,71.95 L546.2,72.42 L548.2,72.89 L550.2,73.36 L552.2,73.84 L554.2,74.31 L556.2,74.79 L558.2,75.26 L560.2,75.74 L562.2,76.22 L564.2,76.71 L566.2,77.19 L568.2,77.68 L570.2,78.16 L572.2,78.65 L574.2,79.14 L576.2,79.64 L578.2,80.13 L580.2,80.63 L582.2,81.12 L584.2,81.62 L586.2,82.12 L588.2,82.62 L590.2,83.13 L592.2,83.63 L594.2,84.14 L596.2,84.65 L598.2,85.16 L600.2,85.67 L602.2,86.18 L604.2,86.69 L606.2,87.21 L608.2,87.73 L610.2,88.24 L612.2,88.76 L614.1,89.28 L616.1,89.80 L618.1,90.33 L620.1,90.85 L622.1,91.38 L624.1,91.90 L626.1,92.43 L628.1,92.97 L630.1,93.50 L632.1,94.03 L634.1,94.57 L636.1,95.10 L638.1,95.64 L640.1,96.18 L642.1,96.73 L644.1,97.27 L646.1,97.81 L648.1,98.36 L650.1,98.91 L652.1,99.46 L654.1,100.01 L656.1,100.56 L658.1,101.11 L660.1,101.67 L662.1,102.23 L664.1,102.78 L666.1,103.34 L668.1,103.91 L670.1,104.47 L672.1,105.03 L674.1,105.60 L676.1,106.16 L678.1,106.73 L680.1,107.30 L682.1,107.87 L684.1,108.45 L686.1,109.02 L688.1,109.60 L690.1,110.17 L692.1,110.75 L694.1,111.33 L696.1,111.91 L698.1,112.50 L700.1,113.08 L702.1,113.67 L704.1,114.26 L706.1,114.85 L708.1,115.45 L710.1,116.04 L712.1,116.64 L714.1,117.24 L716.1,117.84 L718.1,118.44 L720.1,119.05 L722.1,119.66 L724.1,120.27 L726.0,120.88 L728.0,121.49 L730.0,122.11 L732.0,122.73 L734.0,123.35 L736.0,123.98 L738.0,124.60 L740.0,125.23 L742.0,125.86 L744.0,126.50 L746.0,127.13 L748.0,127.77 L750.0,128.41 L752.0,129.05 L754.0,129.69 L756.0,130.34 L758.0,130.98 L760.0,131.63 L762.0,132.28 L764.0,132.93 L766.0,133.59 L768.0,134.24 L770.0,134.90 L772.0,135.56 L774.0,136.22 L776.0,136.88 L778.0,137.54 L780.0,138.20 L782.0,138.86 L784.0,139.53 L786.0,140.20 L788.0,140.87 L790.0,141.54 L792.0,142.21 L794.0,142.88 L796.0,143.56 L798.0,144.23 L800.0,144.91 L802.0,145.59 L804.0,146.28 L806.0,146.96 L808.0,147.65 L810.0,148.33 L812.0,149.02 L814.0,149.72 L816.0,150.41 L818.0,151.10 L820.0,151.80 L822.0,152.50 L824.0,153.20 L826.0,153.91 L828.0,154.61 L830.0,155.32 L832.0,156.03 L834.0,156.74 L835.9,157.46 L837.9,158.17 L839.9,158.89 L841.9,159.61 L843.9,160.34 L845.9,161.06 L847.9,161.79 L849.9,162.52 L851.9,163.25 L853.9,163.99 L855.9,164.72 L857.9,165.46 L859.9,166.20 L861.9,166.95 L863.9,167.69 L865.9,168.44 L867.9,169.19 L869.9,169.94 L871.9,170.69 L873.9,171.45 L875.9,172.20 L877.9,172.96 L879.9,173.73 L881.9,174.49 L883.9,175.26 L885.9,176.02 L887.9,176.80 L889.9,177.57 L891.9,178.34 L893.9,179.12 L895.9,179.90 L897.9,180.68 L899.9,181.46 L901.9,182.25 L903.9,183.04 L905.9,183.83 L907.9,184.62 L909.9,185.42 L911.9,186.21 L913.9,187.01 L915.9,187.82 L917.9,188.62 L919.9,189.43 L921.9,190.24 L923.9,191.05 L925.9,191.86 L927.9,192.68 L929.9,193.49 L931.9,194.31 L933.9,195.14 L935.9,195.96 L937.9,196.79 L939.9,197.62 L941.9,198.45 L943.9,199.28 L945.9,200.12 L947.8,200.96 L949.8,201.80 L951.8,202.64 L953.8,203.48 L955.8,204.32 L957.8,205.17 L959.8,206.02 L961.8,206.87 L963.8,207.72 L965.8,208.58 L967.8,209.44 L969.8,210.30 L971.8,211.16 L973.8,212.03 L975.8,212.90 L977.8,213.77 L979.8,214.64 L981.8,215.52 L983.8,216.40 L985.8,217.29 L987.8,218.18 L989.8,219.07 L991.8,219.96 L993.8,220.86 L995.8,221.76 L997.8,222.67 L999.8,223.58 L1001.8,224.50 L1003.8,225.41 L1005.8,226.34 L1007.8,227.26 L1009.8,228.20 L1011.8,229.13 L1013.8,230.07 L1015.8,231.01 L1017.8,231.96 L1019.8,232.91 L1021.8,233.86 L1023.8,234.82 L1025.8,235.78 L1027.8,236.75 L1029.8,237.72 L1031.8,238.69 L1033.8,239.67 L1035.8,240.65 L1037.8,241.63 L1039.8,242.62 L1041.8,243.61 L1043.8,244.61 L1045.8,245.61 L1047.8,246.61 L1049.8,247.62 L1051.8,248.63 L1053.8,249.65 L1055.8,250.67 L1057.7,251.69 L1059.7,252.72 L1061.7,253.75 L1063.7,254.78 L1065.7,255.82 L1067.7,256.86 L1069.7,257.90 L1071.7,258.94 L1073.7,259.99 L1075.7,261.05 L1077.7,262.11 L1079.7,263.18 L1081.7,264.25 L1083.7,265.32 L1085.7,266.41 L1087.7,267.50 L1089.7,268.59 L1091.7,269.70 L1093.7,270.81 L1095.7,271.92 L1097.7,273.05 L1099.7,274.18 L1101.7,275.32 L1103.7,276.47 L1105.7,277.63 L1107.7,278.80 L1109.7,279.98 L1111.7,281.16 L1113.7,282.36 L1115.7,283.56 L1117.7,284.77 L1119.7,285.99 L1121.7,287.22 L1123.7,288.45 L1125.7,289.70 L1127.7,290.95 L1129.7,292.21 L1131.7,293.47 L1133.7,294.74 L1135.7,296.02 L1137.7,297.30 L1139.7,298.59 L1141.7,299.88 L1143.7,301.18 L1145.7,302.48 L1147.7,303.79 L1149.7,305.10 L1151.7,306.42 L1153.7,307.74 L1155.7,309.06 L1157.7,310.39 L1159.7,311.72 L1161.7,313.06 L1163.7,314.39 L1165.7,315.74 L1167.7,317.08 L1169.6,318.43 L1171.6,319.79 L1173.6,321.16 L1175.6,322.55 L1177.6,323.89 L1179.6,325.21 L1181.6,326.55 L1183.6,327.90 L1185.6,329.27 L1187.6,330.65 L1189.6,332.06 L1191.6,333.49 L1193.6,334.94 L1195.6,336.41 L1197.6,337.91 L1199.6,339.44 L1201.6,340.99 L1203.6,342.58 L1205.6,344.19 L1207.6,345.86 L1209.6,347.52 L1211.6,349.07 L1213.6,350.36 L1215.6,351.22 L1217.6,351.64 L1219.6,351.81 L1221.6,351.87 L1223.6,351.89"/>
<path d="M336.4,34.50 L338.4,34.71 L340.4,34.93 L342.4,35.15 L344.4,35.37 L346.4,35.60 L348.4,35.83 L350.4,36.06 L352.4,36.30 L354.4,36.54 L356.4,36.78 L358.4,37.03 L360.4,37.28 L362.4,37.53 L364.4,37.79 L366.4,38.05 L368.4,38.31 L370.4,38.58 L372.4,38.84 L374.4,39.12 L376.4,39.39 L378.4,39.67 L380.4,39.94 L382.4,40.22 L384.4,40.51 L386.4,40.79 L388.4,41.08 L390.4,41.37 L392.3,41.67 L394.3,41.97 L396.3,42.27 L398.3,42.58 L400.3,42.89 L402.3,43.21 L404.3,43.53 L406.3,43.85 L408.3,44.18 L410.3,44.52 L412.3,44.86 L414.3,45.20 L416.3,45.54 L418.3,45.89 L420.3,46.24 L422.3,46.59 L424.3,46.95 L426.3,47.31 L428.3,47.67 L430.3,48.03 L432.3,48.40 L434.3,48.77 L436.3,49.13 L438.3,49.51 L440.3,49.88 L442.3,50.25 L444.3,50.62 L446.3,51.00 L448.3,51.37 L450.3,51.75 L452.3,52.13 L454.3,52.52 L456.3,52.91 L458.3,53.30 L460.3,53.69 L462.3,54.09 L464.3,54.49 L466.3,54.89 L468.3,55.30 L470.3,55.71 L472.3,56.11 L474.3,56.53 L476.3,56.94 L478.3,57.36 L480.3,57.77 L482.3,58.19 L484.3,58.62 L486.3,59.04 L488.3,59.46 L490.3,59.89 L492.3,60.32 L494.3,60.74 L496.3,61.17 L498.3,61.60 L500.3,62.04 L502.3,62.47 L504.2,62.90 L506.2,63.34 L508.2,63.77 L510.2,64.21 L512.2,64.65 L514.2,65.10 L516.2,65.54 L518.2,65.99 L520.2,66.44 L522.2,66.89 L524.2,67.34 L526.2,67.79 L528.2,68.25 L530.2,68.71 L532.2,69.16 L534.2,69.62 L536.2,70.09 L538.2,70.55 L540.2,71.02 L542.2,71.48 L544.2,71.95 L546.2,72.42 L548.2,72.89 L550.2,73.36 L552.2,73.84 L554.2,74.31 L556.2,74.79 L558.2,75.26 L560.2,75.74 L562.2,76.22 L564.2,76.71 L566.2,77.19 L568.2,77.68 L570.2,78.16 L572.2,78.65 L574.2,79.14 L576.2,79.64 L578.2,80.13 L580.2,80.63 L582.2,81.12 L584.2,81.62 L586.2,82.12 L588.2,82.62 L590.2,83.13 L592.2,83.63 L594.2,84.14 L596.2,84.65 L598.2,85.16 L600.2,85.67 L602.2,86.18 L604.2,86.69 L606.2,87.21 L608.2,87.73 L610.2,88.24 L612.2,88.76 L614.1,89.28 L616.1,89.80 L618.1,90.33 L620.1,90.85 L622.1,91.38 L624.1,91.90 L626.1,92.43 L628.1,92.97 L630.1,93.50 L632.1,94.03 L634.1,94.57 L636.1,95.10 L638.1,95.64 L640.1,96.18 L642.1,96.73 L644.1,97.27 L646.1,97.81 L648.1,98.36 L650.1,98.91 L652.1,99.46 L654.1,100.01 L656.1,100.56 L658.1,101.11 L660.1,101.67 L662.1,102.23 L664.1,102.78 L666.1,103.34 L668.1,103.91 L670.1,104.47 L672.1,105.03 L674.1,105.60 L676.1,106.16 L678.1,106.73 L680.1,107.30 L682.1,107.87 L684.1,108.45 L686.1,109.02 L688.1,109.60 L690.1,110.17 L692.1,110.75 L694.1,111.33 L696.1,111.91 L698.1,112.50 L700.1,113.08 L702.1,113.67 L704.1,114.26 L706.1,114.85 L708.1,115.45 L710.1,116.04 L712.1,116.64 L714.1,117.24 L716.1,117.84 L718.1,118.44 L720.1,119.05 L722.1,119.66 L724.1,120.27 L726.0,120.88 L728.0,121.49 L730.0,122.11 L732.0,122.73 L734.0,123.35 L736.0,123.98 L738.0,124.60 L740.0,125.23 L742.0,125.86 L744.0,126.50 L746.0,127.13 L748.0,127.77 L750.0,128.41 L752.0,129.05 L754.0,129.69 L756.0,130.34 L758.0,130.98 L760.0,131.63 L762.0,132.28 L764.0,132.93 L766.0,133.59 L768.0,134.24 L770.0,134.90 L772.0,135.56 L774.0,136.22 L776.0,136.88 L778.0,137.54 L780.0,138.20 L782.0,138.86 L784.0,139.53 L786.0,140.20 L788.0,140.87 L790.0,141.54 L792.0,142.21 L794.0,142.88 L796.0,143.56 L798.0,144.23 L800.0,144.91 L802.0,145.59 L804.0,146.28 L806.0,146.96 L808.0,147.65 L810.0,148.33 L812.0,149.02 L814.0,149.72 L816.0,150.41 L818.0,151.10 L820.0,151.80 L822.0,152.50 L824.0,153.20 L826.0,153.91 L828.0,154.61 L830.0,155.32 L832.0,156.03 L834.0,156.74 L835.9,157.46 L837.9,158.17 L839.9,158.89 L841.9,159.61 L843.9,160.34 L845.9,161.06 L847.9,161.79 L849.9,162.52 L851.9,163.25 L853.9,163.99 L855.9,164.72 L857.9,165.46 L859.9,166.20 L861.9,166.95 L863.9,167.69 L865.9,168.44 L867.9,169.19 L869.9,169.94 L871.9,170.69 L873.9,171.45 L875.9,172.20 L877.9,172.96 L879.9,173.73 L881.9,174.49 L883.9,175.26 L885.9,176.02 L887.9,176.80 L889.9,177.57 L891.9,178.34 L893.9,179.12 L895.9,179.90 L897.9,180.68 L899.9,181.46 L901.9,182.25 L903.9,183.04 L905.9,183.83 L907.9,184.62 L909.9,185.42 L911.9,186.21 L913.9,187.01 L915.9,187.82 L917.9,188.62 L919.9,189.43 L921.9,190.24 L923.9,191.05 L925.9,191.86 L927.9,192.68 L929.9,193.49 L931.9,194.31 L933.9,195.14 L935.9,195.96 L937.9,196.79 L939.9,197.62 L941.9,198.45 L943.9,199.28 L945.9,200.12 L947.8,200.96 L949.8,201.80 L951.8,202.64 L953.8,203.48 L955.8,204.32 L957.8,205.17 L959.8,206.02 L961.8,206.87 L963.8,207.72 L965.8,208.58 L967.8,209.44 L969.8,210.30 L971.8,211.16 L973.8,212.03 L975.8,212.90 L977.8,213.77 L979.8,214.64 L981.8,215.52 L983.8,216.40 L985.8,217.29 L987.8,218.17 L989.8,219.07 L991.8,219.96 L993.8,220.86 L995.8,221.76 L997.8,222.67 L999.8,223.58 L1001.8,224.50 L1003.8,225.41 L1005.8,226.34 L1007.8,227.26 L1009.8,228.19 L1011.8,229.13 L1013.8,230.07 L1015.8,231.01 L1017.8,231.96 L1019.8,232.91 L1021.8,233.86 L1023.8,234.82 L1025.8,235.78 L1027.8,236.74 L1029.8,237.71 L1031.8,238.69 L1033.8,239.66 L1035.8,240.64 L1037.8,241.63 L1039.8,242.62 L1041.8,243.61 L1043.8,244.60 L1045.8,245.60 L1047.8,246.61 L1049.8,247.61 L1051.8,248.62 L1053.8,249.64 L1055.8,250.66 L1057.7,251.68 L1059.7,252.71 L1061.7,253.73 L1063.7,254.76 L1065.7,255.80 L1067.7,256.83 L1069.7,257.87 L1071.7,258.92 L1073.7,259.97 L1075.7,261.02 L1077.7,262.08 L1079.7,263.14 L1081.7,264.21 L1083.7,265.28 L1085.7,266.36 L1087.7,267.45 L1089.7,268.54 L1091.7,269.64 L1093.7,270.75 L1095.7,271.87 L1097.7,272.99 L1099.7,274.12 L1101.7,275.26 L1103.7,276.40 L1105.7,277.56 L1107.7,278.72 L1109.7,279.89 L1111.7,281.07 L1113.7,282.26 L1115.7,283.46 L1117.7,284.67 L1119.7,285.89 L1121.7,287.11 L1123.7,288.35 L1125.7,289.59 L1127.7,290.83 L1129.7,292.09 L1131.7,293.35 L1133.7,294.62 L1135.7,295.89 L1137.7,297.17 L1139.7,298.46 L1141.7,299.75 L1143.7,301.05 L1145.7,302.35 L1147.7,303.66 L1149.7,304.97 L1151.7,306.29 L1153.7,307.61 L1155.7,308.93 L1157.7,310.26 L1159.7,311.59 L1161.7,312.93 L1163.7,314.27 L1165.7,315.61 L1167.7,316.96 L1169.6,318.31 L1171.6,319.67 L1173.6,321.05 L1175.6,322.44 L1177.6,323.84 L1179.6,325.18 L1181.6,326.53 L1183.6,327.89 L1185.6,329.27 L1187.6,330.66 L1189.6,332.07 L1191.6,333.50 L1193.6,334.96 L1195.6,336.44 L1197.6,337.95 L1199.6,339.48 L1201.6,341.03 L1203.6,342.62 L1205.6,344.24 L1207.6,345.89 L1209.6,347.58 L1211.6,349.24 L1213.6,350.75 L1215.6,351.95 L1217.6,352.69 L1219.6,353.04 L1221.6,353.16 L1223.6,353.21"/>
<path d="M336.4,34.50 L338.4,34.71 L340.4,34.93 L342.4,35.15 L344.4,35.37 L346.4,35.60 L348.4,35.83 L350.4,36.06 L352.4,36.30 L354.4,36.54 L356.4,36.78 L358.4,37.03 L360.4,37.28 L362.4,37.53 L364.4,37.79 L366.4,38.05 L368.4,38.31 L370.4,38.58 L372.4,38.84 L374.4,39.12 L376.4,39.39 L378.4,39.67 L380.4,39.94 L382.4,40.22 L384.4,40.51 L386.4,40.79 L388.4,41.08 L390.4,41.37 L392.3,41.67 L394.3,41.97 L396.3,42.27 L398.3,42.58 L400.3,42.89 L402.3,43.21 L404.3,43.53 L406.3,43.85 L408.3,44.18 L410.3,44.52 L412.3,44.86 L414.3,45.20 L416.3,45.54 L418.3,45.89 L420.3,46.24 L422.3,46.59 L424.3,46.95 L426.3,47.31 L428.3,47.67 L430.3,48.03 L432.3,48.40 L434.3,48.77 L436.3,49.13 L438.3,49.51 L440.3,49.88 L442.3,50.25 L444.3,50.62 L446.3,51.00 L448.3,51.37 L450.3,51.75 L452.3,52.13 L454.3,52.52 L456.3,52.91 L458.3,53.30 L460.3,53.69 L462.3,54.09 L464.3,54.49 L466.3,54.89 L468.3,55.30 L470.3,55.71 L472.3,56.11 L474.3,56.53 L476.3,56.94 L478.3,57.36 L480.3,57.77 L482.3,58.19 L484.3,58.62 L486.3,59.04 L488.3,59.46 L490.3,59.89 L492.3,60.32 L494.3,60.74 L496.3,61.17 L498.3,61.60 L500.3,62.04 L502.3,62.47 L504.2,62.90 L506.2,63.34 L508.2,63.77 L510.2,64.21 L512.2,64.65 L514.2,65.10 L516.2,65.54 L518.2,65.99 L520.2,66.44 L522.2,66.89 L524.2,67.34 L526.2,67.79 L528.2,68.25 L530.2,68.71 L532.2,69.16 L534.2,69.62 L536.2,70.09 L538.2,70.55 L540.2,71.02 L542.2,71.48 L544.2,71.95 L546.2,72.42 L548.2,72.89 L550.2,73.36 L552.2,73.84 L554.2,74.31 L556.2,74.79 L558.2,75.26 L560.2,75.74 L562.2,76.22 L564.2,76.71 L566.2,77.19 L568.2,77.68 L570.2,78.16 L572.2,78.65 L574.2,79.14 L576.2,79.64 L578.2,80.13 L580.2,80.63 L582.2,81.12 L584.2,81.62 L586.2,82.12 L588.2,82.62 L590.2,83.13 L592.2,83.63 L594.2,84.14 L596.2,84.65 L598.2,85.16 L600.2,85.67 L602.2,86.18 L604.2,86.69 L606.2,87.21 L608.2,87.73 L610.2,88.24 L612.2,88.76 L614.1,89.28 L616.1,89.80 L618.1,90.33 L620.1,90.85 L622.1,91.38 L624.1,91.90 L626.1,92.43 L628.1,92.97 L630.1,93.50 L632.1,94.03 L634.1,94.57 L636.1,95.10 L638.1,95.64 L640.1,96.18 L642.1,96.73 L644.1,97.27 L646.1,97.81 L648.1,98.36 L650.1,98.91 L652.1,99.46 L654.1,100.01 L656.1,100.56 L658.1,101.11 L660.1,101.67 L662.1,102.23 L664.1,102.78 L666.1,103.34 L668.1,103.91 L670.1,104.47 L672.1,105.03 L674.1,105.60 L676.1,106.16 L678.1,106.73 L680.1,107.30 L682.1,107.87 L684.1,108.45 L686.1,109.02 L688.1,109.60 L690.1,110.17 L692.1,110.75 L694.1,111.33 L696.1,111.91 L698.1,112.50 L700.1,113.08 L702.1,113.67 L704.1,114.26 L706.1,114.85 L708.1,115.45 L710.1,116.04 L712.1,116.64 L714.1,117.24 L716.1,117.84 L718.1,118.44 L720.1,119.05 L722.1,119.66 L724.1,120.27 L726.0,120.88 L728.0,121.49 L730.0,122.11 L732.0,122.73 L734.0,123.35 L736.0,123.98 L738.0,124.60 L740.0,125.23 L742.0,125.86 L744.0,126.50 L746.0,127.13 L748.0,127.77 L750.0,128.41 L752.0,129.05 L754.0,129.69 L756.0,130.34 L758.0,130.98 L760.0,131.63 L762.0,132.28 L764.0,132.93 L766.0,133.59 L768.0,134.24 L770.0,134.90 L772.0,135.56 L774.0,136.22 L776.0,136.88 L778.0,137.54 L780.0,138.20 L782.0,138.86 L784.0,139.53 L786.0,140.20 L788.0,140.87 L790.0,141.54 L792.0,142.21 L794.0,142.88 L796.0,143.56 L798.0,144.23 L800.0,144.91 L802.0,145.59 L804.0,146.28 L806.0,146.96 L808.0,147.65 L810.0,148.33 L812.0,149.02 L814.0,149.72 L816.0,150.41 L818.0,151.10 L820.0,151.80 L822.0,152.50 L824.0,153.20 L826.0,153.91 L828.0,154.61 L830.0,155.32 L832.0,156.03 L834.0,156.74 L835.9,157.46 L837.9,158.17 L839.9,158.89 L841.9,159.61 L843.9,160.34 L845.9,161.06 L847.9,161.79 L849.9,162.52 L851.9,163.25 L853.9,163.99 L855.9,164.72 L857.9,165.46 L859.9,166.20 L861.9,166.95 L863.9,167.69 L865.9,168.44 L867.9,169.19 L869.9,169.94 L871.9,170.69 L873.9,171.45 L875.9,172.20 L877.9,172.96 L879.9,173.73 L881.9,174.49 L883.9,175.26 L885.9,176.02 L887.9,176.80 L889.9,177.57 L891.9,178.34 L893.9,179.12 L895.9,179.90 L897.9,180.68 L899.9,181.46 L901.9,182.25 L903.9,183.04 L905.9,183.83 L907.9,184.62 L909.9,185.42 L911.9,186.21 L913.9,187.01 L915.9,187.82 L917.9,188.62 L919.9,189.43 L921.9,190.24 L923.9,191.05 L925.9,191.86 L927.9,192.68 L929.9,193.49 L931.9,194.31 L933.9,195.14 L935.9,195.96 L937.9,196.79 L939.9,197.62 L941.9,198.45 L943.9,199.28 L945.9,200.12 L947.8,200.96 L949.8,201.80 L951.8,202.64 L953.8,203.48 L955.8,204.32 L957.8,205.17 L959.8,206.02 L961.8,206.87 L963.8,207.72 L965.8,208.58 L967.8,209.44 L969.8,210.30 L971.8,211.16 L973.8,212.03 L975.8,212.90 L977.8,213.77 L979.8,214.64 L981.8,215.52 L983.8,216.40 L985.8,217.29 L987.8,218.17 L989.8,219.07 L991.8,219.96 L993.8,220.86 L995.8,221.76 L997.8,222.67 L999.8,223.58 L1001.8,224.49 L1003.8,225.41 L1005.8,226.34 L1007.8,227.26 L1009.8,228.19 L1011.8,229.13 L1013.8,230.07 L1015.8,231.01 L1017.8,231.96 L1019.8,232.91 L1021.8,233.86 L1023.8,234.82 L1025.8,235.78 L1027.8,236.74 L1029.8,237.71 L1031.8,238.68 L1033.8,239.66 L1035.8,240.64 L1037.8,241.63 L1039.8,242.61 L1041.8,243.60 L1043.8,244.60 L1045.8,245.60 L1047.8,246.60 L1049.8,247.61 L1051.8,248.62 L1053.8,249.63 L1055.8,250.65 L1057.7,251.67 L1059.7,252.70 L1061.7,253.73 L1063.7,254.76 L1065.7,255.79 L1067.7,256.83 L1069.7,257.87 L1071.7,258.91 L1073.7,259.96 L1075.7,261.01 L1077.7,262.07 L1079.7,263.13 L1081.7,264.20 L1083.7,265.27 L1085.7,266.35 L1087.7,267.44 L1089.7,268.53 L1091.7,269.63 L1093.7,270.73 L1095.7,271.85 L1097.7,272.97 L1099.7,274.10 L1101.7,275.24 L1103.7,276.38 L1105.7,277.54 L1107.7,278.70 L1109.7,279.87 L1111.7,281.05 L1113.7,282.24 L1115.7,283.44 L1117.7,284.65 L1119.7,285.87 L1121.7,287.09 L1123.7,288.32 L1125.7,289.56 L1127.7,290.81 L1129.7,292.07 L1131.7,293.33 L1133.7,294.60 L1135.7,295.87 L1137.7,297.15 L1139.7,298.44 L1141.7,299.73 L1143.7,301.03 L1145.7,302.34 L1147.7,303.64 L1149.7,304.96 L1151.7,306.28 L1153.7,307.60 L1155.7,308.92 L1157.7,310.25 L1159.7,311.59 L1161.7,312.93 L1163.7,314.27 L1165.7,315.61 L1167.7,316.96 L1169.6,318.31 L1171.6,319.67 L1173.6,321.05 L1175.6,322.44 L1177.6,323.85 L1179.6,325.25 L1181.6,326.59 L1183.6,327.95 L1185.6,329.33 L1187.6,330.72 L1189.6,332.13 L1191.6,333.56 L1193.6,335.02 L1195.6,336.50 L1197.6,338.00 L1199.6,339.53 L1201.6,341.08 L1203.6,342.67 L1205.6,344.29 L1207.6,345.93 L1209.6,347.60 L1211.6,349.30 L1213.6,350.93 L1215.6,352.36 L1217.6,353.41 L1219.6,353.98 L1221.6,354.22 L1223.6,354.30"/>
<path d="M336.4,34.50 L338.4,34.71 L340.4,34.93 L342.4,35.15 L344.4,35.37 L346.4,35.60 L348.4,35.83 L350.4,36.06 L352.4,36.30 L354.4,36.54 L356.4,36.78 L358.4,37.03 L360.4,37.28 L362.4,37.53 L364.4,37.79 L366.4,38.05 L368.4,38.31 L370.4,38.58 L372.4,38.84 L374.4,39.12 L376.4,39.39 L378.4,39.67 L380.4,39.94 L382.4,40.22 L384.4,40.51 L386.4,40.79 L388.4,41.08 L390.4,41.37 L392.3,41.67 L394.3,41.97 L396.3,42.27 L398.3,42.58 L400.3,42.89 L402.3,43.21 L404.3,43.53 L406.3,43.85 L408.3,44.18 L410.3,44.52 L412.3,44.86 L414.3,45.20 L416.3,45.54 L418.3,45.89 L420.3,46.24 L422.3,46.59 L424.3,46.95 L426.3,47.31 L428.3,47.67 L430.3,48.03 L432.3,48.40 L434.3,48.77 L436.3,49.13 L438.3,49.51 L440.3,49.88 L442.3,50.25 L444.3,50.62 L446.3,51.00 L448.3,51.37 L450.3,51.75 L452.3,52.13 L454.3,52.52 L456.3,52.91 L458.3,53.30 L460.3,53.69 L462.3,54.09 L464.3,54.49 L466.3,54.89 L468.3,55.30 L470.3,55.71 L472.3,56.11 L474.3,56.53 L476.3,56.94 L478.3,57.36 L480.3,57.77 L482.3,58.19 L484.3,58.62 L486.3,59.04 L488.3,59.46 L490.3,59.89 L492.3,60.32 L494.3,60.74 L496.3,61.17 L498.3,61.60 L500.3,62.04 L502.3,62.47 L504.2,62.90 L506.2,63.34 L508.2,63.77 L510.2,64.21 L512.2,64.65 L514.2,65.10 L516.2,65.54 L518.2,65.99 L520.2,66.44 L522.2,66.89 L524.2,67.34 L526.2,67.79 L528.2,68.25 L530.2,68.71 L532.2,69.16 L534.2,69.62 L536.2,70.09 L538.2,70.55 L540.2,71.02 L542.2,71.48 L544.2,71.95 L546.2,72.42 L548.2,72.89 L550.2,73.36 L552.2,73.84 L554.2,74.31 L556.2,74.79 L558.2,75.26 L560.2,75.74 L562.2,76.22 L564.2,76.71 L566.2,77.19 L568.2,77.68 L570.2,78.16 L572.2,78.65 L574.2,79.14 L576.2,79.64 L578.2,80.13 L580.2,80.63 L582.2,81.12 L584.2,81.62 L586.2,82.12 L588.2,82.62 L590.2,83.13 L592.2,83.63 L594.2,84.14 L596.2,84.65 L598.2,85.16 L600.2,85.67 L602.2,86.18 L604.2,86.69 L606.2,87.21 L608.2,87.73 L610.2,88.24 L612.2,88.76 L614.1,89.28 L616.1,89.80 L618.1,90.33 L620.1,90.85 L622.1,91.38 L624.1,91.90 L626.1,92.43 L628.1,92.97 L630.1,93.50 L632.1,94.03 L634.1,94.57 L636.1,95.10 L638.1,95.64 L640.1,96.18 L642.1,96.73 L644.1,97.27 L646.1,97.81 L648.1,98.36 L650.1,98.91 L652.1,99.46 L654.1,100.01 L656.1,100.56 L658.1,101.11 L660.1,101.67 L662.1,102.23 L664.1,102.78 L666.1,103.34 L668.1,103.91 L670.1,104.47 L672.1,105.03 L674.1,105.60 L676.1,106.16 L678.1,106.73 L680.1,107.30 L682.1,107.87 L684.1,108.45 L686.1,109.02 L688.1,109.60 L690.1,110.17 L692.1,110.75 L694.1,111.33 L696.1,111.91 L698.1,112.50 L700.1,113.08 L702.1,113.67 L704.1,114.26 L706.1,114.85 L708.1,115.45 L710.1,116.04 L712.1,116.64 L714.1,117.24 L716.1,117.84 L718.1,118.44 L720.1,119.05 L722.1,119.66 L724.1,120.27 L726.0,120.88 L728.0,121.49 L730.0,122.11 L732.0,122.73 L734.0,123.35 L736.0,123.98 L738.0,124.60 L740.0,125.23 L742.0,125.86 L744.0,126.50 L746.0,127.13 L748.0,127.77 L750.0,128.41 L752.0,129.05 L754.0,129.69 L756.0,130.34 L758.0,130.98 L760.0,131.63 L762.0,132.28 L764.0,132.93 L766.0,133.59 L768.0,134.24 L770.0,134.90 L772.0,135.56 L774.0,136.22 L776.0,136.88 L778.0,137.54 L780.0,138.20 L782.0,138.86 L784.0,139.53 L786.0,140.20 L788.0,140.87 L790.0,141.54 L792.0,142.21 L794.0,142.88 L796.0,143.56 L798.0,144.23 L800.0,144.91 L802.0,145.59 L804.0,146.28 L806.0,146.96 L808.0,147.65 L810.0,148.33 L812.0,149.02 L814.0,149.72 L816.0,150.41 L818.0,151.10 L820.0,151.80 L822.0,152.50 L824.0,153.20 L826.0,153.91 L828.0,154.61 L830.0,155.32 L832.0,156.03 L834.0,156.74 L835.9,157.46 L837.9,158.17 L839.9,158.89 L841.9,159.61 L843.9,160.34 L845.9,161.06 L847.9,161.79 L849.9,162.52 L851.9,163.25 L853.9,163.99 L855.9,164.72 L857.9,165.46 L859.9,166.20 L861.9,166.95 L863.9,167.69 L865.9,168.44 L867.9,169.19 L869.9,169.94 L871.9,170.69 L873.9,171.45 L875.9,172.20 L877.9,172.96 L879.9,173.73 L881.9,174.49 L883.9,175.26 L885.9,176.02 L887.9,176.80 L889.9,177.57 L891.9,178.34 L893.9,179.12 L895.9,179.90 L897.9,180.68 L899.9,181.46 L901.9,182.25 L903.9,183.04 L905.9,183.83 L907.9,184.62 L909.9,185.42 L911.9,186.21 L913.9,187.01 L915.9,187.82 L917.9,188.62 L919.9,189.43 L921.9,190.24 L923.9,191.05 L925.9,191.86 L927.9,192.68 L929.9,193.49 L931.9,194.31 L933.9,195.14 L935.9,195.96 L937.9,196.79 L939.9,197.62 L941.9,198.45 L943.9,199.28 L945.9,200.12 L947.8,200.96 L949.8,201.80 L951.8,202.64 L953.8,203.48 L955.8,204.32 L957.8,205.17 L959.8,206.02 L961.8,206.87 L963.8,207.72 L965.8,208.58 L967.8,209.44 L969.8,210.30 L971.8,211.16 L973.8,212.03 L975.8,212.90 L977.8,213.77 L979.8,214.64 L981.8,215.52 L983.8,216.40 L985.8,217.29 L987.8,218.17 L989.8,219.07 L991.8,219.96 L993.8,220.86 L995.8,221.76 L997.8,222.67 L999.8,223.58 L1001.8,224.49 L1003.8,225.41 L1005.8,226.34 L1007.8,227.26 L1009.8,228.19 L1011.8,229.13 L1013.8,230.07 L1015.8,231.01 L1017.8,231.95 L1019.8,232.90 L1021.8,233.86 L1023.8,234.82 L1025.8,235.78 L1027.8,236.74 L1029.8,237.71 L1031.8,238.68 L1033.8,239.66 L1035.8,240.64 L1037.8,241.62 L1039.8,242.61 L1041.8,243.60 L1043.8,244.60 L1045.8,245.60 L1047.8,246.60 L1049.8,247.61 L1051.8,248.62 L1053.8,249.63 L1055.8,250.65 L1057.7,251.67 L1059.7,252.70 L1061.7,253.72 L1063.7,254.75 L1065.7,255.79 L1067.7,256.82 L1069.7,257.86 L1071.7,258.90 L1073.7,259.95 L1075.7,261.00 L1077.7,262.06 L1079.7,263.12 L1081.7,264.19 L1083.7,265.26 L1085.7,266.34 L1087.7,267.43 L1089.7,268.52 L1091.7,269.62 L1093.7,270.72 L1095.7,271.83 L1097.7,272.96 L1099.7,274.08 L1101.7,275.22 L1103.7,276.37 L1105.7,277.52 L1107.7,278.68 L1109.7,279.85 L1111.7,281.03 L1113.7,282.22 L1115.7,283.42 L1117.7,284.63 L1119.7,285.85 L1121.7,287.07 L1123.7,288.30 L1125.7,289.54 L1127.7,290.79 L1129.7,292.05 L1131.7,293.31 L1133.7,294.58 L1135.7,295.85 L1137.7,297.14 L1139.7,298.42 L1141.7,299.72 L1143.7,301.02 L1145.7,302.32 L1147.7,303.63 L1149.7,304.95 L1151.7,306.26 L1153.7,307.59 L1155.7,308.92 L1157.7,310.25 L1159.7,311.58 L1161.7,312.92 L1163.7,314.26 L1165.7,315.61 L1167.7,316.96 L1169.6,318.31 L1171.6,319.68 L1173.6,321.06 L1175.6,322.45 L1177.6,323.86 L1179.6,325.28 L1181.6,326.65 L1183.6,328.01 L1185.6,329.38 L1187.6,330.77 L1189.6,332.18 L1191.6,333.61 L1193.6,335.07 L1195.6,336.54 L1197.6,338.04 L1199.6,339.57 L1201.6,341.12 L1203.6,342.71 L1205.6,344.33 L1207.6,345.97 L1209.6,347.63 L1211.6,349.33 L1213.6,351.02 L1215.6,352.59 L1217.6,353.86 L1219.6,354.67 L1221.6,355.06 L1223.6,355.21"/>
<path d="M336.4,34.50 L338.4,34.71 L340.4,34.93 L342.4,35.15 L344.4,35.37 L346.4,35.60 L348.4,35.83 L350.4,36.06 L352.4,36.30 L354.4,36.54 L356.4,36.78 L358.4,37.03 L360.4,37.28 L362.4,37.53 L364.4,37.79 L366.4,38.05 L368.4,38.31 L370.4,38.58 L372.4,38.84 L374.4,39.12 L376.4,39.39 L378.4,39.67 L380.4,39.94 L382.4,40.22 L384.4,40.51 L386.4,40.79 L388.4,41.08 L390.4,41.37 L392.3,41.67 L394.3,41.97 L396.3,42.27 L398.3,42.58 L400.3,42.89 L402.3,43.21 L404.3,43.53 L406.3,43.85 L408.3,44.18 L410.3,44.52 L412.3,44.86 L414.3,45.20 L416.3,45.54 L418.3,45.89 L420.3,46.24 L422.3,46.59 L424.3,46.95 L426.3,47.31 L428.3,47.67 L430.3,48.03 L432.3,48.40 L434.3,48.77 L436.3,49.13 L438.3,49.51 L440.3,49.88 L442.3,50.25 L444.3,50.62 L446.3,51.00 L448.3,51.37 L450.3,51.75 L452.3,52.13 L454.3,52.52 L456.3,52.91 L458.3,53.30 L460.3,53.69 L462.3,54.09 L464.3,54.49 L466.3,54.89 L468.3,55.30 L470.3,55.71 L472.3,56.11 L474.3,56.53 L476.3,56.94 L478.3,57.36 L480.3,57.77 L482.3,58.19 L484.3,58.62 L486.3,59.04 L488.3,59.46 L490.3,59.89 L492.3,60.32 L494.3,60.74 L496.3,61.17 L498.3,61.60 L500.3,62.04 L502.3,62.47 L504.2,62.90 L506.2,63.34 L508.2,63.77 L510.2,64.21 L512.2,64.65 L514.2,65.10 L516.2,65.54 L518.2,65.99 L520.2,66.44 L522.2,66.89 L524.2,67.34 L526.2,67.79 L528.2,68.25 L530.2,68.71 L532.2,69.16 L534.2,69.62 L536.2,70.09 L538.2,70.55 L540.2,71.02 L542.2,71.48 L544.2,71.95 L546.2,72.42 L548.2,72.89 L550.2,73.36 L552.2,73.84 L554.2,74.31 L556.2,74.79 L558.2,75.26 L560.2,75.74 L562.2,76.22 L564.2,76.71 L566.2,77.19 L568.2,77.68 L570.2,78.16 L572.2,78.65 L574.2,79.14 L576.2,79.64 L578.2,80.13 L580.2,80.63 L582.2,81.12 L584.2,81.62 L586.2,82.12 L588.2,82.62 L590.2,83.13 L592.2,83.63 L594.2,84.14 L596.2,84.65 L598.2,85.16 L600.2,85.67 L602.2,86.18 L604.2,86.69 L606.2,87.21 L608.2,87.73 L610.2,88.24 L612.2,88.76 L614.1,89.28 L616.1,89.80 L618.1,90.33 L620.1,90.85 L622.1,91.38 L624.1,91.90 L626.1,92.43 L628.1,92.97 L630.1,93.50 L632.1,94.03 L634.1,94.57 L636.1,95.10 L638.1,95.64 L640.1,96.18 L642.1,96.73 L644.1,97.27 L646.1,97.81 L648.1,98.36 L650.1,98.91 L652.1,99.46 L654.1,100.01 L656.1,100.56 L658.1,101.11 L660.1,101.67 L662.1,102.23 L664.1,102.78 L666.1,103.34 L668.1,103.91 L670.1,104.47 L672.1,105.03 L674.1,105.60 L676.1,106.16 L678.1,106.73 L680.1,107.30 L682.1,107.87 L684.1,108.45 L686.1,109.02 L688.1,109.60 L690.1,110.17 L692.1,110.75 L694.1,111.33 L696.1,111.91 L698.1,112.50 L700.1,113.08 L702.1,113.67 L704.1,114.26 L706.1,114.85 L708.1,115.45 L710.1,116.04 L712.1,116.64 L714.1,117.24 L716.1,117.84 L718.1,118.44 L720.1,119.05 L722.1,119.66 L724.1,120.27 L726.0,120.88 L728.0,121.49 L730.0,122.11 L732.0,122.73 L734.0,123.35 L736.0,123.98 L738.0,124.60 L740.0,125.23 L742.0,125.86 L744.0,126.50 L746.0,127.13 L748.0,127.77 L750.0,128.41 L752.0,129.05 L754.0,129.69 L756.0,130.34 L758.0,130.98 L760.0,131.63 L762.0,132.28 L764.0,132.93 L766.0,133.59 L768.0,134.24 L770.0,134.90 L772.0,135.56 L774.0,136.22 L776.0,136.88 L778.0,137.54 L780.0,138.20 L782.0,138.86 L784.0,139.53 L786.0,140.20 L788.0,140.87 L790.0,141.54 L792.0,142.21 L794.0,142.88 L796.0,143.56 L798.0,144.23 L800.0,144.91 L802.0,145.59 L804.0,146.28 L806.0,146.96 L808.0,147.65 L810.0,148.33 L812.0,149.02 L814.0,149.72 L816.0,150.41 L818.0,151.10 L820.0,151.80 L822.0,152.50 L824.0,153.20 L826.0,153.91 L828.0,154.61 L830.0,155.32 L832.0,156.03 L834.0,156.74 L835.9,157.46 L837.9,158.17 L839.9,158.89 L841.9,159.61 L843.9,160.34 L845.9,161.06 L847.9,161.79 L849.9,162.52 L851.9,163.25 L853.9,163.99 L855.9,164.72 L857.9,165.46 L859.9,166.20 L861.9,166.95 L863.9,167.69 L865.9,168.44 L867.9,169.19 L869.9,169.94 L871.9,170.69 L873.9,171.45 L875.9,172.20 L877.9,172.96 L879.9,173.73 L881.9,174.49 L883.9,175.26 L885.9,176.02 L887.9,176.80 L889.9,177.57 L891.9,178.34 L893.9,179.12 L895.9,179.90 L897.9,180.68 L899.9,181.46 L901.9,182.25 L903.9,183.04 L905.9,183.83 L907.9,184.62 L909.9,185.42 L911.9,186.21 L913.9,187.01 L915.9,187.82 L917.9,188.62 L919.9,189.43 L921.9,190.24 L923.9,191.05 L925.9,191.86 L927.9,192.68 L929.9,193.49 L931.9,194.31 L933.9,195.14 L935.9,195.96 L937.9,196.79 L939.9,197.62 L941.9,198.45 L943.9,199.28 L945.9,200.12 L947.8,200.96 L949.8,201.80 L951.8,202.64 L953.8,203.48 L955.8,204.32 L957.8,205.17 L959.8,206.02 L961.8,206.87 L963.8,207.72 L965.8,208.58 L967.8,209.44 L969.8,210.30 L971.8,211.16 L973.8,212.03 L975.8,212.90 L977.8,213.77 L979.8,214.64 L981.8,215.52 L983.8,216.40 L985.8,217.29 L987.8,218.17 L989.8,219.07 L991.8,219.96 L993.8,220.86 L995.8,221.76 L997.8,222.67 L999.8,223.58 L1001.8,224.49 L1003.8,225.41 L1005.8,226.34 L1007.8,227.26 L1009.8,228.19 L1011.8,229.13 L1013.8,230.07 L1015.8,231.01 L1017.8,231.95 L1019.8,232.90 L1021.8,233.86 L1023.8,234.82 L1025.8,235.78 L1027.8,236.74 L1029.8,237.71 L1031.8,238.68 L1033.8,239.66 L1035.8,240.64 L1037.8,241.62 L1039.8,242.61 L1041.8,243.60 L1043.8,244.60 L1045.8,245.60 L1047.8,246.60 L1049.8,247.60 L1051.8,248.61 L1053.8,249.63 L1055.8,250.65 L1057.7,251.67 L1059.7,252.69 L1061.7,253.72 L1063.7,254.75 L1065.7,255.78 L1067.7,256.82 L1069.7,257.86 L1071.7,258.90 L1073.7,259.95 L1075.7,261.00 L1077.7,262.05 L1079.7,263.11 L1081.7,264.18 L1083.7,265.25 L1085.7,266.33 L1087.7,267.42 L1089.7,268.51 L1091.7,269.61 L1093.7,270.71 L1095.7,271.82 L1097.7,272.94 L1099.7,274.07 L1101.7,275.21 L1103.7,276.35 L1105.7,277.51 L1107.7,278.67 L1109.7,279.84 L1111.7,281.02 L1113.7,282.21 L1115.7,283.41 L1117.7,284.61 L1119.7,285.83 L1121.7,287.05 L1123.7,288.29 L1125.7,289.53 L1127.7,290.78 L1129.7,292.03 L1131.7,293.29 L1133.7,294.56 L1135.7,295.84 L1137.7,297.12 L1139.7,298.41 L1141.7,299.70 L1143.7,301.00 L1145.7,302.31 L1147.7,303.62 L1149.7,304.93 L1151.7,306.25 L1153.7,307.58 L1155.7,308.91 L1157.7,310.24 L1159.7,311.58 L1161.7,312.92 L1163.7,314.26 L1165.7,315.61 L1167.7,316.96 L1169.6,318.31 L1171.6,319.68 L1173.6,321.06 L1175.6,322.45 L1177.6,323.86 L1179.6,325.28 L1181.6,326.69 L1183.6,328.05 L1185.6,329.43 L1187.6,330.82 L1189.6,332.23 L1191.6,333.66 L1193.6,335.11 L1195.6,336.58 L1197.6,338.08 L1199.6,339.61 L1201.6,341.16 L1203.6,342.74 L1205.6,344.36 L1207.6,346.00 L1209.6,347.66 L1211.6,349.35 L1213.6,351.06 L1215.6,352.70 L1217.6,354.14 L1219.6,355.17 L1221.6,355.72 L1223.6,355.95"/>
<path d="M336.4,34.50 L338.4,34.71 L340.4,34.93 L342.4,35.15 L344.4,35.37 L346.4,35.60 L348.4,35.83 L350.4,36.06 L352.4,36.30 L354.4,36.54 L356.4,36.78 L358.4,37.03 L360.4,37.28 L362.4,37.53 L364.4,37.79 L366.4,38.05 L368.4,38.31 L370.4,38.58 L372.4,38.84 L374.4,39.12 L376.4,39.39 L378.4,39.67 L380.4,39.94 L382.4,40.22 L384.4,40.51 L386.4,40.79 L388.4,41.08 L390.4,41.37 L392.3,41.67 L394.3,41.97 L396.3,42.27 L398.3,42.58 L400.3,42.89 L402.3,43.21 L404.3,43.53 L406.3,43.85 L408.3,44.18 L410.3,44.52 L412.3,44.86 L414.3,45.20 L416.3,45.54 L418.3,45.89 L420.3,46.24 L422.3,46.59 L424.3,46.95 L426.3,47.31 L428.3,47.67 L430.3,48.03 L432.3,48.40 L434.3,48.77 L436.3,49.13 L438.3,49.51 L440.3,49.88 L442.3,50.25 L444.3,50.62 L446.3,51.00 L448.3,51.37 L450.3,51.75 L452.3,52.13 L454.3,52.52 L456.3,52.91 L458.3,53.30 L460.3,53.69 L462.3,54.09 L464.3,54.49 L466.3,54.89 L468.3,55.30 L470.3,55.71 L472.3,56.11 L474.3,56.53 L476.3,56.94 L478.3,57.36 L480.3,57.77 L482.3,58.19 L484.3,58.62 L486.3,59.04 L488.3,59.46 L490.3,59.89 L492.3,60.32 L494.3,60.74 L496.3,61.17 L498.3,61.60 L500.3,62.04 L502.3,62.47 L504.2,62.90 L506.2,63.34 L508.2,63.77 L510.2,64.21 L512.2,64.65 L514.2,65.10 L516.2,65.54 L518.2,65.99 L520.2,66.44 L522.2,66.89 L524.2,67.34 L526.2,67.79 L528.2,68.25 L530.2,68.71 L532.2,69.16 L534.2,69.62 L536.2,70.09 L538.2,70.55 L540.2,71.02 L542.2,71.48 L544.2,71.95 L546.2,72.42 L548.2,72.89 L550.2,73.36 L552.2,73.84 L554.2,74.31 L556.2,74.79 L558.2,75.26 L560.2,75.74 L562.2,76.22 L564.2,76.71 L566.2,77.19 L568.2,77.68 L570.2,78.16 L572.2,78.65 L574.2,79.14 L576.2,79.64 L578.2,80.13 L580.2,80.63 L582.2,81.12 L584.2,81.62 L586.2,82.12 L588.2,82.62 L590.2,83.13 L592.2,83.63 L594.2,84.14 L596.2,84.65 L598.2,85.16 L600.2,85.67 L602.2,86.18 L604.2,86.69 L606.2,87.21 L608.2,87.73 L610.2,88.24 L612.2,88.76 L614.1,89.28 L616.1,89.80 L618.1,90.33 L620.1,90.85 L622.1,91.38 L624.1,91.90 L626.1,92.43 L628.1,92.97 L630.1,93.50 L632.1,94.03 L634.1,94.57 L636.1,95.10 L638.1,95.64 L640.1,96.18 L642.1,96.73 L644.1,97.27 L646.1,97.81 L648.1,98.36 L650.1,98.91 L652.1,99.46 L654.1,100.01 L656.1,100.56 L658.1,101.11 L660.1,101.67 L662.1,102.23 L664.1,102.78 L666.1,103.34 L668.1,103.91 L670.1,104.47 L672.1,105.03 L674.1,105.60 L676.1,106.16 L678.1,106.73 L680.1,107.30 L682.1,107.87 L684.1,108.45 L686.1,109.02 L688.1,109.60 L690.1,110.17 L692.1,110.75 L694.1,111.33 L696.1,111.91 L698.1,112.50 L700.1,113.08 L702.1,113.67 L704.1,114.26 L706.1,114.85 L708.1,115.45 L710.1,116.04 L712.1,116.64 L714.1,117.24 L716.1,117.84 L718.1,118.44 L720.1,119.05 L722.1,119.66 L724.1,120.27 L726.0,120.88 L728.0,121.49 L730.0,122.11 L732.0,122.73 L734.0,123.35 L736.0,123.98 L738.0,124.60 L740.0,125.23 L742.0,125.86 L744.0,126.50 L746.0,127.13 L748.0,127.77 L750.0,128.41 L752.0,129.05 L754.0,129.69 L756.0,130.34 L758.0,130.98 L760.0,131.63 L762.0,132.28 L764.0,132.93 L766.0,133.59 L768.0,134.24 L770.0,134.90 L772.0,135.56 L774.0,136.22 L776.0,136.88 L778.0,137.54 L780.0,138.20 L782.0,138.86 L784.0,139.53 L786.0,140.20 L788.0,140.87 L790.0,141.54 L792.0,142.21 L794.0,142.88 L796.0,143.56 L798.0,144.23 L800.0,144.91 L802.0,145.59 L804.0,146.28 L806.0,146.96 L808.0,147.65 L810.0,148.33 L812.0,149.02 L814.0,149.72 L816.0,150.41 L818.0,151.10 L820.0,151.80 L822.0,152.50 L824.0,153.20 L826.0,153.91 L828.0,154.61 L830.0,155.32 L832.0,156.03 L834.0,156.74 L835.9,157.46 L837.9,158.17 L839.9,158.89 L841.9,159.61 L843.9,160.34 L845.9,161.06 L847.9,161.79 L849.9,162.52 L851.9,163.25 L853.9,163.99 L855.9,164.72 L857.9,165.46 L859.9,166.20 L861.9,166.95 L863.9,167.69 L865.9,168.44 L867.9,169.19 L869.9,169.94 L871.9,170.69 L873.9,171.45 L875.9,172.20 L877.9,172.96 L879.9,173.73 L881.9,174.49 L883.9,175.26 L885.9,176.02 L887.9,176.80 L889.9,177.57 L891.9,178.34 L893.9,179.12 L895.9,179.90 L897.9,180.68 L899.9,181.46 L901.9,182.25 L903.9,183.04 L905.9,183.83 L907.9,184.62 L909.9,185.42 L911.9,186.21 L913.9,187.01 L915.9,187.82 L917.9,188.62 L919.9,189.43 L921.9,190.24 L923.9,191.05 L925.9,191.86 L927.9,192.68 L929.9,193.49 L931.9,194.31 L933.9,195.14 L935.9,195.96 L937.9,196.79 L939.9,197.62 L941.9,198.45 L943.9,199.28 L945.9,200.12 L947.8,200.96 L949.8,201.80 L951.8,202.64 L953.8,203.48 L955.8,204.32 L957.8,205.17 L959.8,206.02 L961.8,206.87 L963.8,207.72 L965.8,208.58 L967.8,209.44 L969.8,210.30 L971.8,211.16 L973.8,212.03 L975.8,212.90 L977.8,213.77 L979.8,214.64 L981.8,215.52 L983.8,216.40 L985.8,217.29 L987.8,218.17 L989.8,219.07 L991.8,219.96 L993.8,220.86 L995.8,221.76 L997.8,222.67 L999.8,223.58 L1001.8,224.49 L1003.8,225.41 L1005.8,226.34 L1007.8,227.26 L1009.8,228.19 L1011.8,229.13 L1013.8,230.07 L1015.8,231.01 L1017.8,231.95 L1019.8,232.90 L1021.8,233.86 L1023.8,234.82 L1025.8,235.78 L1027.8,236.74 L1029.8,237.71 L1031.8,238.68 L1033.8,239.66 L1035.8,240.64 L1037.8,241.62 L1039.8,242.61 L1041.8,243.60 L1043.8,244.60 L1045.8,245.59 L1047.8,246.60 L1049.8,247.60 L1051.8,248.61 L1053.8,249.63 L1055.8,250.64 L1057.7,251.67 L1059.7,252.69 L1061.7,253.72 L1063.7,254.75 L1065.7,255.78 L1067.7,256.81 L1069.7,257.85 L1071.7,258.89 L1073.7,259.94 L1075.7,260.99 L1077.7,262.05 L1079.7,263.11 L1081.7,264.17 L1083.7,265.25 L1085.7,266.32 L1087.7,267.41 L1089.7,268.50 L1091.7,269.60 L1093.7,270.70 L1095.7,271.81 L1097.7,272.93 L1099.7,274.06 L1101.7,275.20 L1103.7,276.34 L1105.7,277.49 L1107.7,278.66 L1109.7,279.83 L1111.7,281.01 L1113.7,282.20 L1115.7,283.39 L1117.7,284.60 L1119.7,285.82 L1121.7,287.04 L1123.7,288.27 L1125.7,289.51 L1127.7,290.76 L1129.7,292.02 L1131.7,293.28 L1133.7,294.55 L1135.7,295.83 L1137.7,297.11 L1139.7,298.40 L1141.7,299.69 L1143.7,300.99 L1145.7,302.30 L1147.7,303.61 L1149.7,304.93 L1151.7,306.25 L1153.7,307.57 L1155.7,308.90 L1157.7,310.23 L1159.7,311.57 L1161.7,312.91 L1163.7,314.26 L1165.7,315.60 L1167.7,316.95 L1169.6,318.31 L1171.6,319.68 L1173.6,321.06 L1175.6,322.46 L1177.6,323.87 L1179.6,325.29 L1181.6,326.72 L1183.6,328.09 L1185.6,329.46 L1187.6,330.85 L1189.6,332.26 L1191.6,333.69 L1193.6,335.14 L1195.6,336.62 L1197.6,338.12 L1199.6,339.64 L1201.6,341.19 L1203.6,342.77 L1205.6,344.39 L1207.6,346.03 L1209.6,347.69 L1211.6,349.36 L1213.6,351.09 L1215.6,352.77 L1217.6,354.31 L1219.6,355.51 L1221.6,356.23 L1223.6,356.56"/>
<path d="M336.4,34.50 L338.4,34.71 L340.4,34.93 L342.4,35.15 L344.4,35.37 L346.4,35.60 L348.4,35.83 L350.4,36.06 L352.4,36.30 L354.4,36.54 L356.4,36.78 L358.4,37.03 L360.4,37.28 L362.4,37.53 L364.4,37.79 L366.4,38.05 L368.4,38.31 L370.4,38.58 L372.4,38.84 L374.4,39.12 L376.4,39.39 L378.4,39.67 L380.4,39.94 L382.4,40.22 L384.4,40.51 L386.4,40.79 L388.4,41.08 L390.4,41.37 L392.3,41.67 L394.3,41.97 L396.3,42.27 L398.3,42.58 L400.3,42.89 L402.3,43.21 L404.3,43.53 L406.3,43.85 L408.3,44.18 L410.3,44.52 L412.3,44.86 L414.3,45.20 L416.3,45.54 L418.3,45.89 L420.3,46.24 L422.3,46.59 L424.3,46.95 L426.3,47.31 L428.3,47.67 L430.3,48.03 L432.3,48.40 L434.3,48.77 L436.3,49.13 L438.3,49.51 L440.3,49.88 L442.3,50.25 L444.3,50.62 L446.3,51.00 L448.3,51.37 L450.3,51.75 L452.3,52.13 L454.3,52.52 L456.3,52.91 L458.3,53.30 L460.3,53.69 L462.3,54.09 L464.3,54.49 L466.3,54.89 L468.3,55.30 L470.3,55.71 L472.3,56.11 L474.3,56.53 L476.3,56.94 L478.3,57.36 L480.3,57.77 L482.3,58.19 L484.3,58.62 L486.3,59.04 L488.3,59.46 L490.3,59.89 L492.3,60.32 L494.3,60.74 L496.3,61.17 L498.3,61.60 L500.3,62.04 L502.3,62.47 L504.2,62.90 L506.2,63.34 L508.2,63.77 L510.2,64.21 L512.2,64.65 L514.2,65.10 L516.2,65.54 L518.2,65.99 L520.2,66.44 L522.2,66.89 L524.2,67.34 L526.2,67.79 L528.2,68.25 L530.2,68.71 L532.2,69.16 L534.2,69.62 L536.2,70.09 L538.2,70.55 L540.2,71.02 L542.2,71.48 L544.2,71.95 L546.2,72.42 L548.2,72.89 L550.2,73.36 L552.2,73.84 L554.2,74.31 L556.2,74.79 L558.2,75.26 L560.2,75.74 L562.2,76.22 L564.2,76.71 L566.2,77.19 L568.2,77.68 L570.2,78.16 L572.2,78.65 L574.2,79.14 L576.2,79.64 L578.2,80.13 L580.2,80.63 L582.2,81.12 L584.2,81.62 L586.2,82.12 L588.2,82.62 L590.2,83.13 L592.2,83.63 L594.2,84.14 L596.2,84.65 L598.2,85.16 L600.2,85.67 L602.2,86.18 L604.2,86.69 L606.2,87.21 L608.2,87.73 L610.2,88.24 L612.2,88.76 L614.1,89.28 L616.1,89.80 L618.1,90.33 L620.1,90.85 L622.1,91.38 L624.1,91.90 L626.1,92.43 L628.1,92.97 L630.1,93.50 L632.1,94.03 L634.1,94.57 L636.1,95.10 L638.1,95.64 L640.1,96.18 L642.1,96.73 L644.1,97.27 L646.1,97.81 L648.1,98.36 L650.1,98.91 L652.1,99.46 L654.1,100.01 L656.1,100.56 L658.1,101.11 L660.1,101.67 L662.1,102.23 L664.1,102.78 L666.1,103.34 L668.1,103.91 L670.1,104.47 L672.1,105.03 L674.1,105.60 L676.1,106.16 L678.1,106.73 L680.1,107.30 L682.1,107.87 L684.1,108.45 L686.1,109.02 L688.1,109.60 L690.1,110.17 L692.1,110.75 L694.1,111.33 L696.1,111.91 L698.1,112.50 L700.1,113.08 L702.1,113.67 L704.1,114.26 L706.1,114.85 L708.1,115.45 L710.1,116.04 L712.1,116.64 L714.1,117.24 L716.1,117.84 L718.1,118.44 L720.1,119.05 L722.1,119.66 L724.1,120.27 L726.0,120.88 L728.0,121.49 L730.0,122.11 L732.0,122.73 L734.0,123.35 L736.0,123.98 L738.0,124.60 L740.0,125.23 L742.0,125.86 L744.0,126.50 L746.0,127.13 L748.0,127.77 L750.0,128.41 L752.0,129.05 L754.0,129.69 L756.0,130.34 L758.0,130.98 L760.0,131.63 L762.0,132.28 L764.0,132.93 L766.0,133.59 L768.0,134.24 L770.0,134.90 L772.0,135.56 L774.0,136.22 L776.0,136.88 L778.0,137.54 L780.0,138.20 L782.0,138.86 L784.0,139.53 L786.0,140.20 L788.0,140.87 L790.0,141.54 L792.0,142.21 L794.0,142.88 L796.0,143.56 L798.0,144.23 L800.0,144.91 L802.0,145.59 L804.0,146.28 L806.0,146.96 L808.0,147.65 L810.0,148.33 L812.0,149.02 L814.0,149.72 L816.0,150.41 L818.0,151.10 L820.0,151.80 L822.0,152.50 L824.0,153.20 L826.0,153.91 L828.0,154.61 L830.0,155.32 L832.0,156.03 L834.0,156.74 L835.9,157.46 L837.9,158.17 L839.9,158.89 L841.9,159.61 L843.9,160.34 L845.9,161.06 L847.9,161.79 L849.9,162.52 L851.9,163.25 L853.9,163.99 L855.9,164.72 L857.9,165.46 L859.9,166.20 L861.9,166.95 L863.9,167.69 L865.9,168.44 L867.9,169.19 L869.9,169.94 L871.9,170.69 L873.9,171.45 L875.9,172.20 L877.9,172.96 L879.9,173.73 L881.9,174.49 L883.9,175.26 L885.9,176.02 L887.9,176.80 L889.9,177.57 L891.9,178.34 L893.9,179.12 L895.9,179.90 L897.9,180.68 L899.9,181.46 L901.9,182.25 L903.9,183.04 L905.9,183.83 L907.9,184.62 L909.9,185.42 L911.9,186.21 L913.9,187.01 L915.9,187.82 L917.9,188.62 L919.9,189.43 L921.9,190.24 L923.9,191.05 L925.9,191.86 L927.9,192.68 L929.9,193.49 L931.9,194.31 L933.9,195.14 L935.9,195.96 L937.9,196.79 L939.9,197.62 L941.9,198.45 L943.9,199.28 L945.9,200.12 L947.8,200.96 L949.8,201.80 L951.8,202.64 L953.8,203.48 L955.8,204.32 L957.8,205.17 L959.8,206.02 L961.8,206.87 L963.8,207.72 L965.8,208.58 L967.8,209.44 L969.8,210.30 L971.8,211.16 L973.8,212.03 L975.8,212.90 L977.8,213.77 L979.8,214.64 L981.8,215.52 L983.8,216.40 L985.8,217.29 L987.8,218.17 L989.8,219.07 L991.8,219.96 L993.8,220.86 L995.8,221.76 L997.8,222.67 L999.8,223.58 L1001.8,224.49 L1003.8,225.41 L1005.8,226.34 L1007.8,227.26 L1009.8,228.19 L1011.8,229.13 L1013.8,230.07 L1015.8,231.01 L1017.8,231.95 L1019.8,232.90 L1021.8,233.86 L1023.8,234.81 L1025.8,235.78 L1027.8,236.74 L1029.8,237.71 L1031.8,238.68 L1033.8,239.66 L1035.8,240.64 L1037.8,241.62 L1039.8,242.61 L1041.8,243.60 L1043.8,244.59 L1045.8,245.59 L1047.8,246.60 L1049.8,247.60 L1051.8,248.61 L1053.8,249.62 L1055.8,250.64 L1057.7,251.66 L1059.7,252.69 L1061.7,253.71 L1063.7,254.74 L1065.7,255.77 L1067.7,256.81 L1069.7,257.85 L1071.7,258.89 L1073.7,259.94 L1075.7,260.99 L1077.7,262.04 L1079.7,263.10 L1081.7,264.17 L1083.7,265.24 L1085.7,266.32 L1087.7,267.40 L1089.7,268.49 L1091.7,269.59 L1093.7,270.69 L1095.7,271.81 L1097.7,272.93 L1099.7,274.05 L1101.7,275.19 L1103.7,276.33 L1105.7,277.48 L1107.7,278.65 L1109.7,279.82 L1111.7,281.00 L1113.7,282.18 L1115.7,283.38 L1117.7,284.59 L1119.7,285.81 L1121.7,287.03 L1123.7,288.26 L1125.7,289.50 L1127.7,290.75 L1129.7,292.01 L1131.7,293.27 L1133.7,294.54 L1135.7,295.82 L1137.7,297.10 L1139.7,298.39 L1141.7,299.68 L1143.7,300.98 L1145.7,302.29 L1147.7,303.60 L1149.7,304.92 L1151.7,306.24 L1153.7,307.57 L1155.7,308.90 L1157.7,310.23 L1159.7,311.57 L1161.7,312.91 L1163.7,314.25 L1165.7,315.60 L1167.7,316.95 L1169.6,318.31 L1171.6,319.68 L1173.6,321.06 L1175.6,322.46 L1177.6,323.87 L1179.6,325.29 L1181.6,326.73 L1183.6,328.12 L1185.6,329.50 L1187.6,330.88 L1189.6,332.29 L1191.6,333.72 L1193.6,335.17 L1195.6,336.65 L1197.6,338.14 L1199.6,339.66 L1201.6,341.21 L1203.6,342.79 L1205.6,344.41 L1207.6,346.05 L1209.6,347.71 L1211.6,349.39 L1213.6,351.10 L1215.6,352.81 L1217.6,354.42 L1219.6,355.75 L1221.6,356.62 L1223.6,357.04"/>
<path d="M336.4,34.50 L338.4,34.71 L340.4,34.93 L342.4,35.15 L344.4,35.37 L346.4,35.60 L348.4,35.83 L350.4,36.06 L352.4,36.30 L354.4,36.54 L356.4,36.78 L358.4,37.03 L360.4,37.28 L362.4,37.53 L364.4,37.79 L366.4,38.05 L368.4,38.31 L370.4,38.58 L372.4,38.84 L374.4,39.12 L376.4,39.39 L378.4,39.67 L380.4,39.94 L382.4,40.22 L384.4,40.51 L386.4,40.79 L388.4,41.08 L390.4,41.37 L392.3,41.67 L394.3,41.97 L396.3,42.27 L398.3,42.58 L400.3,42.89 L402.3,43.21 L404.3,43.53 L406.3,43.85 L408.3,44.18 L410.3,44.52 L412.3,44.86 L414.3,45.20 L416.3,45.54 L418.3,45.89 L420.3,46.24 L422.3,46.59 L424.3,46.95 L426.3,47.31 L428.3,47.67 L430.3,48.03 L432.3,48.40 L434.3,48.77 L436.3,49.13 L438.3,49.51 L440.3,49.88 L442.3,50.25 L444.3,50.62 L446.3,51.00 L448.3,51.37 L450.3,51.75 L452.3,52.13 L454.3,52.52 L456.3,52.91 L458.3,53.30 L460.3,53.69 L462.3,54.09 L464.3,54.49 L466.3,54.89 L468.3,55.30 L470.3,55.71 L472.3,56.11 L474.3,56.53 L476.3,56.94 L478.3,57.36 L480.3,57.77 L482.3,58.19 L484.3,58.62 L486.3,59.04 L488.3,59.46 L490.3,59.89 L492.3,60.32 L494.3,60.74 L496.3,61.17 L498.3,61.60 L500.3,62.04 L502.3,62.47 L504.2,62.90 L506.2,63.34 L508.2,63.77 L510.2,64.21 L512.2,64.65 L514.2,65.10 L516.2,65.54 L518.2,65.99 L520.2,66.44 L522.2,66.89 L524.2,67.34 L526.2,67.79 L528.2,68.25 L530.2,68.71 L532.2,69.16 L534.2,69.62 L536.2,70.09 L538.2,70.55 L540.2,71.02 L542.2,71.48 L544.2,71.95 L546.2,72.42 L548.2,72.89 L550.2,73.36 L552.2,73.84 L554.2,74.31 L556.2,74.79 L558.2,75.26 L560.2,75.74 L562.2,76.22 L564.2,76.71 L566.2,77.19 L568.2,77.68 L570.2,78.16 L572.2,78.65 L574.2,79.14 L576.2,79.64 L578.2,80.13 L580.2,80.63 L582.2,81.12 L584.2,81.62 L586.2,82.12 L588.2,82.62 L590.2,83.13 L592.2,83.63 L594.2,84.14 L596.2,84.65 L598.2,85.16 L600.2,85.67 L602.2,86.18 L604.2,86.69 L606.2,87.21 L608.2,87.73 L610.2,88.24 L612.2,88.76 L614.1,89.28 L616.1,89.80 L618.1,90.33 L620.1,90.85 L622.1,91.38 L624.1,91.90 L626.1,92.43 L628.1,92.97 L630.1,93.50 L632.1,94.03 L634.1,94.57 L636.1,95.10 L638.1,95.64 L640.1,96.18 L642.1,96.73 L644.1,97.27 L646.1,97.81 L648.1,98.36 L650.1,98.91 L652.1,99.46 L654.1,100.01 L656.1,100.56 L658.1,101.11 L660.1,101.67 L662.1,102.23 L664.1,102.78 L666.1,103.34 L668.1,103.91 L670.1,104.47 L672.1,105.03 L674.1,105.60 L676.1,106.16 L678.1,106.73 L680.1,107.30 L682.1,107.87 L684.1,108.45 L686.1,109.02 L688.1,109.60 L690.1,110.17 L692.1,110.75 L694.1,111.33 L696.1,111.91 L698.1,112.50 L700.1,113.08 L702.1,113.67 L704.1,114.26 L706.1,114.85 L708.1,115.45 L710.1,116.04 L712.1,116.64 L714.1,117.24 L716.1,117.84 L718.1,118.44 L720.1,119.05 L722.1,119.66 L724.1,120.27 L726.0,120.88 L728.0,121.49 L730.0,122.11 L732.0,122.73 L734.0,123.35 L736.0,123.98 L738.0,124.60 L740.0,125.23 L742.0,125.86 L744.0,126.50 L746.0,127.13 L748.0,127.77 L750.0,128.41 L752.0,129.05 L754.0,129.69 L756.0,130.34 L758.0,130.98 L760.0,131.63 L762.0,132.28 L764.0,132.93 L766.0,133.59 L768.0,134.24 L770.0,134.90 L772.0,135.56 L774.0,136.22 L776.0,136.88 L778.0,137.54 L780.0,138.20 L782.0,138.86 L784.0,139.53 L786.0,140.20 L788.0,140.87 L790.0,141.54 L792.0,142.21 L794.0,142.88 L796.0,143.56 L798.0,144.23 L800.0,144.91 L802.0,145.59 L804.0,146.28 L806.0,146.96 L808.0,147.65 L810.0,148.33 L812.0,149.02 L814.0,149.72 L816.0,150.41 L818.0,151.10 L820.0,151.80 L822.0,152.50 L824.0,153.20 L826.0,153.91 L828.0,154.61 L830.0,155.32 L832.0,156.03 L834.0,156.74 L835.9,157.46 L837.9,158.17 L839.9,158.89 L841.9,159.61 L843.9,160.34 L845.9,161.06 L847.9,161.79 L849.9,162.52 L851.9,163.25 L853.9,163.99 L855.9,164.72 L857.9,165.46 L859.9,166.20 L861.9,166.95 L863.9,167.69 L865.9,168.44 L867.9,169.19 L869.9,169.94 L871.9,170.69 L873.9,171.45 L875.9,172.20 L877.9,172.96 L879.9,173.73 L881.9,174.49 L883.9,175.26 L885.9,176.02 L887.9,176.80 L889.9,177.57 L891.9,178.34 L893.9,179.12 L895.9,179.90 L897.9,180.68 L899.9,181.46 L901.9,182.25 L903.9,183.04 L905.9,183.83 L907.9,184.62 L909.9,185.42 L911.9,186.21 L913.9,187.01 L915.9,187.82 L917.9,188.62 L919.9,189.43 L921.9,190.24 L923.9,191.05 L925.9,191.86 L927.9,192.68 L929.9,193.49 L931.9,194.31 L933.9,195.14 L935.9,195.96 L937.9,196.79 L939.9,197.62 L941.9,198.45 L943.9,199.28 L945.9,200.12 L947.8,200.96 L949.8,201.80 L951.8,202.64 L953.8,203.48 L955.8,204.32 L957.8,205.17 L959.8,206.02 L961.8,206.87 L963.8,207.72 L965.8,208.58 L967.8,209.44 L969.8,210.30 L971.8,211.16 L973.8,212.03 L975.8,212.90 L977.8,213.77 L979.8,214.64 L981.8,215.52 L983.8,216.40 L985.8,217.29 L987.8,218.17 L989.8,219.07 L991.8,219.96 L993.8,220.86 L995.8,221.76 L997.8,222.67 L999.8,223.58 L1001.8,224.49 L1003.8,225.41 L1005.8,226.34 L1007.8,227.26 L1009.8,228.19 L1011.8,229.13 L1013.8,230.07 L1015.8,231.01 L1017.8,231.95 L1019.8,232.90 L1021.8,233.86 L1023.8,234.81 L1025.8,235.78 L1027.8,236.74 L1029.8,237.71 L1031.8,238.68 L1033.8,239.66 L1035.8,240.64 L1037.8,241.62 L1039.8,242.61 L1041.8,243.60 L1043.8,244.59 L1045.8,245.59 L1047.8,246.59 L1049.8,247.60 L1051.8,248.61 L1053.8,249.62 L1055.8,250.64 L1057.7,251.66 L1059.7,252.69 L1061.7,253.71 L1063.7,254.74 L1065.7,255.77 L1067.7,256.81 L1069.7,257.85 L1071.7,258.89 L1073.7,259.93 L1075.7,260.98 L1077.7,262.04 L1079.7,263.10 L1081.7,264.16 L1083.7,265.24 L1085.7,266.31 L1087.7,267.40 L1089.7,268.49 L1091.7,269.58 L1093.7,270.69 L1095.7,271.80 L1097.7,272.92 L1099.7,274.05 L1101.7,275.18 L1103.7,276.32 L1105.7,277.48 L1107.7,278.64 L1109.7,279.81 L1111.7,280.99 L1113.7,282.18 L1115.7,283.37 L1117.7,284.58 L1119.7,285.80 L1121.7,287.02 L1123.7,288.25 L1125.7,289.49 L1127.7,290.74 L1129.7,292.00 L1131.7,293.26 L1133.7,294.53 L1135.7,295.81 L1137.7,297.09 L1139.7,298.38 L1141.7,299.67 L1143.7,300.98 L1145.7,302.28 L1147.7,303.59 L1149.7,304.91 L1151.7,306.23 L1153.7,307.56 L1155.7,308.89 L1157.7,310.22 L1159.7,311.56 L1161.7,312.91 L1163.7,314.25 L1165.7,315.60 L1167.7,316.95 L1169.6,318.31 L1171.6,319.68 L1173.6,321.06 L1175.6,322.46 L1177.6,323.87 L1179.6,325.29 L1181.6,326.73 L1183.6,328.15 L1185.6,329.52 L1187.6,330.91 L1189.6,332.32 L1191.6,333.75 L1193.6,335.20 L1195.6,336.67 L1197.6,338.17 L1199.6,339.69 L1201.6,341.23 L1203.6,342.81 L1205.6,344.43 L1207.6,346.07 L1209.6,347.73 L1211.6,349.41 L1213.6,351.11 L1215.6,352.84 L1217.6,354.49 L1219.6,355.91 L1221.6,356.91 L1223.6,357.44"/>
<path d="M336.4,34.50 L338.4,34.71 L340.4,34.93 L342.4,35.15 L344.4,35.37 L346.4,35.60 L348.4,35.83 L350.4,36.06 L352.4,36.30 L354.4,36.54 L356.4,36.78 L358.4,37.03 L360.4,37.28 L362.4,37.53 L364.4,37.79 L366.4,38.05 L368.4,38.31 L370.4,38.58 L372.4,38.84 L374.4,39.12 L376.4,39.39 L378.4,39.67 L380.4,39.94 L382.4,40.22 L384.4,40.51 L386.4,40.79 L388.4,41.08 L390.4,41.37 L392.3,41.67 L394.3,41.97 L396.3,42.27 L398.3,42.58 L400.3,42.89 L402.3,43.21 L404.3,43.53 L406.3,43.85 L408.3,44.18 L410.3,44.52 L412.3,44.86 L414.3,45.20 L416.3,45.54 L418.3,45.89 L420.3,46.24 L422.3,46.59 L424.3,46.95 L426.3,47.31 L428.3,47.67 L430.3,48.03 L432.3,48.40 L434.3,48.77 L436.3,49.13 L438.3,49.51 L440.3,49.88 L442.3,50.25 L444.3,50.62 L446.3,51.00 L448.3,51.37 L450.3,51.75 L452.3,52.13 L454.3,52.52 L456.3,52.91 L458.3,53.30 L460.3,53.69 L462.3,54.09 L464.3,54.49 L466.3,54.89 L468.3,55.30 L470.3,55.71 L472.3,56.11 L474.3,56.53 L476.3,56.94 L478.3,57.36 L480.3,57.77 L482.3,58.19 L484.3,58.62 L486.3,59.04 L488.3,59.46 L490.3,59.89 L492.3,60.32 L494.3,60.74 L496.3,61.17 L498.3,61.60 L500.3,62.04 L502.3,62.47 L504.2,62.90 L506.2,63.34 L508.2,63.77 L510.2,64.21 L512.2,64.65 L514.2,65.10 L516.2,65.54 L518.2,65.99 L520.2,66.44 L522.2,66.89 L524.2,67.34 L526.2,67.79 L528.2,68.25 L530.2,68.71 L532.2,69.16 L534.2,69.62 L536.2,70.09 L538.2,70.55 L540.2,71.02 L542.2,71.48 L544.2,71.95 L546.2,72.42 L548.2,72.89 L550.2,73.36 L552.2,73.84 L554.2,74.31 L556.2,74.79 L558.2,75.26 L560.2,75.74 L562.2,76.22 L564.2,76.71 L566.2,77.19 L568.2,77.68 L570.2,78.16 L572.2,78.65 L574.2,79.14 L576.2,79.64 L578.2,80.13 L580.2,80.63 L582.2,81.12 L584.2,81.62 L586.2,82.12 L588.2,82.62 L590.2,83.13 L592.2,83.63 L594.2,84.14 L596.2,84.65 L598.2,85.16 L600.2,85.67 L602.2,86.18 L604.2,86.69 L606.2,87.21 L608.2,87.73 L610.2,88.24 L612.2,88.76 L614.1,89.28 L616.1,89.80 L618.1,90.33 L620.1,90.85 L622.1,91.38 L624.1,91.90 L626.1,92.43 L628.1,92.97 L630.1,93.50 L632.1,94.03 L634.1,94.57 L636.1,95.10 L638.1,95.64 L640.1,96.18 L642.1,96.73 L644.1,97.27 L646.1,97.81 L648.1,98.36 L650.1,98.91 L652.1,99.46 L654.1,100.01 L656.1,100.56 L658.1,101.11 L660.1,101.67 L662.1,102.23 L664.1,102.78 L666.1,103.34 L668.1,103.91 L670.1,104.47 L672.1,105.03 L674.1,105.60 L676.1,106.16 L678.1,106.73 L680.1,107.30 L682.1,107.87 L684.1,108.45 L686.1,109.02 L688.1,109.60 L690.1,110.17 L692.1,110.75 L694.1,111.33 L696.1,111.91 L698.1,112.50 L700.1,113.08 L702.1,113.67 L704.1,114.26 L706.1,114.85 L708.1,115.45 L710.1,116.04 L712.1,116.64 L714.1,117.24 L716.1,117.84 L718.1,118.44 L720.1,119.05 L722.1,119.66 L724.1,120.27 L726.0,120.88 L728.0,121.49 L730.0,122.11 L732.0,122.73 L734.0,123.35 L736.0,123.98 L738.0,124.60 L740.0,125.23 L742.0,125.86 L744.0,126.50 L746.0,127.13 L748.0,127.77 L750.0,128.41 L752.0,129.05 L754.0,129.69 L756.0,130.34 L758.0,130.98 L760.0,131.63 L762.0,132.28 L764.0,132.93 L766.0,133.59 L768.0,134.24 L770.0,134.90 L772.0,135.56 L774.0,136.22 L776.0,136.88 L778.0,137.54 L780.0,138.20 L782.0,138.86 L784.0,139.53 L786.0,140.20 L788.0,140.87 L790.0,141.54 L792.0,142.21 L794.0,142.88 L796.0,143.56 L798.0,144.23 L800.0,144.91 L802.0,145.59 L804.0,146.28 L806.0,146.96 L808.0,147.65 L810.0,148.33 L812.0,149.02 L814.0,149.72 L816.0,150.41 L818.0,151.10 L820.0,151.80 L822.0,152.50 L824.0,153.20 L826.0,153.91 L828.0,154.61 L830.0,155.32 L832.0,156.03 L834.0,156.74 L835.9,157.46 L837.9,158.17 L839.9,158.89 L841.9,159.61 L843.9,160.34 L845.9,161.06 L847.9,161.79 L849.9,162.52 L851.9,163.25 L853.9,163.99 L855.9,164.72 L857.9,165.46 L859.9,166.20 L861.9,166.95 L863.9,167.69 L865.9,168.44 L867.9,169.19 L869.9,169.94 L871.9,170.69 L873.9,171.45 L875.9,172.20 L877.9,172.96 L879.9,173.73 L881.9,174.49 L883.9,175.26 L885.9,176.02 L887.9,176.80 L889.9,177.57 L891.9,178.34 L893.9,179.12 L895.9,179.90 L897.9,180.68 L899.9,181.46 L901.9,182.25 L903.9,183.04 L905.9,183.83 L907.9,184.62 L909.9,185.42 L911.9,186.21 L913.9,187.01 L915.9,187.82 L917.9,188.62 L919.9,189.43 L921.9,190.24 L923.9,191.05 L925.9,191.86 L927.9,192.68 L929.9,193.49 L931.9,194.31 L933.9,195.14 L935.9,195.96 L937.9,196.79 L939.9,197.62 L941.9,198.45 L943.9,199.28 L945.9,200.12 L947.8,200.96 L949.8,201.80 L951.8,202.64 L953.8,203.48 L955.8,204.32 L957.8,205.17 L959.8,206.02 L961.8,206.87 L963.8,207.72 L965.8,208.58 L967.8,209.44 L969.8,210.30 L971.8,211.16 L973.8,212.03 L975.8,212.90 L977.8,213.77 L979.8,214.64 L981.8,215.52 L983.8,216.40 L985.8,217.29 L987.8,218.17 L989.8,219.07 L991.8,219.96 L993.8,220.86 L995.8,221.76 L997.8,222.67 L999.8,223.58 L1001.8,224.49 L1003.8,225.41 L1005.8,226.34 L1007.8,227.26 L1009.8,228.19 L1011.8,229.13 L1013.8,230.07 L1015.8,231.01 L1017.8,231.95 L1019.8,232.90 L1021.8,233.86 L1023.8,234.81 L1025.8,235.78 L1027.8,236.74 L1029.8,237.71 L1031.8,238.68 L1033.8,239.66 L1035.8,240.64 L1037.8,241.62 L1039.8,242.61 L1041.8,243.60 L1043.8,244.59 L1045.8,245.59 L1047.8,246.59 L1049.8,247.60 L1051.8,248.61 L1053.8,249.62 L1055.8,250.64 L1057.7,251.66 L1059.7,252.68 L1061.7,253.71 L1063.7,254.74 L1065.7,255.77 L1067.7,256.80 L1069.7,257.84 L1071.7,258.88 L1073.7,259.93 L1075.7,260.98 L1077.7,262.04 L1079.7,263.10 L1081.7,264.16 L1083.7,265.23 L1085.7,266.31 L1087.7,267.39 L1089.7,268.48 L1091.7,269.58 L1093.7,270.68 L1095.7,271.79 L1097.7,272.91 L1099.7,274.04 L1101.7,275.17 L1103.7,276.32 L1105.7,277.47 L1107.7,278.63 L1109.7,279.80 L1111.7,280.98 L1113.7,282.17 L1115.7,283.37 L1117.7,284.57 L1119.7,285.79 L1121.7,287.01 L1123.7,288.24 L1125.7,289.49 L1127.7,290.73 L1129.7,291.99 L1131.7,293.25 L1133.7,294.52 L1135.7,295.80 L1137.7,297.08 L1139.7,298.37 L1141.7,299.67 L1143.7,300.97 L1145.7,302.28 L1147.7,303.59 L1149.7,304.91 L1151.7,306.23 L1153.7,307.55 L1155.7,308.89 L1157.7,310.22 L1159.7,311.56 L1161.7,312.90 L1163.7,314.25 L1165.7,315.60 L1167.7,316.95 L1169.6,318.31 L1171.6,319.68 L1173.6,321.06 L1175.6,322.46 L1177.6,323.87 L1179.6,325.30 L1181.6,326.73 L1183.6,328.17 L1185.6,329.54 L1187.6,330.93 L1189.6,332.34 L1191.6,333.77 L1193.6,335.22 L1195.6,336.69 L1197.6,338.19 L1199.6,339.71 L1201.6,341.25 L1203.6,342.83 L1205.6,344.44 L1207.6,346.08 L1209.6,347.74 L1211.6,349.42 L1213.6,351.12 L1215.6,352.85 L1217.6,354.53 L1219.6,356.03 L1221.6,357.13 L1223.6,357.75"/>
<path d="M336.4,34.50 L338.4,34.71 L340.4,34.93 L342.4,35.15 L344.4,35.37 L346.4,35.60 L348.4,35.83 L350.4,36.06 L352.4,36.30 L354.4,36.54 L356.4,36.78 L358.4,37.03 L360.4,37.28 L362.4,37.53 L364.4,37.79 L366.4,38.05 L368.4,38.31 L370.4,38.58 L372.4,38.84 L374.4,39.12 L376.4,39.39 L378.4,39.67 L380.4,39.94 L382.4,40.22 L384.4,40.51 L386.4,40.79 L388.4,41.08 L390.4,41.37 L392.3,41.67 L394.3,41.97 L396.3,42.27 L398.3,42.58 L400.3,42.89 L402.3,43.21 L404.3,43.53 L406.3,43.85 L408.3,44.18 L410.3,44.52 L412.3,44.86 L414.3,45.20 L416.3,45.54 L418.3,45.89 L420.3,46.24 L422.3,46.59 L424.3,46.95 L426.3,47.31 L428.3,47.67 L430.3,48.03 L432.3,48.40 L434.3,48.77 L436.3,49.13 L438.3,49.51 L440.3,49.88 L442.3,50.25 L444.3,50.62 L446.3,51.00 L448.3,51.37 L450.3,51.75 L452.3,52.13 L454.3,52.52 L456.3,52.91 L458.3,53.30 L460.3,53.69 L462.3,54.09 L464.3,54.49 L466.3,54.89 L468.3,55.30 L470.3,55.71 L472.3,56.11 L474.3,56.53 L476.3,56.94 L478.3,57.36 L480.3,57.77 L482.3,58.19 L484.3,58.62 L486.3,59.04 L488.3,59.46 L490.3,59.89 L492.3,60.32 L494.3,60.74 L496.3,61.17 L498.3,61.60 L500.3,62.04 L502.3,62.47 L504.2,62.90 L506.2,63.34 L508.2,63.77 L510.2,64.21 L512.2,64.65 L514.2,65.10 L516.2,65.54 L518.2,65.99 L520.2,66.44 L522.2,66.89 L524.2,67.34 L526.2,67.79 L528.2,68.25 L530.2,68.71 L532.2,69.16 L534.2,69.62 L536.2,70.09 L538.2,70.55 L540.2,71.02 L542.2,71.48 L544.2,71.95 L546.2,72.42 L548.2,72.89 L550.2,73.36 L552.2,73.84 L554.2,74.31 L556.2,74.79 L558.2,75.26 L560.2,75.74 L562.2,76.22 L564.2,76.71 L566.2,77.19 L568.2,77.68 L570.2,78.16 L572.2,78.65 L574.2,79.14 L576.2,79.64 L578.2,80.13 L580.2,80.63 L582.2,81.12 L584.2,81.62 L586.2,82.12 L588.2,82.62 L590.2,83.13 L592.2,83.63 L594.2,84.14 L596.2,84.65 L598.2,85.16 L600.2,85.67 L602.2,86.18 L604.2,86.69 L606.2,87.21 L608.2,87.73 L610.2,88.24 L612.2,88.76 L614.1,89.28 L616.1,89.80 L618.1,90.33 L620.1,90.85 L622.1,91.38 L624.1,91.90 L626.1,92.43 L628.1,92.97 L630.1,93.50 L632.1,94.03 L634.1,94.57 L636.1,95.10 L638.1,95.64 L640.1,96.18 L642.1,96.73 L644.1,97.27 L646.1,97.81 L648.1,98.36 L650.1,98.91 L652.1,99.46 L654.1,100.01 L656.1,100.56 L658.1,101.11 L660.1,101.67 L662.1,102.23 L664.1,102.78 L666.1,103.34 L668.1,103.91 L670.1,104.47 L672.1,105.03 L674.1,105.60 L676.1,106.16 L678.1,106.73 L680.1,107.30 L682.1,107.87 L684.1,108.45 L686.1,109.02 L688.1,109.60 L690.1,110.17 L692.1,110.75 L694.1,111.33 L696.1,111.91 L698.1,112.50 L700.1,113.08 L702.1,113.67 L704.1,114.26 L706.1,114.85 L708.1,115.45 L710.1,116.04 L712.1,116.64 L714.1,117.24 L716.1,117.84 L718.1,118.44 L720.1,119.05 L722.1,119.66 L724.1,120.27 L726.0,120.88 L728.0,121.49 L730.0,122.11 L732.0,122.73 L734.0,123.35 L736.0,123.98 L738.0,124.60 L740.0,125.23 L742.0,125.86 L744.0,126.50 L746.0,127.13 L748.0,127.77 L750.0,128.41 L752.0,129.05 L754.0,129.69 L756.0,130.34 L758.0,130.98 L760.0,131.63 L762.0,132.28 L764.0,132.93 L766.0,133.59 L768.0,134.24 L770.0,134.90 L772.0,135.56 L774.0,136.22 L776.0,136.88 L778.0,137.54 L780.0,138.20 L782.0,138.86 L784.0,139.53 L786.0,140.20 L788.0,140.87 L790.0,141.54 L792.0,142.21 L794.0,142.88 L796.0,143.56 L798.0,144.23 L800.0,144.91 L802.0,145.59 L804.0,146.28 L806.0,146.96 L808.0,147.65 L810.0,148.33 L812.0,149.02 L814.0,149.72 L816.0,150.41 L818.0,151.10 L820.0,151.80 L822.0,152.50 L824.0,153.20 L826.0,153.91 L828.0,154.61 L830.0,155.32 L832.0,156.03 L834.0,156.74 L835.9,157.46 L837.9,158.17 L839.9,158.89 L841.9,159.61 L843.9,160.34 L845.9,161.06 L847.9,161.79 L849.9,162.52 L851.9,163.25 L853.9,163.99 L855.9,164.72 L857.9,165.46 L859.9,166.20 L861.9,166.95 L863.9,167.69 L865.9,168.44 L867.9,169.19 L869.9,169.94 L871.9,170.69 L873.9,171.45 L875.9,172.20 L877.9,172.96 L879.9,173.73 L881.9,174.49 L883.9,175.26 L885.9,176.02 L887.9,176.80 L889.9,177.57 L891.9,178.34 L893.9,179.12 L895.9,179.90 L897.9,180.68 L899.9,181.46 L901.9,182.25 L903.9,183.04 L905.9,183.83 L907.9,184.62 L909.9,185.42 L911.9,186.21 L913.9,187.01 L915.9,187.82 L917.9,188.62 L919.9,189.43 L921.9,190.24 L923.9,191.05 L925.9,191.86 L927.9,192.68 L929.9,193.49 L931.9,194.31 L933.9,195.14 L935.9,195.96 L937.9,196.79 L939.9,197.62 L941.9,198.45 L943.9,199.28 L945.9,200.12 L947.8,200.96 L949.8,201.80 L951.8,202.64 L953.8,203.48 L955.8,204.32 L957.8,205.17 L959.8,206.02 L961.8,206.87 L963.8,207.72 L965.8,208.58 L967.8,209.44 L969.8,210.30 L971.8,211.16 L973.8,212.03 L975.8,212.90 L977.8,213.77 L979.8,214.64 L981.8,215.52 L983.8,216.40 L985.8,217.29 L987.8,218.17 L989.8,219.07 L991.8,219.96 L993.8,220.86 L995.8,221.76 L997.8,222.67 L999.8,223.58 L1001.8,224.49 L1003.8,225.41 L1005.8,226.34 L1007.8,227.26 L1009.8,228.19 L1011.8,229.13 L1013.8,230.07 L1015.8,231.01 L1017.8,231.95 L1019.8,232.90 L1021.8,233.86 L1023.8,234.81 L1025.8,235.78 L1027.8,236.74 L1029.8,237.71 L1031.8,238.68 L1033.8,239.66 L1035.8,240.64 L1037.8,241.62 L1039.8,242.61 L1041.8,243.60 L1043.8,244.59 L1045.8,245.59 L1047.8,246.59 L1049.8,247.60 L1051.8,248.61 L1053.8,249.62 L1055.8,250.64 L1057.7,251.66 L1059.7,252.68 L1061.7,253.71 L1063.7,254.74 L1065.7,255.77 L1067.7,256.80 L1069.7,257.84 L1071.7,258.88 L1073.7,259.93 L1075.7,260.98 L1077.7,262.03 L1079.7,263.09 L1081.7,264.16 L1083.7,265.23 L1085.7,266.31 L1087.7,267.39 L1089.7,268.48 L1091.7,269.58 L1093.7,270.68 L1095.7,271.79 L1097.7,272.91 L1099.7,274.04 L1101.7,275.17 L1103.7,276.31 L1105.7,277.46 L1107.7,278.63 L1109.7,279.80 L1111.7,280.97 L1113.7,282.16 L1115.7,283.36 L1117.7,284.57 L1119.7,285.78 L1121.7,287.01 L1123.7,288.24 L1125.7,289.48 L1127.7,290.73 L1129.7,291.98 L1131.7,293.25 L1133.7,294.52 L1135.7,295.79 L1137.7,297.08 L1139.7,298.37 L1141.7,299.66 L1143.7,300.96 L1145.7,302.27 L1147.7,303.58 L1149.7,304.90 L1151.7,306.22 L1153.7,307.55 L1155.7,308.88 L1157.7,310.22 L1159.7,311.56 L1161.7,312.90 L1163.7,314.25 L1165.7,315.60 L1167.7,316.95 L1169.6,318.31 L1171.6,319.68 L1173.6,321.06 L1175.6,322.46 L1177.6,323.87 L1179.6,325.30 L1181.6,326.74 L1183.6,328.18 L1185.6,329.56 L1187.6,330.95 L1189.6,332.36 L1191.6,333.79 L1193.6,335.24 L1195.6,336.71 L1197.6,338.20 L1199.6,339.72 L1201.6,341.27 L1203.6,342.85 L1205.6,344.46 L1207.6,346.10 L1209.6,347.76 L1211.6,349.43 L1213.6,351.12 L1215.6,352.86 L1217.6,354.56 L1219.6,356.11 L1221.6,357.30 L1223.6,358.00"/>
<path d="M336.4,34.50 L338.4,34.71 L340.4,34.93 L342.4,35.15 L344.4,35.37 L346.4,35.60 L348.4,35.83 L350.4,36.06 L352.4,36.30 L354.4,36.54 L356.4,36.78 L358.4,37.03 L360.4,37.28 L362.4,37.53 L364.4,37.79 L366.4,38.05 L368.4,38.31 L370.4,38.58 L372.4,38.84 L374.4,39.12 L376.4,39.39 L378.4,39.67 L380.4,39.94 L382.4,40.22 L384.4,40.51 L386.4,40.79 L388.4,41.08 L390.4,41.37 L392.3,41.67 L394.3,41.97 L396.3,42.27 L398.3,42.58 L400.3,42.89 L402.3,43.21 L404.3,43.53 L406.3,43.85 L408.3,44.18 L410.3,44.52 L412.3,44.86 L414.3,45.20 L416.3,45.54 L418.3,45.89 L420.3,46.24 L422.3,46.59 L424.3,46.95 L426.3,47.31 L428.3,47.67 L430.3,48.03 L432.3,48.40 L434.3,48.77 L436.3,49.13 L438.3,49.51 L440.3,49.88 L442.3,50.25 L444.3,50.62 L446.3,51.00 L448.3,51.37 L450.3,51.75 L452.3,52.13 L454.3,52.52 L456.3,52.91 L458.3,53.30 L460.3,53.69 L462.3,54.09 L464.3,54.49 L466.3,54.89 L468.3,55.30 L470.3,55.71 L472.3,56.11 L474.3,56.53 L476.3,56.94 L478.3,57.36 L480.3,57.77 L482.3,58.19 L484.3,58.62 L486.3,59.04 L488.3,59.46 L490.3,59.89 L492.3,60.32 L494.3,60.74 L496.3,61.17 L498.3,61.60 L500.3,62.04 L502.3,62.47 L504.2,62.90 L506.2,63.34 L508.2,63.77 L510.2,64.21 L512.2,64.65 L514.2,65.10 L516.2,65.54 L518.2,65.99 L520.2,66.44 L522.2,66.89 L524.2,67.34 L526.2,67.79 L528.2,68.25 L530.2,68.71 L532.2,69.16 L534.2,69.62 L536.2,70.09 L538.2,70.55 L540.2,71.02 L542.2,71.48 L544.2,71.95 L546.2,72.42 L548.2,72.89 L550.2,73.36 L552.2,73.84 L554.2,74.31 L556.2,74.79 L558.2,75.26 L560.2,75.74 L562.2,76.22 L564.2,76.71 L566.2,77.19 L568.2,77.68 L570.2,78.16 L572.2,78.65 L574.2,79.14 L576.2,79.64 L578.2,80.13 L580.2,80.63 L582.2,81.12 L584.2,81.62 L586.2,82.12 L588.2,82.62 L590.2,83.13 L592.2,83.63 L594.2,84.14 L596.2,84.65 L598.2,85.16 L600.2,85.67 L602.2,86.18 L604.2,86.69 L606.2,87.21 L608.2,87.73 L610.2,88.24 L612.2,88.76 L614.1,89.28 L616.1,89.80 L618.1,90.33 L620.1,90.85 L622.1,91.38 L624.1,91.90 L626.1,92.43 L628.1,92.97 L630.1,93.50 L632.1,94.03 L634.1,94.57 L636.1,95.10 L638.1,95.64 L640.1,96.18 L642.1,96.73 L644.1,97.27 L646.1,97.81 L648.1,98.36 L650.1,98.91 L652.1,99.46 L654.1,100.01 L656.1,100.56 L658.1,101.11 L660.1,101.67 L662.1,102.23 L664.1,102.78 L666.1,103.34 L668.1,103.91 L670.1,104.47 L672.1,105.03 L674.1,105.60 L676.1,106.16 L678.1,106.73 L680.1,107.30 L682.1,107.87 L684.1,108.45 L686.1,109.02 L688.1,109.60 L690.1,110.17 L692.1,110.75 L694.1,111.33 L696.1,111.91 L698.1,112.50 L700.1,113.08 L702.1,113.67 L704.1,114.26 L706.1,114.85 L708.1,115.45 L710.1,116.04 L712.1,116.64 L714.1,117.24 L716.1,117.84 L718.1,118.44 L720.1,119.05 L722.1,119.66 L724.1,120.27 L726.0,120.88 L728.0,121.49 L730.0,122.11 L732.0,122.73 L734.0,123.35 L736.0,123.98 L738.0,124.60 L740.0,125.23 L742.0,125.86 L744.0,126.50 L746.0,127.13 L748.0,127.77 L750.0,128.41 L752.0,129.05 L754.0,129.69 L756.0,130.34 L758.0,130.98 L760.0,131.63 L762.0,132.28 L764.0,132.93 L766.0,133.59 L768.0,134.24 L770.0,134.90 L772.0,135.56 L774.0,136.22 L776.0,136.88 L778.0,137.54 L780.0,138.20 L782.0,138.86 L784.0,139.53 L786.0,140.20 L788.0,140.87 L790.0,141.54 L792.0,142.21 L794.0,142.88 L796.0,143.56 L798.0,144.23 L800.0,144.91 L802.0,145.59 L804.0,146.28 L806.0,146.96 L808.0,147.65 L810.0,148.33 L812.0,149.02 L814.0,149.72 L816.0,150.41 L818.0,151.10 L820.0,151.80 L822.0,152.50 L824.0,153.20 L826.0,153.91 L828.0,154.61 L830.0,155.32 L832.0,156.03 L834.0,156.74 L835.9,157.46 L837.9,158.17 L839.9,158.89 L841.9,159.61 L843.9,160.34 L845.9,161.06 L847.9,161.79 L849.9,162.52 L851.9,163.25 L853.9,163.99 L855.9,164.72 L857.9,165.46 L859.9,166.20 L861.9,166.95 L863.9,167.69 L865.9,168.44 L867.9,169.19 L869.9,169.94 L871.9,170.69 L873.9,171.45 L875.9,172.20 L877.9,172.96 L879.9,173.73 L881.9,174.49 L883.9,175.26 L885.9,176.02 L887.9,176.80 L889.9,177.57 L891.9,178.34 L893.9,179.12 L895.9,179.90 L897.9,180.68 L899.9,181.46 L901.9,182.25 L903.9,183.04 L905.9,183.83 L907.9,184.62 L909.9,185.42 L911.9,186.21 L913.9,187.01 L915.9,187.82 L917.9,188.62 L919.9,189.43 L921.9,190.24 L923.9,191.05 L925.9,191.86 L927.9,192.68 L929.9,193.49 L931.9,194.31 L933.9,195.14 L935.9,195.96 L937.9,196.79 L939.9,197.62 L941.9,198.45 L943.9,199.28 L945.9,200.12 L947.8,200.96 L949.8,201.80 L951.8,202.64 L953.8,203.48 L955.8,204.32 L957.8,205.17 L959.8,206.02 L961.8,206.87 L963.8,207.72 L965.8,208.58 L967.8,209.44 L969.8,210.30 L971.8,211.16 L973.8,212.03 L975.8,212.90 L977.8,213.77 L979.8,214.64 L981.8,215.52 L983.8,216.40 L985.8,217.29 L987.8,218.17 L989.8,219.07 L991.8,219.96 L993.8,220.86 L995.8,221.76 L997.8,222.67 L999.8,223.58 L1001.8,224.49 L1003.8,225.41 L1005.8,226.34 L1007.8,227.26 L1009.8,228.19 L1011.8,229.13 L1013.8,230.07 L1015.8,231.01 L1017.8,231.95 L1019.8,232.90 L1021.8,233.86 L1023.8,234.81 L1025.8,235.78 L1027.8,236.74 L1029.8,237.71 L1031.8,238.68 L1033.8,239.66 L1035.8,240.64 L1037.8,241.62 L1039.8,242.61 L1041.8,243.60 L1043.8,244.59 L1045.8,245.59 L1047.8,246.59 L1049.8,247.60 L1051.8,248.61 L1053.8,249.62 L1055.8,250.64 L1057.7,251.66 L1059.7,252.68 L1061.7,253.71 L1063.7,254.74 L1065.7,255.77 L1067.7,256.80 L1069.7,257.84 L1071.7,258.88 L1073.7,259.93 L1075.7,260.98 L1077.7,262.03 L1079.7,263.09 L1081.7,264.16 L1083.7,265.23 L1085.7,266.30 L1087.7,267.39 L1089.7,268.48 L1091.7,269.57 L1093.7,270.68 L1095.7,271.79 L1097.7,272.90 L1099.7,274.03 L1101.7,275.17 L1103.7,276.31 L1105.7,277.46 L1107.7,278.62 L1109.7,279.79 L1111.7,280.97 L1113.7,282.16 L1115.7,283.36 L1117.7,284.56 L1119.7,285.78 L1121.7,287.00 L1123.7,288.23 L1125.7,289.47 L1127.7,290.72 L1129.7,291.98 L1131.7,293.24 L1133.7,294.51 L1135.7,295.79 L1137.7,297.07 L1139.7,298.36 L1141.7,299.66 L1143.7,300.96 L1145.7,302.27 L1147.7,303.58 L1149.7,304.90 L1151.7,306.22 L1153.7,307.55 L1155.7,308.88 L1157.7,310.21 L1159.7,311.55 L1161.7,312.90 L1163.7,314.24 L1165.7,315.60 L1167.7,316.95 L1169.6,318.31 L1171.6,319.68 L1173.6,321.06 L1175.6,322.46 L1177.6,323.87 L1179.6,325.30 L1181.6,326.74 L1183.6,328.19 L1185.6,329.58 L1187.6,330.97 L1189.6,332.37 L1191.6,333.80 L1193.6,335.25 L1195.6,336.72 L1197.6,338.22 L1199.6,339.74 L1201.6,341.28 L1203.6,342.86 L1205.6,344.47 L1207.6,346.11 L1209.6,347.77 L1211.6,349.44 L1213.6,351.13 L1215.6,352.87 L1217.6,354.59 L1219.6,356.17 L1221.6,357.43 L1223.6,358.21"/>
<path d="M336.4,34.50 L338.4,34.71 L340.4,34.93 L342.4,35.15 L344.4,35.37 L346.4,35.60 L348.4,35.83 L350.4,36.06 L352.4,36.30 L354.4,36.54 L356.4,36.78 L358.4,37.03 L360.4,37.28 L362.4,37.53 L364.4,37.79 L366.4,38.05 L368.4,38.31 L370.4,38.58 L372.4,38.84 L374.4,39.12 L376.4,39.39 L378.4,39.67 L380.4,39.94 L382.4,40.22 L384.4,40.51 L386.4,40.79 L388.4,41.08 L390.4,41.37 L392.3,41.67 L394.3,41.97 L396.3,42.27 L398.3,42.58 L400.3,42.89 L402.3,43.21 L404.3,43.53 L406.3,43.85 L408.3,44.18 L410.3,44.52 L412.3,44.86 L414.3,45.20 L416.3,45.54 L418.3,45.89 L420.3,46.24 L422.3,46.59 L424.3,46.95 L426.3,47.31 L428.3,47.67 L430.3,48.03 L432.3,48.40 L434.3,48.77 L436.3,49.13 L438.3,49.51 L440.3,49.88 L442.3,50.25 L444.3,50.62 L446.3,51.00 L448.3,51.37 L450.3,51.75 L452.3,52.13 L454.3,52.52 L456.3,52.91 L458.3,53.30 L460.3,53.69 L462.3,54.09 L464.3,54.49 L466.3,54.89 L468.3,55.30 L470.3,55.71 L472.3,56.11 L474.3,56.53 L476.3,56.94 L478.3,57.36 L480.3,57.77 L482.3,58.19 L484.3,58.62 L486.3,59.04 L488.3,59.46 L490.3,59.89 L492.3,60.32 L494.3,60.74 L496.3,61.17 L498.3,61.60 L500.3,62.04 L502.3,62.47 L504.2,62.90 L506.2,63.34 L508.2,63.77 L510.2,64.21 L512.2,64.65 L514.2,65.10 L516.2,65.54 L518.2,65.99 L520.2,66.44 L522.2,66.89 L524.2,67.34 L526.2,67.79 L528.2,68.25 L530.2,68.71 L532.2,69.16 L534.2,69.62 L536.2,70.09 L538.2,70.55 L540.2,71.02 L542.2,71.48 L544.2,71.95 L546.2,72.42 L548.2,72.89 L550.2,73.36 L552.2,73.84 L554.2,74.31 L556.2,74.79 L558.2,75.26 L560.2,75.74 L562.2,76.22 L564.2,76.71 L566.2,77.19 L568.2,77.68 L570.2,78.16 L572.2,78.65 L574.2,79.14 L576.2,79.64 L578.2,80.13 L580.2,80.63 L582.2,81.12 L584.2,81.62 L586.2,82.12 L588.2,82.62 L590.2,83.13 L592.2,83.63 L594.2,84.14 L596.2,84.65 L598.2,85.16 L600.2,85.67 L602.2,86.18 L604.2,86.69 L606.2,87.21 L608.2,87.73 L610.2,88.24 L612.2,88.76 L614.1,89.28 L616.1,89.80 L618.1,90.33 L620.1,90.85 L622.1,91.38 L624.1,91.90 L626.1,92.43 L628.1,92.97 L630.1,93.50 L632.1,94.03 L634.1,94.57 L636.1,95.10 L638.1,95.64 L640.1,96.18 L642.1,96.73 L644.1,97.27 L646.1,97.81 L648.1,98.36 L650.1,98.91 L652.1,99.46 L654.1,100.01 L656.1,100.56 L658.1,101.11 L660.1,101.67 L662.1,102.23 L664.1,102.78 L666.1,103.34 L668.1,103.91 L670.1,104.47 L672.1,105.03 L674.1,105.60 L676.1,106.16 L678.1,106.73 L680.1,107.30 L682.1,107.87 L684.1,108.45 L686.1,109.02 L688.1,109.60 L690.1,110.17 L692.1,110.75 L694.1,111.33 L696.1,111.91 L698.1,112.50 L700.1,113.08 L702.1,113.67 L704.1,114.26 L706.1,114.85 L708.1,115.45 L710.1,116.04 L712.1,116.64 L714.1,117.24 L716.1,117.84 L718.1,118.44 L720.1,119.05 L722.1,119.66 L724.1,120.27 L726.0,120.88 L728.0,121.49 L730.0,122.11 L732.0,122.73 L734.0,123.35 L736.0,123.98 L738.0,124.60 L740.0,125.23 L742.0,125.86 L744.0,126.50 L746.0,127.13 L748.0,127.77 L750.0,128.41 L752.0,129.05 L754.0,129.69 L756.0,130.34 L758.0,130.98 L760.0,131.63 L762.0,132.28 L764.0,132.93 L766.0,133.59 L768.0,134.24 L770.0,134.90 L772.0,135.56 L774.0,136.22 L776.0,136.88 L778.0,137.54 L780.0,138.20 L782.0,138.86 L784.0,139.53 L786.0,140.20 L788.0,140.87 L790.0,141.54 L792.0,142.21 L794.0,142.88 L796.0,143.56 L798.0,144.23 L800.0,144.91 L802.0,145.59 L804.0,146.28 L806.0,146.96 L808.0,147.65 L810.0,148.33 L812.0,149.02 L814.0,149.72 L816.0,150.41 L818.0,151.10 L820.0,151.80 L822.0,152.50 L824.0,153.20 L826.0,153.91 L828.0,154.61 L830.0,155.32 L832.0,156.03 L834.0,156.74 L835.9,157.46 L837.9,158.17 L839.9,158.89 L841.9,159.61 L843.9,160.34 L845.9,161.06 L847.9,161.79 L849.9,162.52 L851.9,163.25 L853.9,163.99 L855.9,164.72 L857.9,165.46 L859.9,166.20 L861.9,166.95 L863.9,167.69 L865.9,168.44 L867.9,169.19 L869.9,169.94 L871.9,170.69 L873.9,171.45 L875.9,172.20 L877.9,172.96 L879.9,173.73 L881.9,174.49 L883.9,175.26 L885.9,176.02 L887.9,176.80 L889.9,177.57 L891.9,178.34 L893.9,179.12 L895.9,179.90 L897.9,180.68 L899.9,181.46 L901.9,182.25 L903.9,183.04 L905.9,183.83 L907.9,184.62 L909.9,185.42 L911.9,186.21 L913.9,187.01 L915.9,187.82 L917.9,188.62 L919.9,189.43 L921.9,190.24 L923.9,191.05 L925.9,191.86 L927.9,192.68 L929.9,193.49 L931.9,194.31 L933.9,195.14 L935.9,195.96 L937.9,196.79 L939.9,197.62 L941.9,198.45 L943.9,199.28 L945.9,200.12 L947.8,200.96 L949.8,201.80 L951.8,202.64 L953.8,203.48 L955.8,204.32 L957.8,205.17 L959.8,206.02 L961.8,206.87 L963.8,207.72 L965.8,208.58 L967.8,209.44 L969.8,210.30 L971.8,211.16 L973.8,212.03 L975.8,212.90 L977.8,213.77 L979.8,214.64 L981.8,215.52 L983.8,216.40 L985.8,217.29 L987.8,218.17 L989.8,219.07 L991.8,219.96 L993.8,220.86 L995.8,221.76 L997.8,222.67 L999.8,223.58 L1001.8,224.49 L1003.8,225.41 L1005.8,226.34 L1007.8,227.26 L1009.8,228.19 L1011.8,229.13 L1013.8,230.07 L1015.8,231.01 L1017.8,231.95 L1019.8,232.90 L1021.8,233.86 L1023.8,234.81 L1025.8,235.78 L1027.8,236.74 L1029.8,237.71 L1031.8,238.68 L1033.8,239.66 L1035.8,240.64 L1037.8,241.62 L1039.8,242.61 L1041.8,243.60 L1043.8,244.59 L1045.8,245.59 L1047.8,246.59 L1049.8,247.60 L1051.8,248.61 L1053.8,249.62 L1055.8,250.64 L1057.7,251.66 L1059.7,252.68 L1061.7,253.71 L1063.7,254.74 L1065.7,255.77 L1067.7,256.80 L1069.7,257.84 L1071.7,258.88 L1073.7,259.93 L1075.7,260.97 L1077.7,262.03 L1079.7,263.09 L1081.7,264.15 L1083.7,265.22 L1085.7,266.30 L1087.7,267.38 L1089.7,268.47 L1091.7,269.57 L1093.7,270.67 L1095.7,271.78 L1097.7,272.90 L1099.7,274.03 L1101.7,275.16 L1103.7,276.30 L1105.7,277.46 L1107.7,278.62 L1109.7,279.79 L1111.7,280.96 L1113.7,282.15 L1115.7,283.35 L1117.7,284.56 L1119.7,285.77 L1121.7,287.00 L1123.7,288.23 L1125.7,289.47 L1127.7,290.72 L1129.7,291.97 L1131.7,293.24 L1133.7,294.51 L1135.7,295.78 L1137.7,297.07 L1139.7,298.36 L1141.7,299.65 L1143.7,300.95 L1145.7,302.26 L1147.7,303.58 L1149.7,304.89 L1151.7,306.22 L1153.7,307.54 L1155.7,308.88 L1157.7,310.21 L1159.7,311.55 L1161.7,312.90 L1163.7,314.24 L1165.7,315.59 L1167.7,316.95 L1169.6,318.31 L1171.6,319.68 L1173.6,321.06 L1175.6,322.46 L1177.6,323.88 L1179.6,325.30 L1181.6,326.74 L1183.6,328.19 L1185.6,329.59 L1187.6,330.98 L1189.6,332.39 L1191.6,333.82 L1193.6,335.26 L1195.6,336.74 L1197.6,338.23 L1199.6,339.75 L1201.6,341.29 L1203.6,342.87 L1205.6,344.48 L1207.6,346.12 L1209.6,347.78 L1211.6,349.45 L1213.6,351.14 L1215.6,352.88 L1217.6,354.60 L1219.6,356.21 L1221.6,357.53 L1223.6,358.37"/>
<path d="M336.4,34.50 L338.4,34.71 L340.4,34.93 L342.4,35.15 L344.4,35.37 L346.4,35.60 L348.4,35.83 L350.4,36.06 L352.4,36.30 L354.4,36.54 L356.4,36.78 L358.4,37.03 L360.4,37.28 L362.4,37.53 L364.4,37.79 L366.4,38.05 L368.4,38.31 L370.4,38.58 L372.4,38.84 L374.4,39.12 L376.4,39.39 L378.4,39.67 L380.4,39.94 L382.4,40.22 L384.4,40.51 L386.4,40.79 L388.4,41.08 L390.4,41.37 L392.3,41.67 L394.3,41.97 L396.3,42.27 L398.3,42.58 L400.3,42.89 L402.3,43.21 L404.3,43.53 L406.3,43.85 L408.3,44.18 L410.3,44.52 L412.3,44.86 L414.3,45.20 L416.3,45.54 L418.3,45.89 L420.3,46.24 L422.3,46.59 L424.3,46.95 L426.3,47.31 L428.3,47.67 L430.3,48.03 L432.3,48.40 L434.3,48.77 L436.3,49.13 L438.3,49.51 L440.3,49.88 L442.3,50.25 L444.3,50.62 L446.3,51.00 L448.3,51.37 L450.3,51.75 L452.3,52.13 L454.3,52.52 L456.3,52.91 L458.3,53.30 L460.3,53.69 L462.3,54.09 L464.3,54.49 L466.3,54.89 L468.3,55.30 L470.3,55.71 L472.3,56.11 L474.3,56.53 L476.3,56.94 L478.3,57.36 L480.3,57.77 L482.3,58.19 L484.3,58.62 L486.3,59.04 L488.3,59.46 L490.3,59.89 L492.3,60.32 L494.3,60.74 L496.3,61.17 L498.3,61.60 L500.3,62.04 L502.3,62.47 L504.2,62.90 L506.2,63.34 L508.2,63.77 L510.2,64.21 L512.2,64.65 L514.2,65.10 L516.2,65.54 L518.2,65.99 L520.2,66.44 L522.2,66.89 L524.2,67.34 L526.2,67.79 L528.2,68.25 L530.2,68.71 L532.2,69.16 L534.2,69.62 L536.2,70.09 L538.2,70.55 L540.2,71.02 L542.2,71.48 L544.2,71.95 L546.2,72.42 L548.2,72.89 L550.2,73.36 L552.2,73.84 L554.2,74.31 L556.2,74.79 L558.2,75.26 L560.2,75.74 L562.2,76.22 L564.2,76.71 L566.2,77.19 L568.2,77.68 L570.2,78.16 L572.2,78.65 L574.2,79.14 L576.2,79.64 L578.2,80.13 L580.2,80.63 L582.2,81.12 L584.2,81.62 L586.2,82.12 L588.2,82.62 L590.2,83.13 L592.2,83.63 L594.2,84.14 L596.2,84.65 L598.2,85.16 L600.2,85.67 L602.2,86.18 L604.2,86.69 L606.2,87.21 L608.2,87.73 L610.2,88.24 L612.2,88.76 L614.1,89.28 L616.1,89.80 L618.1,90.33 L620.1,90.85 L622.1,91.38 L624.1,91.90 L626.1,92.43 L628.1,92.97 L630.1,93.50 L632.1,94.03 L634.1,94.57 L636.1,95.10 L638.1,95.64 L640.1,96.18 L642.1,96.73 L644.1,97.27 L646.1,97.81 L648.1,98.36 L650.1,98.91 L652.1,99.46 L654.1,100.01 L656.1,100.56 L658.1,101.11 L660.1,101.67 L662.1,102.23 L664.1,102.78 L666.1,103.34 L668.1,103.91 L670.1,104.47 L672.1,105.03 L674.1,105.60 L676.1,106.16 L678.1,106.73 L680.1,107.30 L682.1,107.87 L684.1,108.45 L686.1,109.02 L688.1,109.60 L690.1,110.17 L692.1,110.75 L694.1,111.33 L696.1,111.91 L698.1,112.50 L700.1,113.08 L702.1,113.67 L704.1,114.26 L706.1,114.85 L708.1,115.45 L710.1,116.04 L712.1,116.64 L714.1,117.24 L716.1,117.84 L718.1,118.44 L720.1,119.05 L722.1,119.66 L724.1,120.27 L726.0,120.88 L728.0,121.49 L730.0,122.11 L732.0,122.73 L734.0,123.35 L736.0,123.98 L738.0,124.60 L740.0,125.23 L742.0,125.86 L744.0,126.50 L746.0,127.13 L748.0,127.77 L750.0,128.41 L752.0,129.05 L754.0,129.69 L756.0,130.34 L758.0,130.98 L760.0,131.63 L762.0,132.28 L764.0,132.93 L766.0,133.59 L768.0,134.24 L770.0,134.90 L772.0,135.56 L774.0,136.22 L776.0,136.88 L778.0,137.54 L780.0,138.20 L782.0,138.86 L784.0,139.53 L786.0,140.20 L788.0,140.87 L790.0,141.54 L792.0,142.21 L794.0,142.88 L796.0,143.56 L798.0,144.23 L800.0,144.91 L802.0,145.59 L804.0,146.28 L806.0,146.96 L808.0,147.65 L810.0,148.33 L812.0,149.02 L814.0,149.72 L816.0,150.41 L818.0,151.10 L820.0,151.80 L822.0,152.50 L824.0,153.20 L826.0,153.91 L828.0,154.61 L830.0,155.32 L832.0,156.03 L834.0,156.74 L835.9,157.46 L837.9,158.17 L839.9,158.89 L841.9,159.61 L843.9,160.34 L845.9,161.06 L847.9,161.79 L849.9,162.52 L851.9,163.25 L853.9,163.99 L855.9,164.72 L857.9,165.46 L859.9,166.20 L861.9,166.95 L863.9,167.69 L865.9,168.44 L867.9,169.19 L869.9,169.94 L871.9,170.69 L873.9,171.45 L875.9,172.20 L877.9,172.96 L879.9,173.73 L881.9,174.49 L883.9,175.26 L885.9,176.02 L887.9,176.80 L889.9,177.57 L891.9,178.34 L893.9,179.12 L895.9,179.90 L897.9,180.68 L899.9,181.46 L901.9,182.25 L903.9,183.04 L905.9,183.83 L907.9,184.62 L909.9,185.42 L911.9,186.21 L913.9,187.01 L915.9,187.82 L917.9,188.62 L919.9,189.43 L921.9,190.24 L923.9,191.05 L925.9,191.86 L927.9,192.68 L929.9,193.49 L931.9,194.31 L933.9,195.14 L935.9,195.96 L937.9,196.79 L939.9,197.62 L941.9,198.45 L943.9,199.28 L945.9,200.12 L947.8,200.96 L949.8,201.80 L951.8,202.64 L953.8,203.48 L955.8,204.32 L957.8,205.17 L959.8,206.02 L961.8,206.87 L963.8,207.72 L965.8,208.58 L967.8,209.44 L969.8,210.30 L971.8,211.16 L973.8,212.03 L975.8,212.90 L977.8,213.77 L979.8,214.64 L981.8,215.52 L983.8,216.40 L985.8,217.29 L987.8,218.17 L989.8,219.07 L991.8,219.96 L993.8,220.86 L995.8,221.76 L997.8,222.67 L999.8,223.58 L1001.8,224.49 L1003.8,225.41 L1005.8,226.34 L1007.8,227.26 L1009.8,228.19 L1011.8,229.13 L1013.8,230.07 L1015.8,231.01 L1017.8,231.95 L1019.8,232.90 L1021.8,233.86 L1023.8,234.81 L1025.8,235.78 L1027.8,236.74 L1029.8,237.71 L1031.8,238.68 L1033.8,239.66 L1035.8,240.64 L1037.8,241.62 L1039.8,242.61 L1041.8,243.60 L1043.8,244.59 L1045.8,245.59 L1047.8,246.59 L1049.8,247.60 L1051.8,248.61 L1053.8,249.62 L1055.8,250.64 L1057.7,251.66 L1059.7,252.68 L1061.7,253.71 L1063.7,254.73 L1065.7,255.77 L1067.7,256.80 L1069.7,257.84 L1071.7,258.88 L1073.7,259.92 L1075.7,260.97 L1077.7,262.03 L1079.7,263.09 L1081.7,264.15 L1083.7,265.22 L1085.7,266.30 L1087.7,267.38 L1089.7,268.47 L1091.7,269.57 L1093.7,270.67 L1095.7,271.78 L1097.7,272.90 L1099.7,274.02 L1101.7,275.16 L1103.7,276.30 L1105.7,277.45 L1107.7,278.61 L1109.7,279.78 L1111.7,280.96 L1113.7,282.15 L1115.7,283.35 L1117.7,284.55 L1119.7,285.77 L1121.7,286.99 L1123.7,288.22 L1125.7,289.46 L1127.7,290.71 L1129.7,291.97 L1131.7,293.23 L1133.7,294.50 L1135.7,295.78 L1137.7,297.06 L1139.7,298.35 L1141.7,299.65 L1143.7,300.95 L1145.7,302.26 L1147.7,303.57 L1149.7,304.89 L1151.7,306.21 L1153.7,307.54 L1155.7,308.87 L1157.7,310.21 L1159.7,311.55 L1161.7,312.89 L1163.7,314.24 L1165.7,315.59 L1167.7,316.95 L1169.6,318.31 L1171.6,319.68 L1173.6,321.06 L1175.6,322.46 L1177.6,323.88 L1179.6,325.30 L1181.6,326.74 L1183.6,328.19 L1185.6,329.60 L1187.6,330.99 L1189.6,332.40 L1191.6,333.83 L1193.6,335.28 L1195.6,336.75 L1197.6,338.24 L1199.6,339.76 L1201.6,341.30 L1203.6,342.88 L1205.6,344.49 L1207.6,346.13 L1209.6,347.79 L1211.6,349.46 L1213.6,351.15 L1215.6,352.88 L1217.6,354.61 L1219.6,356.24 L1221.6,357.60 L1223.6,358.50"/>
<path d="M336.4,34.50 L338.4,34.71 L340.4,34.93 L342.4,35.15 L344.4,35.37 L346.4,35.60 L348.4,35.83 L350.4,36.06 L352.4,36.30 L354.4,36.54 L356.4,36.78 L358.4,37.03 L360.4,37.28 L362.4,37.53 L364.4,37.79 L366.4,38.05 L368.4,38.31 L370.4,38.58 L372.4,38.84 L374.4,39.12 L376.4,39.39 L378.4,39.67 L380.4,39.94 L382.4,40.22 L384.4,40.51 L386.4,40.79 L388.4,41.08 L390.4,41.37 L392.3,41.67 L394.3,41.97 L396.3,42.27 L398.3,42.58 L400.3,42.89 L402.3,43.21 L404.3,43.53 L406.3,43.85 L408.3,44.18 L410.3,44.52 L412.3,44.86 L414.3,45.20 L416.3,45.54 L418.3,45.89 L420.3,46.24 L422.3,46.59 L424.3,46.95 L426.3,47.31 L428.3,47.67 L430.3,48.03 L432.3,48.40 L434.3,48.77 L436.3,49.13 L438.3,49.51 L440.3,49.88 L442.3,50.25 L444.3,50.62 L446.3,51.00 L448.3,51.37 L450.3,51.75 L452.3,52.13 L454.3,52.52 L456.3,52.91 L458.3,53.30 L460.3,53.69 L462.3,54.09 L464.3,54.49 L466.3,54.89 L468.3,55.30 L470.3,55.71 L472.3,56.11 L474.3,56.53 L476.3,56.94 L478.3,57.36 L480.3,57.77 L482.3,58.19 L484.3,58.62 L486.3,59.04 L488.3,59.46 L490.3,59.89 L492.3,60.32 L494.3,60.74 L496.3,61.17 L498.3,61.60 L500.3,62.04 L502.3,62.47 L504.2,62.90 L506.2,63.34 L508.2,63.77 L510.2,64.21 L512.2,64.65 L514.2,65.10 L516.2,65.54 L518.2,65.99 L520.2,66.44 L522.2,66.89 L524.2,67.34 L526.2,67.79 L528.2,68.25 L530.2,68.71 L532.2,69.16 L534.2,69.62 L536.2,70.09 L538.2,70.55 L540.2,71.02 L542.2,71.48 L544.2,71.95 L546.2,72.42 L548.2,72.89 L550.2,73.36 L552.2,73.84 L554.2,74.31 L556.2,74.79 L558.2,75.26 L560.2,75.74 L562.2,76.22 L564.2,76.71 L566.2,77.19 L568.2,77.68 L570.2,78.16 L572.2,78.65 L574.2,79.14 L576.2,79.64 L578.2,80.13 L580.2,80.63 L582.2,81.12 L584.2,81.62 L586.2,82.12 L588.2,82.62 L590.2,83.13 L592.2,83.63 L594.2,84.14 L596.2,84.65 L598.2,85.16 L600.2,85.67 L602.2,86.18 L604.2,86.69 L606.2,87.21 L608.2,87.73 L610.2,88.24 L612.2,88.76 L614.1,89.28 L616.1,89.80 L618.1,90.33 L620.1,90.85 L622.1,91.38 L624.1,91.90 L626.1,92.43 L628.1,92.97 L630.1,93.50 L632.1,94.03 L634.1,94.57 L636.1,95.10 L638.1,95.64 L640.1,96.18 L642.1,96.73 L644.1,97.27 L646.1,97.81 L648.1,98.36 L650.1,98.91 L652.1,99.46 L654.1,100.01 L656.1,100.56 L658.1,101.11 L660.1,101.67 L662.1,102.23 L664.1,102.78 L666.1,103.34 L668.1,103.91 L670.1,104.47 L672.1,105.03 L674.1,105.60 L676.1,106.16 L678.1,106.73 L680.1,107.30 L682.1,107.87 L684.1,108.45 L686.1,109.02 L688.1,109.60 L690.1,110.17 L692.1,110.75 L694.1,111.33 L696.1,111.91 L698.1,112.50 L700.1,113.08 L702.1,113.67 L704.1,114.26 L706.1,114.85 L708.1,115.45 L710.1,116.04 L712.1,116.64 L714.1,117.24 L716.1,117.84 L718.1,118.44 L720.1,119.05 L722.1,119.66 L724.1,120.27 L726.0,120.88 L728.0,121.49 L730.0,122.11 L732.0,122.73 L734.0,123.35 L736.0,123.98 L738.0,124.60 L740.0,125.23 L742.0,125.86 L744.0,126.50 L746.0,127.13 L748.0,127.77 L750.0,128.41 L752.0,129.05 L754.0,129.69 L756.0,130.34 L758.0,130.98 L760.0,131.63 L762.0,132.28 L764.0,132.93 L766.0,133.59 L768.0,134.24 L770.0,134.90 L772.0,135.56 L774.0,136.22 L776.0,136.88 L778.0,137.54 L780.0,138.20 L782.0,138.86 L784.0,139.53 L786.0,140.20 L788.0,140.87 L790.0,141.54 L792.0,142.21 L794.0,142.88 L796.0,143.56 L798.0,144.23 L800.0,144.91 L802.0,145.59 L804.0,146.28 L806.0,146.96 L808.0,147.65 L810.0,148.33 L812.0,149.02 L814.0,149.72 L816.0,150.41 L818.0,151.10 L820.0,151.80 L822.0,152.50 L824.0,153.20 L826.0,153.91 L828.0,154.61 L830.0,155.32 L832.0,156.03 L834.0,156.74 L835.9,157.46 L837.9,158.17 L839.9,158.89 L841.9,159.61 L843.9,160.34 L845.9,161.06 L847.9,161.79 L849.9,162.52 L851.9,163.25 L853.9,163.99 L855.9,164.72 L857.9,165.46 L859.9,166.20 L861.9,166.95 L863.9,167.69 L865.9,168.44 L867.9,169.19 L869.9,169.94 L871.9,170.69 L873.9,171.45 L875.9,172.20 L877.9,172.96 L879.9,173.73 L881.9,174.49 L883.9,175.26 L885.9,176.02 L887.9,176.80 L889.9,177.57 L891.9,178.34 L893.9,179.12 L895.9,179.90 L897.9,180.68 L899.9,181.46 L901.9,182.25 L903.9,183.04 L905.9,183.83 L907.9,184.62 L909.9,185.42 L911.9,186.21 L913.9,187.01 L915.9,187.82 L917.9,188.62 L919.9,189.43 L921.9,190.24 L923.9,191.05 L925.9,191.86 L927.9,192.68 L929.9,193.49 L931.9,194.31 L933.9,195.14 L935.9,195.96 L937.9,196.79 L939.9,197.62 L941.9,198.45 L943.9,199.28 L945.9,200.12 L947.8,200.96 L949.8,201.80 L951.8,202.64 L953.8,203.48 L955.8,204.32 L957.8,205.17 L959.8,206.02 L961.8,206.87 L963.8,207.72 L965.8,208.58 L967.8,209.44 L969.8,210.30 L971.8,211.16 L973.8,212.03 L975.8,212.90 L977.8,213.77 L979.8,214.64 L981.8,215.52 L983.8,216.40 L985.8,217.29 L987.8,218.17 L989.8,219.07 L991.8,219.96 L993.8,220.86 L995.8,221.76 L997.8,222.67 L999.8,223.58 L1001.8,224.49 L1003.8,225.41 L1005.8,226.34 L1007.8,227.26 L1009.8,228.19 L1011.8,229.13 L1013.8,230.07 L1015.8,231.01 L1017.8,231.95 L1019.8,232.90 L1021.8,233.86 L1023.8,234.81 L1025.8,235.77 L1027.8,236.74 L1029.8,237.71 L1031.8,238.68 L1033.8,239.66 L1035.8,240.64 L1037.8,241.62 L1039.8,242.61 L1041.8,243.60 L1043.8,244.59 L1045.8,245.59 L1047.8,246.59 L1049.8,247.60 L1051.8,248.61 L1053.8,249.62 L1055.8,250.64 L1057.7,251.66 L1059.7,252.68 L1061.7,253.71 L1063.7,254.73 L1065.7,255.76 L1067.7,256.80 L1069.7,257.84 L1071.7,258.88 L1073.7,259.92 L1075.7,260.97 L1077.7,262.03 L1079.7,263.09 L1081.7,264.15 L1083.7,265.22 L1085.7,266.30 L1087.7,267.38 L1089.7,268.47 L1091.7,269.57 L1093.7,270.67 L1095.7,271.78 L1097.7,272.90 L1099.7,274.02 L1101.7,275.16 L1103.7,276.30 L1105.7,277.45 L1107.7,278.61 L1109.7,279.78 L1111.7,280.96 L1113.7,282.15 L1115.7,283.34 L1117.7,284.55 L1119.7,285.77 L1121.7,286.99 L1123.7,288.22 L1125.7,289.46 L1127.7,290.71 L1129.7,291.96 L1131.7,293.23 L1133.7,294.50 L1135.7,295.78 L1137.7,297.06 L1139.7,298.35 L1141.7,299.65 L1143.7,300.95 L1145.7,302.26 L1147.7,303.57 L1149.7,304.89 L1151.7,306.21 L1153.7,307.54 L1155.7,308.87 L1157.7,310.21 L1159.7,311.55 L1161.7,312.89 L1163.7,314.24 L1165.7,315.59 L1167.7,316.95 L1169.6,318.31 L1171.6,319.68 L1173.6,321.06 L1175.6,322.46 L1177.6,323.88 L1179.6,325.30 L1181.6,326.74 L1183.6,328.19 L1185.6,329.61 L1187.6,331.00 L1189.6,332.41 L1191.6,333.84 L1193.6,335.28 L1195.6,336.75 L1197.6,338.25 L1199.6,339.77 L1201.6,341.31 L1203.6,342.89 L1205.6,344.50 L1207.6,346.13 L1209.6,347.79 L1211.6,349.47 L1213.6,351.16 L1215.6,352.89 L1217.6,354.62 L1219.6,356.27 L1221.6,357.66 L1223.6,358.60"/>
<path d="M336.4,34.50 L338.4,34.71 L340.4,34.93 L342.4,35.15 L344.4,35.37 L346.4,35.60 L348.4,35.83 L350.4,36.06 L352.4,36.30 L354.4,36.54 L356.4,36.78 L358.4,37.03 L360.4,37.28 L362.4,37.53 L364.4,37.79 L366.4,38.05 L368.4,38.31 L370.4,38.58 L372.4,38.84 L374.4,39.12 L376.4,39.39 L378.4,39.67 L380.4,39.94 L382.4,40.22 L384.4,40.51 L386.4,40.79 L388.4,41.08 L390.4,41.37 L392.3,41.67 L394.3,41.97 L396.3,42.27 L398.3,42.58 L400.3,42.89 L402.3,43.21 L404.3,43.53 L406.3,43.85 L408.3,44.18 L410.3,44.52 L412.3,44.86 L414.3,45.20 L416.3,45.54 L418.3,45.89 L420.3,46.24 L422.3,46.59 L424.3,46.95 L426.3,47.31 L428.3,47.67 L430.3,48.03 L432.3,48.40 L434.3,48.77 L436.3,49.13 L438.3,49.51 L440.3,49.88 L442.3,50.25 L444.3,50.62 L446.3,51.00 L448.3,51.37 L450.3,51.75 L452.3,52.13 L454.3,52.52 L456.3,52.91 L458.3,53.30 L460.3,53.69 L462.3,54.09 L464.3,54.49 L466.3,54.89 L468.3,55.30 L470.3,55.71 L472.3,56.11 L474.3,56.53 L476.3,56.94 L478.3,57.36 L480.3,57.77 L482.3,58.19 L484.3,58.62 L486.3,59.04 L488.3,59.46 L490.3,59.89 L492.3,60.32 L494.3,60.74 L496.3,61.17 L498.3,61.60 L500.3,62.04 L502.3,62.47 L504.2,62.90 L506.2,63.34 L508.2,63.77 L510.2,64.21 L512.2,64.65 L514.2,65.10 L516.2,65.54 L518.2,65.99 L520.2,66.44 L522.2,66.89 L524.2,67.34 L526.2,67.79 L528.2,68.25 L530.2,68.71 L532.2,69.16 L534.2,69.62 L536.2,70.09 L538.2,70.55 L540.2,71.02 L542.2,71.48 L544.2,71.95 L546.2,72.42 L548.2,72.89 L550.2,73.36 L552.2,73.84 L554.2,74.31 L556.2,74.79 L558.2,75.26 L560.2,75.74 L562.2,76.22 L564.2,76.71 L566.2,77.19 L568.2,77.68 L570.2,78.16 L572.2,78.65 L574.2,79.14 L576.2,79.64 L578.2,80.13 L580.2,80.63 L582.2,81.12 L584.2,81.62 L586.2,82.12 L588.2,82.62 L590.2,83.13 L592.2,83.63 L594.2,84.14 L596.2,84.65 L598.2,85.16 L600.2,85.67 L602.2,86.18 L604.2,86.69 L606.2,87.21 L608.2,87.73 L610.2,88.24 L612.2,88.76 L614.1,89.28 L616.1,89.80 L618.1,90.33 L620.1,90.85 L622.1,91.38 L624.1,91.90 L626.1,92.43 L628.1,92.97 L630.1,93.50 L632.1,94.03 L634.1,94.57 L636.1,95.10 L638.1,95.64 L640.1,96.18 L642.1,96.73 L644.1,97.27 L646.1,97.81 L648.1,98.36 L650.1,98.91 L652.1,99.46 L654.1,100.01 L656.1,100.56 L658.1,101.11 L660.1,101.67 L662.1,102.23 L664.1,102.78 L666.1,103.34 L668.1,103.91 L670.1,104.47 L672.1,105.03 L674.1,105.60 L676.1,106.16 L678.1,106.73 L680.1,107.30 L682.1,107.87 L684.1,108.45 L686.1,109.02 L688.1,109.60 L690.1,110.17 L692.1,110.75 L694.1,111.33 L696.1,111.91 L698.1,112.50 L700.1,113.08 L702.1,113.67 L704.1,114.26 L706.1,114.85 L708.1,115.45 L710.1,116.04 L712.1,116.64 L714.1,117.24 L716.1,117.84 L718.1,118.44 L720.1,119.05 L722.1,119.66 L724.1,120.27 L726.0,120.88 L728.0,121.49 L730.0,122.11 L732.0,122.73 L734.0,123.35 L736.0,123.98 L738.0,124.60 L740.0,125.23 L742.0,125.86 L744.0,126.50 L746.0,127.13 L748.0,127.77 L750.0,128.41 L752.0,129.05 L754.0,129.69 L756.0,130.34 L758.0,130.98 L760.0,131.63 L762.0,132.28 L764.0,132.93 L766.0,133.59 L768.0,134.24 L770.0,134.90 L772.0,135.56 L774.0,136.22 L776.0,136.88 L778.0,137.54 L780.0,138.20 L782.0,138.86 L784.0,139.53 L786.0,140.20 L788.0,140.87 L790.0,141.54 L792.0,142.21 L794.0,142.88 L796.0,143.56 L798.0,144.23 L800.0,144.91 L802.0,145.59 L804.0,146.28 L806.0,146.96 L808.0,147.65 L810.0,148.33 L812.0,149.02 L814.0,149.72 L816.0,150.41 L818.0,151.10 L820.0,151.80 L822.0,152.50 L824.0,153.20 L826.0,153.91 L828.0,154.61 L830.0,155.32 L832.0,156.03 L834.0,156.74 L835.9,157.46 L837.9,158.17 L839.9,158.89 L841.9,159.61 L843.9,160.34 L845.9,161.06 L847.9,161.79 L849.9,162.52 L851.9,163.25 L853.9,163.99 L855.9,164.72 L857.9,165.46 L859.9,166.20 L861.9,166.95 L863.9,167.69 L865.9,168.44 L867.9,169.19 L869.9,169.94 L871.9,170.69 L873.9,171.45 L875.9,172.20 L877.9,172.96 L879.9,173.73 L881.9,174.49 L883.9,175.26 L885.9,176.02 L887.9,176.80 L889.9,177.57 L891.9,178.34 L893.9,179.12 L895.9,179.90 L897.9,180.68 L899.9,181.46 L901.9,182.25 L903.9,183.04 L905.9,183.83 L907.9,184.62 L909.9,185.42 L911.9,186.21 L913.9,187.01 L915.9,187.82 L917.9,188.62 L919.9,189.43 L921.9,190.24 L923.9,191.05 L925.9,191.86 L927.9,192.68 L929.9,193.49 L931.9,194.31 L933.9,195.14 L935.9,195.96 L937.9,196.79 L939.9,197.62 L941.9,198.45 L943.9,199.28 L945.9,200.12 L947.8,200.96 L949.8,201.80 L951.8,202.64 L953.8,203.48 L955.8,204.32 L957.8,205.17 L959.8,206.02 L961.8,206.87 L963.8,207.72 L965.8,208.58 L967.8,209.44 L969.8,210.30 L971.8,211.16 L973.8,212.03 L975.8,212.90 L977.8,213.77 L979.8,214.64 L981.8,215.52 L983.8,216.40 L985.8,217.29 L987.8,218.17 L989.8,219.07 L991.8,219.96 L993.8,220.86 L995.8,221.76 L997.8,222.67 L999.8,223.58 L1001.8,224.49 L1003.8,225.41 L1005.8,226.34 L1007.8,227.26 L1009.8,228.19 L1011.8,229.13 L1013.8,230.07 L1015.8,231.01 L1017.8,231.95 L1019.8,232.90 L1021.8,233.86 L1023.8,234.81 L1025.8,235.77 L1027.8,236.74 L1029.8,237.71 L1031.8,238.68 L1033.8,239.66 L1035.8,240.64 L1037.8,241.62 L1039.8,242.61 L1041.8,243.60 L1043.8,244.59 L1045.8,245.59 L1047.8,246.59 L1049.8,247.60 L1051.8,248.61 L1053.8,249.62 L1055.8,250.64 L1057.7,251.66 L1059.7,252.68 L1061.7,253.71 L1063.7,254.73 L1065.7,255.76 L1067.7,256.80 L1069.7,257.84 L1071.7,258.88 L1073.7,259.92 L1075.7,260.97 L1077.7,262.03 L1079.7,263.09 L1081.7,264.15 L1083.7,265.22 L1085.7,266.30 L1087.7,267.38 L1089.7,268.47 L1091.7,269.56 L1093.7,270.67 L1095.7,271.78 L1097.7,272.89 L1099.7,274.02 L1101.7,275.15 L1103.7,276.30 L1105.7,277.45 L1107.7,278.61 L1109.7,279.78 L1111.7,280.96 L1113.7,282.14 L1115.7,283.34 L1117.7,284.55 L1119.7,285.76 L1121.7,286.99 L1123.7,288.22 L1125.7,289.46 L1127.7,290.71 L1129.7,291.96 L1131.7,293.23 L1133.7,294.50 L1135.7,295.77 L1137.7,297.06 L1139.7,298.35 L1141.7,299.64 L1143.7,300.95 L1145.7,302.25 L1147.7,303.57 L1149.7,304.89 L1151.7,306.21 L1153.7,307.54 L1155.7,308.87 L1157.7,310.21 L1159.7,311.55 L1161.7,312.89 L1163.7,314.24 L1165.7,315.59 L1167.7,316.95 L1169.6,318.31 L1171.6,319.68 L1173.6,321.06 L1175.6,322.46 L1177.6,323.88 L1179.6,325.30 L1181.6,326.74 L1183.6,328.19 L1185.6,329.62 L1187.6,331.01 L1189.6,332.42 L1191.6,333.84 L1193.6,335.29 L1195.6,336.76 L1197.6,338.26 L1199.6,339.77 L1201.6,341.32 L1203.6,342.89 L1205.6,344.50 L1207.6,346.14 L1209.6,347.80 L1211.6,349.47 L1213.6,351.16 L1215.6,352.89 L1217.6,354.63 L1219.6,356.29 L1221.6,357.71 L1223.6,358.69"/>
<path d="M336.4,34.50 L338.4,34.71 L340.4,34.93 L342.4,35.15 L344.4,35.37 L346.4,35.60 L348.4,35.83 L350.4,36.06 L352.4,36.30 L354.4,36.54 L356.4,36.78 L358.4,37.03 L360.4,37.28 L362.4,37.53 L364.4,37.79 L366.4,38.05 L368.4,38.31 L370.4,38.58 L372.4,38.84 L374.4,39.12 L376.4,39.39 L378.4,39.67 L380.4,39.94 L382.4,40.22 L384.4,40.51 L386.4,40.79 L388.4,41.08 L390.4,41.37 L392.3,41.67 L394.3,41.97 L396.3,42.27 L398.3,42.58 L400.3,42.89 L402.3,43.21 L404.3,43.53 L406.3,43.85 L408.3,44.18 L410.3,44.52 L412.3,44.86 L414.3,45.20 L416.3,45.54 L418.3,45.89 L420.3,46.24 L422.3,46.59 L424.3,46.95 L426.3,47.31 L428.3,47.67 L430.3,48.03 L432.3,48.40 L434.3,48.77 L436.3,49.13 L438.3,49.51 L440.3,49.88 L442.3,50.25 L444.3,50.62 L446.3,51.00 L448.3,51.37 L450.3,51.75 L452.3,52.13 L454.3,52.52 L456.3,52.91 L458.3,53.30 L460.3,53.69 L462.3,54.09 L464.3,54.49 L466.3,54.89 L468.3,55.30 L470.3,55.71 L472.3,56.11 L474.3,56.53 L476.3,56.94 L478.3,57.36 L480.3,57.77 L482.3,58.19 L484.3,58.62 L486.3,59.04 L488.3,59.46 L490.3,59.89 L492.3,60.32 L494.3,60.74 L496.3,61.17 L498.3,61.60 L500.3,62.04 L502.3,62.47 L504.2,62.90 L506.2,63.34 L508.2,63.77 L510.2,64.21 L512.2,64.65 L514.2,65.10 L516.2,65.54 L518.2,65.99 L520.2,66.44 L522.2,66.89 L524.2,67.34 L526.2,67.79 L528.2,68.25 L530.2,68.71 L532.2,69.16 L534.2,69.62 L536.2,70.09 L538.2,70.55 L540.2,71.02 L542.2,71.48 L544.2,71.95 L546.2,72.42 L548.2,72.89 L550.2,73.36 L552.2,73.84 L554.2,74.31 L556.2,74.79 L558.2,75.26 L560.2,75.74 L562.2,76.22 L564.2,76.71 L566.2,77.19 L568.2,77.68 L570.2,78.16 L572.2,78.65 L574.2,79.14 L576.2,79.64 L578.2,80.13 L580.2,80.63 L582.2,81.12 L584.2,81.62 L586.2,82.12 L588.2,82.62 L590.2,83.13 L592.2,83.63 L594.2,84.14 L596.2,84.65 L598.2,85.16 L600.2,85.67 L602.2,86.18 L604.2,86.69 L606.2,87.21 L608.2,87.73 L610.2,88.24 L612.2,88.76 L614.1,89.28 L616.1,89.80 L618.1,90.33 L620.1,90.85 L622.1,91.38 L624.1,91.90 L626.1,92.43 L628.1,92.97 L630.1,93.50 L632.1,94.03 L634.1,94.57 L636.1,95.10 L638.1,95.64 L640.1,96.18 L642.1,96.73 L644.1,97.27 L646.1,97.81 L648.1,98.36 L650.1,98.91 L652.1,99.46 L654.1,100.01 L656.1,100.56 L658.1,101.11 L660.1,101.67 L662.1,102.23 L664.1,102.78 L666.1,103.34 L668.1,103.91 L670.1,104.47 L672.1,105.03 L674.1,105.60 L676.1,106.16 L678.1,106.73 L680.1,107.30 L682.1,107.87 L684.1,108.45 L686.1,109.02 L688.1,109.60 L690.1,110.17 L692.1,110.75 L694.1,111.33 L696.1,111.91 L698.1,112.50 L700.1,113.08 L702.1,113.67 L704.1,114.26 L706.1,114.85 L708.1,115.45 L710.1,116.04 L712.1,116.64 L714.1,117.24 L716.1,117.84 L718.1,118.44 L720.1,119.05 L722.1,119.66 L724.1,120.27 L726.0,120.88 L728.0,121.49 L730.0,122.11 L732.0,122.73 L734.0,123.35 L736.0,123.98 L738.0,124.60 L740.0,125.23 L742.0,125.86 L744.0,126.50 L746.0,127.13 L748.0,127.77 L750.0,128.41 L752.0,129.05 L754.0,129.69 L756.0,130.34 L758.0,130.98 L760.0,131.63 L762.0,132.28 L764.0,132.93 L766.0,133.59 L768.0,134.24 L770.0,134.90 L772.0,135.56 L774.0,136.22 L776.0,136.88 L778.0,137.54 L780.0,138.20 L782.0,138.86 L784.0,139.53 L786.0,140.20 L788.0,140.87 L790.0,141.54 L792.0,142.21 L794.0,142.88 L796.0,143.56 L798.0,144.23 L800.0,144.91 L802.0,145.59 L804.0,146.28 L806.0,146.96 L808.0,147.65 L810.0,148.33 L812.0,149.02 L814.0,149.72 L816.0,150.41 L818.0,151.10 L820.0,151.80 L822.0,152.50 L824.0,153.20 L826.0,153.91 L828.0,154.61 L830.0,155.32 L832.0,156.03 L834.0,156.74 L835.9,157.46 L837.9,158.17 L839.9,158.89 L841.9,159.61 L843.9,160.34 L845.9,161.06 L847.9,161.79 L849.9,162.52 L851.9,163.25 L853.9,163.99 L855.9,164.72 L857.9,165.46 L859.9,166.20 L861.9,166.95 L863.9,167.69 L865.9,168.44 L867.9,169.19 L869.9,169.94 L871.9,170.69 L873.9,171.45 L875.9,172.20 L877.9,172.96 L879.9,173.73 L881.9,174.49 L883.9,175.26 L885.9,176.02 L887.9,176.80 L889.9,177.57 L891.9,178.34 L893.9,179.12 L895.9,179.90 L897.9,180.68 L899.9,181.46 L901.9,182.25 L903.9,183.04 L905.9,183.83 L907.9,184.62 L909.9,185.42 L911.9,186.21 L913.9,187.01 L915.9,187.82 L917.9,188.62 L919.9,189.43 L921.9,190.24 L923.9,191.05 L925.9,191.86 L927.9,192.68 L929.9,193.49 L931.9,194.31 L933.9,195.14 L935.9,195.96 L937.9,196.79 L939.9,197.62 L941.9,198.45 L943.9,199.28 L945.9,200.12 L947.8,200.96 L949.8,201.80 L951.8,202.64 L953.8,203.48 L955.8,204.32 L957.8,205.17 L959.8,206.02 L961.8,206.87 L963.8,207.72 L965.8,208.58 L967.8,209.44 L969.8,210.30 L971.8,211.16 L973.8,212.03 L975.8,212.90 L977.8,213.77 L979.8,214.64 L981.8,215.52 L983.8,216.40 L985.8,217.29 L987.8,218.17 L989.8,219.07 L991.8,219.96 L993.8,220.86 L995.8,221.76 L997.8,222.67 L999.8,223.58 L1001.8,224.49 L1003.8,225.41 L1005.8,226.34 L1007.8,227.26 L1009.8,228.19 L1011.8,229.13 L1013.8,230.07 L1015.8,231.01 L1017.8,231.95 L1019.8,232.90 L1021.8,233.86 L1023.8,234.81 L1025.8,235.77 L1027.8,236.74 L1029.8,237.71 L1031.8,238.68 L1033.8,239.66 L1035.8,240.64 L1037.8,241.62 L1039.8,242.61 L1041.8,243.60 L1043.8,244.59 L1045.8,245.59 L1047.8,246.59 L1049.8,247.60 L1051.8,248.61 L1053.8,249.62 L1055.8,250.64 L1057.7,251.66 L1059.7,252.68 L1061.7,253.70 L1063.7,254.73 L1065.7,255.76 L1067.7,256.80 L1069.7,257.83 L1071.7,258.88 L1073.7,259.92 L1075.7,260.97 L1077.7,262.03 L1079.7,263.08 L1081.7,264.15 L1083.7,265.22 L1085.7,266.30 L1087.7,267.38 L1089.7,268.47 L1091.7,269.56 L1093.7,270.67 L1095.7,271.78 L1097.7,272.89 L1099.7,274.02 L1101.7,275.15 L1103.7,276.30 L1105.7,277.45 L1107.7,278.61 L1109.7,279.78 L1111.7,280.95 L1113.7,282.14 L1115.7,283.34 L1117.7,284.55 L1119.7,285.76 L1121.7,286.98 L1123.7,288.22 L1125.7,289.46 L1127.7,290.70 L1129.7,291.96 L1131.7,293.22 L1133.7,294.49 L1135.7,295.77 L1137.7,297.05 L1139.7,298.34 L1141.7,299.64 L1143.7,300.94 L1145.7,302.25 L1147.7,303.57 L1149.7,304.88 L1151.7,306.21 L1153.7,307.54 L1155.7,308.87 L1157.7,310.21 L1159.7,311.55 L1161.7,312.89 L1163.7,314.24 L1165.7,315.59 L1167.7,316.95 L1169.6,318.31 L1171.6,319.68 L1173.6,321.06 L1175.6,322.46 L1177.6,323.88 L1179.6,325.30 L1181.6,326.74 L1183.6,328.19 L1185.6,329.63 L1187.6,331.01 L1189.6,332.42 L1191.6,333.85 L1193.6,335.30 L1195.6,336.77 L1197.6,338.26 L1199.6,339.78 L1201.6,341.32 L1203.6,342.90 L1205.6,344.51 L1207.6,346.14 L1209.6,347.80 L1211.6,349.48 L1213.6,351.17 L1215.6,352.89 L1217.6,354.64 L1219.6,356.30 L1221.6,357.75 L1223.6,358.76"/>
</g>
<path d="M336.4,34.50 L338.4,34.71 L340.4,34.93 L342.4,35.15 L344.4,35.37 L346.4,35.60 L348.4,35.83 L350.4,36.06 L352.4,36.30 L354.4,36.54 L356.4,36.78 L358.4,37.03 L360.4,37.28 L362.4,37.53 L364.4,37.79 L366.4,38.05 L368.4,38.31 L370.4,38.58 L372.4,38.84 L374.4,39.12 L376.4,39.39 L378.4,39.67 L380.4,39.94 L382.4,40.22 L384.4,40.51 L386.4,40.79 L388.4,41.08 L390.4,41.37 L392.3,41.67 L394.3,41.97 L396.3,42.27 L398.3,42.58 L400.3,42.89 L402.3,43.21 L404.3,43.53 L406.3,43.85 L408.3,44.18 L410.3,44.52 L412.3,44.86 L414.3,45.20 L416.3,45.54 L418.3,45.89 L420.3,46.24 L422.3,46.59 L424.3,46.95 L426.3,47.31 L428.3,47.67 L430.3,48.03 L432.3,48.40 L434.3,48.77 L436.3,49.13 L438.3,49.51 L440.3,49.88 L442.3,50.25 L444.3,50.62 L446.3,51.00 L448.3,51.37 L450.3,51.75 L452.3,52.13 L454.3,52.52 L456.3,52.91 L458.3,53.30 L460.3,53.69 L462.3,54.09 L464.3,54.49 L466.3,54.89 L468.3,55.30 L470.3,55.71 L472.3,56.11 L474.3,56.53 L476.3,56.94 L478.3,57.36 L480.3,57.77 L482.3,58.19 L484.3,58.62 L486.3,59.04 L488.3,59.46 L490.3,59.89 L492.3,60.32 L494.3,60.74 L496.3,61.17 L498.3,61.60 L500.3,62.04 L502.3,62.47 L504.2,62.90 L506.2,63.34 L508.2,63.77 L510.2,64.21 L512.2,64.65 L514.2,65.10 L516.2,65.54 L518.2,65.99 L520.2,66.44 L522.2,66.89 L524.2,67.34 L526.2,67.79 L528.2,68.25 L530.2,68.71 L532.2,69.16 L534.2,69.62 L536.2,70.09 L538.2,70.55 L540.2,71.02 L542.2,71.48 L544.2,71.95 L546.2,72.42 L548.2,72.89 L550.2,73.36 L552.2,73.84 L554.2,74.31 L556.2,74.79 L558.2,75.26 L560.2,75.74 L562.2,76.22 L564.2,76.71 L566.2,77.19 L568.2,77.68 L570.2,78.16 L572.2,78.65 L574.2,79.14 L576.2,79.64 L578.2,80.13 L580.2,80.63 L582.2,81.12 L584.2,81.62 L586.2,82.12 L588.2,82.62 L590.2,83.13 L592.2,83.63 L594.2,84.14 L596.2,84.65 L598.2,85.16 L600.2,85.67 L602.2,86.18 L604.2,86.69 L606.2,87.21 L608.2,87.73 L610.2,88.24 L612.2,88.76 L614.1,89.28 L616.1,89.80 L618.1,90.33 L620.1,90.85 L622.1,91.38 L624.1,91.90 L626.1,92.43 L628.1,92.97 L630.1,93.50 L632.1,94.03 L634.1,94.57 L636.1,95.10 L638.1,95.64 L640.1,96.18 L642.1,96.73 L644.1,97.27 L646.1,97.81 L648.1,98.36 L650.1,98.91 L652.1,99.46 L654.1,100.01 L656.1,100.56 L658.1,101.11 L660.1,101.67 L662.1,102.23 L664.1,102.78 L666.1,103.34 L668.1,103.91 L670.1,104.47 L672.1,105.03 L674.1,105.60 L676.1,106.16 L678.1,106.73 L680.1,107.30 L682.1,107.87 L684.1,108.45 L686.1,109.02 L688.1,109.60 L690.1,110.17 L692.1,110.75 L694.1,111.33 L696.1,111.91 L698.1,112.50 L700.1,113.08 L702.1,113.67 L704.1,114.26 L706.1,114.85 L708.1,115.45 L710.1,116.04 L712.1,116.64 L714.1,117.24 L716.1,117.84 L718.1,118.44 L720.1,119.05 L722.1,119.66 L724.1,120.27 L726.0,120.88 L728.0,121.49 L730.0,122.11 L732.0,122.73 L734.0,123.35 L736.0,123.98 L738.0,124.60 L740.0,125.23 L742.0,125.86 L744.0,126.50 L746.0,127.13 L748.0,127.77 L750.0,128.41 L752.0,129.05 L754.0,129.69 L756.0,130.34 L758.0,130.98 L760.0,131.63 L762.0,132.28 L764.0,132.93 L766.0,133.59 L768.0,134.24 L770.0,134.90 L772.0,135.56 L774.0,136.22 L776.0,136.88 L778.0,137.54 L780.0,138.20 L782.0,138.86 L784.0,139.53 L786.0,140.20 L788.0,140.87 L790.0,141.54 L792.0,142.21 L794.0,142.88 L796.0,143.56 L798.0,144.23 L800.0,144.91 L802.0,145.59 L804.0,146.28 L806.0,146.96 L808.0,147.65 L810.0,148.33 L812.0,149.02 L814.0,149.72 L816.0,150.41 L818.0,151.10 L820.0,151.80 L822.0,152.50 L824.0,153.20 L826.0,153.91 L828.0,154.61 L830.0,155.32 L832.0,156.03 L834.0,156.74 L835.9,157.46 L837.9,158.17 L839.9,158.89 L841.9,159.61 L843.9,160.34 L845.9,161.06 L847.9,161.79 L849.9,162.52 L851.9,163.25 L853.9,163.99 L855.9,164.72 L857.9,165.46 L859.9,166.20 L861.9,166.95 L863.9,167.69 L865.9,168.44 L867.9,169.19 L869.9,169.94 L871.9,170.69 L873.9,171.45 L875.9,172.20 L877.9,172.96 L879.9,173.73 L881.9,174.49 L883.9,175.26 L885.9,176.02 L887.9,176.80 L889.9,177.57 L891.9,178.34 L893.9,179.12 L895.9,179.90 L897.9,180.68 L899.9,181.46 L901.9,182.25 L903.9,183.04 L905.9,183.83 L907.9,184.62 L909.9,185.42 L911.9,186.21 L913.9,187.01 L915.9,187.82 L917.9,188.62 L919.9,189.43 L921.9,190.24 L923.9,191.05 L925.9,191.86 L927.9,192.68 L929.9,193.49 L931.9,194.31 L933.9,195.14 L935.9,195.96 L937.9,196.79 L939.9,197.62 L941.9,198.45 L943.9,199.28 L945.9,200.12 L947.8,200.96 L949.8,201.80 L951.8,202.64 L953.8,203.48 L955.8,204.32 L957.8,205.17 L959.8,206.02 L961.8,206.87 L963.8,207.72 L965.8,208.58 L967.8,209.44 L969.8,210.30 L971.8,211.16 L973.8,212.03 L975.8,212.90 L977.8,213.77 L979.8,214.64 L981.8,215.52 L983.8,216.40 L985.8,217.29 L987.8,218.17 L989.8,219.07 L991.8,219.96 L993.8,220.86 L995.8,221.76 L997.8,222.67 L999.8,223.58 L1001.8,224.49 L1003.8,225.41 L1005.8,226.33 L1007.8,227.26 L1009.8,228.19 L1011.8,229.13 L1013.8,230.06 L1015.8,231.00 L1017.8,231.95 L1019.8,232.90 L1021.8,233.85 L1023.8,234.81 L1025.8,235.77 L1027.8,236.73 L1029.8,237.70 L1031.8,238.67 L1033.8,239.65 L1035.8,240.62 L1037.8,241.60 L1039.8,242.59 L1041.8,243.58 L1043.8,244.57 L1045.8,245.57 L1047.8,246.56 L1049.8,247.57 L1051.8,248.57 L1053.8,249.58 L1055.8,250.59 L1057.7,251.61 L1059.7,252.62 L1061.7,253.64 L1063.7,254.66 L1065.7,255.69 L1067.7,256.71 L1069.7,257.74 L1071.7,258.77 L1073.7,259.80 L1075.7,260.84 L1077.7,261.88 L1079.7,262.93 L1081.7,263.98 L1083.7,265.03 L1085.7,266.09 L1087.7,267.16 L1089.7,268.22 L1091.7,269.30 L1093.7,270.38 L1095.7,271.47 L1097.7,272.56 L1099.7,273.66 L1101.7,274.77 L1103.7,275.88 L1105.7,277.01 L1107.7,278.14 L1109.7,279.27 L1111.7,280.42 L1113.7,281.57 L1115.7,282.74 L1117.7,283.91 L1119.7,285.09 L1121.7,286.28 L1123.7,287.47 L1125.7,288.68 L1127.7,289.89 L1129.7,291.10 L1131.7,292.33 L1133.7,293.56 L1135.7,294.81 L1137.7,296.05 L1139.7,297.31 L1141.7,298.57 L1143.7,299.84 L1145.7,301.12 L1147.7,302.40 L1149.7,303.69 L1151.7,304.99 L1153.7,306.29 L1155.7,307.60 L1157.7,308.91 L1159.7,310.23 L1161.7,311.56 L1163.7,312.90 L1165.7,314.24 L1167.7,315.58 L1169.6,316.94 L1171.6,318.30 L1173.6,319.69 L1175.6,321.09 L1177.6,322.51 L1179.6,323.94 L1181.6,325.39 L1183.6,326.85 L1185.6,328.33 L1187.6,329.82 L1189.6,331.33 L1191.6,332.86 L1193.6,334.41 L1195.6,335.98 L1197.6,337.57 L1199.6,339.19 L1201.6,340.82 L1203.6,342.48 L1205.6,344.18 L1207.6,345.89 L1209.6,347.63 L1211.6,349.37 L1213.6,351.14 L1215.6,352.91 L1217.6,354.71 L1219.6,356.52 L1221.6,358.35 L1223.6,360.20" stroke="#00ff00" stroke-width="4.3"/>
<path d="M336.4,34.50 L338.4,34.71 L340.4,34.93 L342.4,35.15 L344.4,35.37 L346.4,35.60 L348.4,35.83 L350.4,36.06 L352.4,36.30 L354.4,36.54 L356.4,36.78 L358.4,37.03 L360.4,37.28 L362.4,37.53 L364.4,37.79 L366.4,38.05 L368.4,38.31 L370.4,38.58 L372.4,38.84 L374.4,39.12 L376.4,39.39 L378.4,39.67 L380.4,39.94 L382.4,40.22 L384.4,40.51 L386.4,40.79 L388.4,41.08 L390.4,41.37 L392.3,41.67 L394.3,41.97 L396.3,42.27 L398.3,42.58 L400.3,42.89 L402.3,43.21 L404.3,43.53 L406.3,43.85 L408.3,44.18 L410.3,44.52 L412.3,44.86 L414.3,45.20 L416.3,45.54 L418.3,45.89 L420.3,46.24 L422.3,46.59 L424.3,46.95 L426.3,47.31 L428.3,47.67 L430.3,48.03 L432.3,48.40 L434.3,48.77 L436.3,49.13 L438.3,49.51 L440.3,49.88 L442.3,50.25 L444.3,50.62 L446.3,51.00 L448.3,51.37 L450.3,51.75 L452.3,52.13 L454.3,52.52 L456.3,52.91 L458.3,53.30 L460.3,53.69 L462.3,54.09 L464.3,54.49 L466.3,54.89 L468.3,55.30 L470.3,55.71 L472.3,56.11 L474.3,56.53 L476.3,56.94 L478.3,57.36 L480.3,57.77 L482.3,58.19 L484.3,58.62 L486.3,59.04 L488.3,59.46 L490.3,59.89 L492.3,60.32 L494.3,60.74 L496.3,61.17 L498.3,61.60 L500.3,62.04 L502.3,62.47 L504.2,62.90 L506.2,63.34 L508.2,63.77 L510.2,64.21 L512.2,64.65 L514.2,65.10 L516.2,65.54 L518.2,65.99 L520.2,66.44 L522.2,66.89 L524.2,67.34 L526.2,67.79 L528.2,68.25 L530.2,68.71 L532.2,69.16 L534.2,69.62 L536.2,70.09 L538.2,70.55 L540.2,71.02 L542.2,71.48 L544.2,71.95 L546.2,72.42 L548.2,72.89 L550.2,73.36 L552.2,73.84 L554.2,74.31 L556.2,74.79 L558.2,75.26 L560.2,75.74 L562.2,76.22 L564.2,76.71 L566.2,77.19 L568.2,77.68 L570.2,78.16 L572.2,78.65 L574.2,79.14 L576.2,79.64 L578.2,80.13 L580.2,80.63 L582.2,81.12 L584.2,81.62 L586.2,82.12 L588.2,82.62 L590.2,83.13 L592.2,83.63 L594.2,84.14 L596.2,84.65 L598.2,85.16 L600.2,85.67 L602.2,86.18 L604.2,86.69 L606.2,87.21 L608.2,87.73 L610.2,88.24 L612.2,88.76 L614.1,89.28 L616.1,89.80 L618.1,90.33 L620.1,90.85 L622.1,91.38 L624.1,91.90 L626.1,92.43 L628.1,92.97 L630.1,93.50 L632.1,94.03 L634.1,94.57 L636.1,95.10 L638.1,95.64 L640.1,96.18 L642.1,96.73 L644.1,97.27 L646.1,97.81 L648.1,98.36 L650.1,98.91 L652.1,99.46 L654.1,100.01 L656.1,100.56 L658.1,101.11 L660.1,101.67 L662.1,102.23 L664.1,102.78 L666.1,103.34 L668.1,103.91 L670.1,104.47 L672.1,105.03 L674.1,105.60 L676.1,106.16 L678.1,106.73 L680.1,107.30 L682.1,107.87 L684.1,108.45 L686.1,109.02 L688.1,109.60 L690.1,110.17 L692.1,110.75 L694.1,111.33 L696.1,111.91 L698.1,112.50 L700.1,113.08 L702.1,113.67 L704.1,114.26 L706.1,114.85 L708.1,115.45 L710.1,116.04 L712.1,116.64 L714.1,117.24 L716.1,117.84 L718.1,118.44 L720.1,119.05 L722.1,119.66 L724.1,120.27 L726.0,120.88 L728.0,121.49 L730.0,122.11 L732.0,122.73 L734.0,123.35 L736.0,123.98 L738.0,124.60 L740.0,125.23 L742.0,125.86 L744.0,126.50 L746.0,127.13 L748.0,127.77 L750.0,128.41 L752.0,129.05 L754.0,129.69 L756.0,130.34 L758.0,130.98 L760.0,131.63 L762.0,132.28 L764.0,132.93 L766.0,133.59 L768.0,134.24 L770.0,134.90 L772.0,135.56 L774.0,136.22 L776.0,136.88 L778.0,137.54 L780.0,138.20 L782.0,138.86 L784.0,139.53 L786.0,140.20 L788.0,140.87 L790.0,141.54 L792.0,142.21 L794.0,142.88 L796.0,143.56 L798.0,144.23 L800.0,144.91 L802.0,145.59 L804.0,146.28 L806.0,146.96 L808.0,147.65 L810.0,148.33 L812.0,149.02 L814.0,149.72 L816.0,150.41 L818.0,151.10 L820.0,151.80 L822.0,152.50 L824.0,153.20 L826.0,153.91 L828.0,154.61 L830.0,155.32 L832.0,156.03 L834.0,156.74 L835.9,157.46 L837.9,158.17 L839.9,158.89 L841.9,159.61 L843.9,160.34 L845.9,161.06 L847.9,161.79 L849.9,162.52 L851.9,163.25 L853.9,163.99 L855.9,164.72 L857.9,165.46 L859.9,166.20 L861.9,166.95 L863.9,167.69 L865.9,168.44 L867.9,169.19 L869.9,169.94 L871.9,170.69 L873.9,171.45 L875.9,172.20 L877.9,172.96 L879.9,173.73 L881.9,174.49 L883.9,175.26 L885.9,176.02 L887.9,176.80 L889.9,177.57 L891.9,178.34 L893.9,179.12 L895.9,179.90 L897.9,180.68 L899.9,181.46 L901.9,182.25 L903.9,183.04 L905.9,183.83 L907.9,184.62 L909.9,185.42 L911.9,186.21 L913.9,187.01 L915.9,187.82 L917.9,188.62 L919.9,189.43 L921.9,190.24 L923.9,191.05 L925.9,191.86 L927.9,192.68 L929.9,193.49 L931.9,194.31 L933.9,195.14 L935.9,195.96 L937.9,196.79 L939.9,197.62 L941.9,198.45 L943.9,199.28 L945.9,200.12 L947.8,200.96 L949.8,201.80 L951.8,202.64 L953.8,203.48 L955.8,204.32 L957.8,205.17 L959.8,206.02 L961.8,206.87 L963.8,207.72 L965.8,208.58 L967.8,209.44 L969.8,210.30 L971.8,211.16 L973.8,212.03 L975.8,212.90 L977.8,213.77 L979.8,214.64 L981.8,215.52 L983.8,216.40 L985.8,217.29 L987.8,218.17 L989.8,219.07 L991.8,219.96 L993.8,220.86 L995.8,221.76 L997.8,222.67 L999.8,223.58 L1001.8,224.49 L1003.8,225.41 L1005.8,226.33 L1007.8,227.26 L1009.8,228.19 L1011.8,229.13 L1013.8,230.06 L1015.8,231.00 L1017.8,231.95 L1019.8,232.90 L1021.8,233.85 L1023.8,234.81 L1025.8,235.77 L1027.8,236.73 L1029.8,237.70 L1031.8,238.67 L1033.8,239.65 L1035.8,240.62 L1037.8,241.60 L1039.8,242.59 L1041.8,243.58 L1043.8,244.57 L1045.8,245.57 L1047.8,246.56 L1049.8,247.57 L1051.8,248.57 L1053.8,249.58 L1055.8,250.59 L1057.7,251.61 L1059.7,252.62 L1061.7,253.64 L1063.7,254.66 L1065.7,255.69 L1067.7,256.71 L1069.7,257.74 L1071.7,258.77 L1073.7,259.80 L1075.7,260.84 L1077.7,261.88 L1079.7,262.93 L1081.7,263.98 L1083.7,265.03 L1085.7,266.09 L1087.7,267.16 L1089.7,268.22 L1091.7,269.30 L1093.7,270.38 L1095.7,271.47 L1097.7,272.56 L1099.7,273.66 L1101.7,274.77 L1103.7,275.88 L1105.7,277.01 L1107.7,278.14 L1109.7,279.27 L1111.7,280.42 L1113.7,281.57 L1115.7,282.74 L1117.7,283.91 L1119.7,285.09 L1121.7,286.28 L1123.7,287.47 L1125.7,288.68 L1127.7,289.89 L1129.7,291.10 L1131.7,292.33 L1133.7,293.56 L1135.7,294.81 L1137.7,296.05 L1139.7,297.31 L1141.7,298.57 L1143.7,299.84 L1145.7,301.12 L1147.7,302.40 L1149.7,303.69 L1151.7,304.99 L1153.7,306.29 L1155.7,307.60 L1157.7,308.91 L1159.7,310.23 L1161.7,311.56 L1163.7,312.90 L1165.7,314.24 L1167.7,315.58 L1169.6,316.94 L1171.6,318.30 L1173.6,319.69 L1175.6,321.09 L1177.6,322.51 L1179.6,323.94 L1181.6,325.39 L1183.6,326.85 L1185.6,328.33 L1187.6,329.82 L1189.6,331.33 L1191.6,332.86 L1193.6,334.41 L1195.6,335.98 L1197.6,337.57 L1199.6,339.19 L1201.6,340.82 L1203.6,342.48 L1205.6,344.18 L1207.6,345.89 L1209.6,347.63 L1211.6,349.37 L1213.6,351.14 L1215.6,352.91 L1217.6,354.71 L1219.6,356.52 L1221.6,358.35 L1223.6,360.20" stroke="#0000ff" stroke-width="4.3" stroke-dasharray="17.2 14.22" stroke-dashoffset="4.3"/>
</g>
<g fill="none" stroke="#ff0000" stroke-width="4.3">
<circle cx="336.4" cy="34.5" r="8.0"/>
<circle cx="391.9" cy="41.6" r="8.0"/>
<circle cx="447.4" cy="51.2" r="8.0"/>
<circle cx="502.9" cy="62.6" r="8.0"/>
<circle cx="558.3" cy="75.3" r="8.0"/>
<circle cx="613.8" cy="89.2" r="8.0"/>
<circle cx="669.3" cy="104.2" r="8.0"/>
<circle cx="724.8" cy="120.5" r="8.0"/>
<circle cx="780.3" cy="138.3" r="8.0"/>
<circle cx="835.8" cy="157.4" r="8.0"/>
<circle cx="891.3" cy="178.1" r="8.0"/>
<circle cx="946.8" cy="200.5" r="8.0"/>
<circle cx="1002.2" cy="224.7" r="8.0"/>
<circle cx="1057.7" cy="251.6" r="8.0"/>
<circle cx="1113.2" cy="281.3" r="8.0"/>
<circle cx="1168.7" cy="316.3" r="8.0"/>
<circle cx="1223.9" cy="364.1" r="8.0"/>
</g>
<text class="t" transform="translate(335.9,790.3) scale(1,1.04)" text-anchor="middle">0</text>
<text class="t" transform="translate(556.8,790.3) scale(1,1.04)" text-anchor="middle">0.166</text>
<text class="t" transform="translate(778.1,790.3) scale(1,1.04)" text-anchor="middle">0.332</text>
<text class="t" transform="translate(999.4,790.3) scale(1,1.04)" text-anchor="middle">0.498</text>
<text class="t" transform="translate(1219.7,790.3) scale(1,1.04)" text-anchor="middle">0.664</text>
<defs><clipPath id="c1"><path d="M290,10 H330 V47.7 H315.7 V60 H310.9 V47.7 H290 Z"/></clipPath></defs>
<text class="t" transform="translate(322.6,752.65) scale(1,1.035)" text-anchor="end">0</text>
<text class="t" transform="translate(322.6,577.97) scale(1,1.035)" text-anchor="end">0.25</text>
<text class="t" transform="translate(322.6,402.39) scale(1,1.035)" text-anchor="end">0.5</text>
<text class="t" transform="translate(322.6,226.79) scale(1,1.035)" text-anchor="end">0.75</text>
<g clip-path="url(#c1)"><text class="t" transform="translate(323.9,52.35) scale(1,1.035)" text-anchor="end">1</text></g>
<rect x="555.5" y="399.4" width="447.0" height="321.9" fill="#fff" stroke="#262626" stroke-width="1.4"/>
<line x1="563.2" y1="423.8" x2="644.5" y2="423.8" stroke="#000" stroke-width="4.3"/>
<line x1="563.2" y1="469.7" x2="644.5" y2="469.7" stroke="#d95319" stroke-width="4.3"/>
<line x1="563.2" y1="514.4" x2="644.5" y2="514.4" stroke="#7e2f8e" stroke-width="4.3"/>
<line x1="563.2" y1="559.8" x2="644.5" y2="559.8" stroke="#4dbeee" stroke-width="4.3"/>
<line x1="563.2" y1="605.4" x2="644.5" y2="605.4" stroke="#77ac30" stroke-width="4.3"/>
<line x1="563.2" y1="650.9" x2="644.5" y2="650.9" stroke="#0000ff" stroke-width="4.3" stroke-dasharray="16.5 15"/>
<circle cx="604.1" cy="695.2" r="8.0" fill="none" stroke="#ff0000" stroke-width="4.3"/>
<text class="l" x="649.37" y="433.7" textLength="96.66" lengthAdjust="spacingAndGlyphs">Initial</text>
<text class="l" x="759.35" y="433.7" textLength="85.91" lengthAdjust="spacingAndGlyphs">guess</text>
<text class="l" x="649.32" y="479.6" textLength="46.32" lengthAdjust="spacingAndGlyphs">1st</text>
<text class="l" x="709.18" y="479.6" textLength="138.63" lengthAdjust="spacingAndGlyphs">iteration</text>
<text class="l" x="650.17" y="524.3" textLength="57.05" lengthAdjust="spacingAndGlyphs">2nd</text>
<text class="l" x="722.59" y="524.3" textLength="137.22" lengthAdjust="spacingAndGlyphs">iteration</text>
<text class="l" x="650.11" y="569.7" textLength="52.30" lengthAdjust="spacingAndGlyphs">3rd</text>
<text class="l" x="714.58" y="569.7" textLength="138.63" lengthAdjust="spacingAndGlyphs">iteration</text>
<text class="l" x="651.20" y="615.3" textLength="63.65" lengthAdjust="spacingAndGlyphs">The</text>
<text class="l" x="725.57" y="615.3" textLength="58.63" lengthAdjust="spacingAndGlyphs">rest</text>
<text class="l" x="797.14" y="615.3" textLength="31.46" lengthAdjust="spacingAndGlyphs">of</text>
<text class="l" x="840.79" y="615.3" textLength="152.03" lengthAdjust="spacingAndGlyphs">iterations</text>
<text class="l" x="651.15" y="660.8" textLength="68.69" lengthAdjust="spacingAndGlyphs">Free</text>
<text class="l" x="729.48" y="660.8" textLength="120.98" lengthAdjust="spacingAndGlyphs">Surface</text>
<text class="l" x="651.19" y="705.1" textLength="101.42" lengthAdjust="spacingAndGlyphs">Elliott</text>
<text class="l" x="766.55" y="705.1" textLength="55.06" lengthAdjust="spacingAndGlyphs">and</text>
<text class="l" x="838.18" y="705.1" textLength="157.64" lengthAdjust="spacingAndGlyphs">Ockendon</text>
<text class="a" transform="translate(37.5,392.1) scale(1.068,1)" x="0.8" y="0" font-size="88" text-anchor="middle">Z</text>
<text class="a" transform="translate(802.3,1006.2) skewX(6) scale(1.1,1)" x="0" y="0" font-size="88.6" text-anchor="middle">X</text>
</svg></body></html>
